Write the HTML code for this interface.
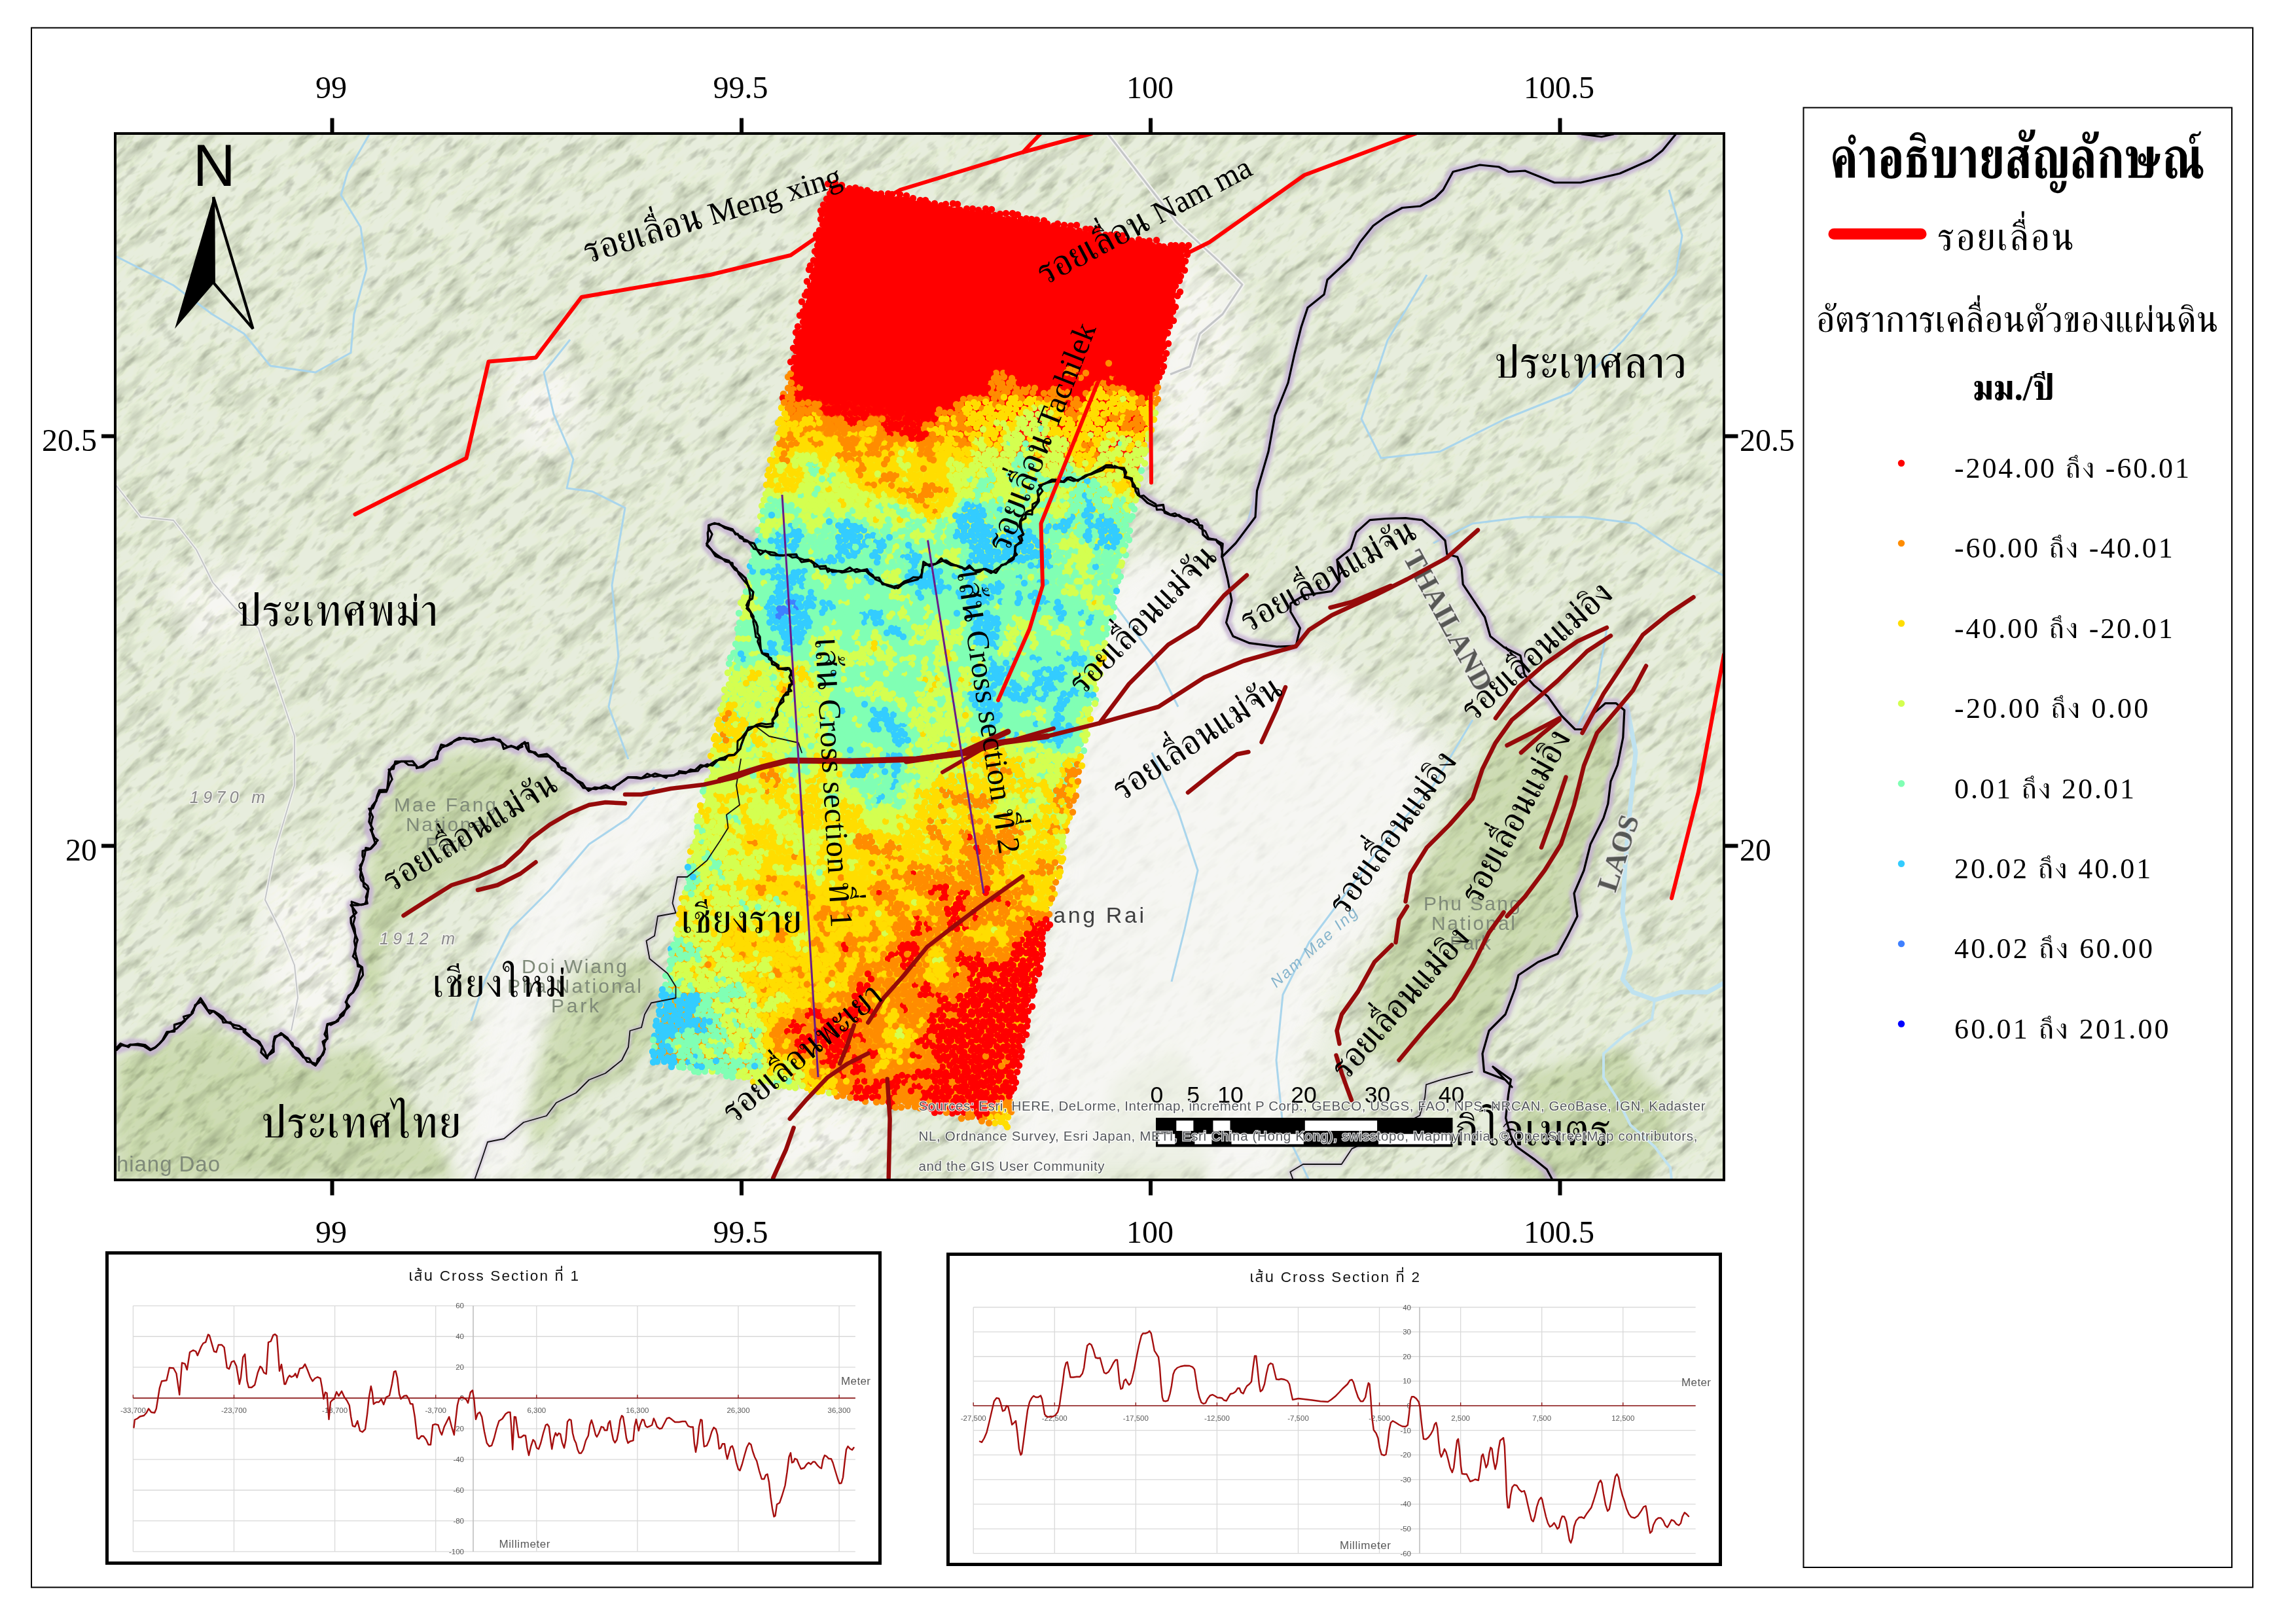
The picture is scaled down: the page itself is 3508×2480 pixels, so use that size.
<!DOCTYPE html>
<html><head><meta charset="utf-8"><title>map</title><style>html,body{margin:0;padding:0;background:#fff}svg{display:block}</style></head><body>
<svg width="3508" height="2480" viewBox="0 0 3508 2480" font-family="'Liberation Serif','FreeSerif','Noto Serif Thai','Loma',serif" fill="#000">
<defs>
<clipPath id="mc"><rect x="176" y="204" width="2458" height="1599"/></clipPath>
<linearGradient id="swg" gradientUnits="userSpaceOnUse" x1="1500" y1="300" x2="1260" y2="1700">
<stop offset="0" stop-color="#ff0000"/><stop offset=".24" stop-color="#ff0000"/><stop offset=".29" stop-color="#ffdd00"/><stop offset=".36" stop-color="#d4ff50"/><stop offset=".42" stop-color="#80ffb4"/><stop offset=".6" stop-color="#80ffb4"/><stop offset=".68" stop-color="#d4ff50"/><stop offset=".75" stop-color="#ffdd00"/><stop offset="1" stop-color="#ff8c00"/></linearGradient>
<filter id="hill" x="0" y="0" width="100%" height="100%" color-interpolation-filters="sRGB">
<feTurbulence type="fractalNoise" baseFrequency="0.014 0.05" numOctaves="4" seed="7" result="n"/>
<feColorMatrix type="matrix" values="0.46 0 0 0 0.775  0.46 0 0 0 0.785  0.46 0 0 0 0.755  0 0 0 0 1"/>
</filter>
<filter id="hill2" x="0" y="0" width="100%" height="100%" color-interpolation-filters="sRGB">
<feTurbulence type="fractalNoise" baseFrequency="0.035 0.09" numOctaves="3" seed="11"/>
<feColorMatrix type="matrix" values="0.55 0 0 0 0.745  0.55 0 0 0 0.75  0.55 0 0 0 0.735  0 0 0 0 1"/>
</filter>
<filter id="b30" x="-20%" y="-20%" width="140%" height="140%"><feGaussianBlur stdDeviation="22"/></filter>
<filter id="b12" x="-20%" y="-20%" width="140%" height="140%"><feGaussianBlur stdDeviation="10"/></filter>
<filter id="halo" x="-5%" y="-5%" width="110%" height="110%"><feGaussianBlur stdDeviation="2.2"/></filter>
</defs>
<rect width="3508" height="2480" fill="#fff"/>
<rect x="48" y="42.5" width="3394" height="2383" fill="none" stroke="#000" stroke-width="2"/>
<g clip-path="url(#mc)">
<rect x="176" y="204" width="2458" height="1599" fill="#e7eddd"/>
<g filter="url(#b30)" fill="#f6f6f2">
<polygon points="1640,930 1760,850 1860,880 1905,1000 2010,1010 2120,1090 2200,1150 2160,1290 2110,1400 2030,1500 1990,1640 1960,1803 1500,1803 1540,1722 1600,1430"/>
<polygon points="930,1215 1080,1195 1040,1290 930,1380 880,1470 830,1560 800,1700 790,1803 700,1803 720,1660 740,1540 770,1440 810,1350 860,1270"/>
<polygon points="770,560 860,540 900,620 860,700 790,690"/>
<polygon points="1740,380 1880,420 1900,560 1830,700 1780,760 1760,600"/>
<polygon points="1180,1640 1350,1700 1330,1803 1120,1803"/>
<polygon points="400,1330 545,1300 548,1480 530,1540 490,1600 440,1590 395,1500"/>
<polygon points="250,880 400,860 430,960 300,1000"/>
</g>
<g filter="url(#b12)" fill="#cddbb4">
<polygon points="600,1190 690,1150 790,1160 880,1210 840,1250 760,1310 660,1370 600,1420 570,1560 540,1480 570,1300"/>
<polygon points="2290,1100 2390,1110 2470,1090 2470,1200 2430,1330 2390,1450 2310,1510 2270,1620 2170,1640 2080,1600 2100,1480 2150,1380 2190,1290 2260,1180"/>
<polygon points="176,1620 300,1560 420,1620 560,1600 640,1700 700,1803 176,1803"/>
<polygon points="880,1480 1000,1460 1020,1560 960,1640 880,1680 820,1760 800,1700 830,1580"/>
<polygon points="1700,1650 1800,1600 1860,1700 1840,1803 1660,1803"/>
<polygon points="2330,1640 2480,1600 2560,1700 2520,1803 2300,1803"/>
</g>
<rect x="-60" y="-430" width="2930" height="2870" filter="url(#hill)" transform="rotate(-42 1405 1003)" style="mix-blend-mode:multiply"/>
<rect x="-60" y="-430" width="2930" height="2870" filter="url(#hill2)" transform="rotate(-40 1405 1003)" style="mix-blend-mode:multiply"/>
<g filter="url(#b30)" fill="#f7f7f4" opacity=".8">
<polygon points="1640,930 1760,850 1860,880 1905,1000 2010,1010 2120,1090 2200,1150 2160,1290 2110,1400 2030,1500 1990,1640 1960,1803 1500,1803 1540,1722 1600,1430"/>
<polygon points="930,1215 1080,1195 1040,1290 930,1380 880,1470 830,1560 800,1700 790,1803 700,1803 720,1660 740,1540 770,1440 810,1350 860,1270"/>
</g>
<g fill="none" stroke="#a9d5ec" stroke-width="3" stroke-linejoin="round">
<polyline points="565,204 531,263 521,298 551,347 560,411 541,480 536,539 482,569 413,559 373,510 324,480 265,436 176,391"/>
<polyline points="871,519 831,569 846,633 876,702 866,746 905,751 955,776 945,835 935,894 945,1004 930,1080 960,1160"/>
<polyline points="1000,1203 960,1250 900,1290 840,1360 780,1420 740,1500 720,1560"/>
<polyline points="1920,750 1900,820 1868,851"/>
<polyline points="2180,420 2120,520 2080,640 2110,700 2200,690 2300,640 2400,600 2480,520 2560,420 2570,360 2550,290"/>
<polyline points="2634,880 2560,840 2500,800 2420,790 2330,790 2250,800 2190,830"/>
<polyline points="2455,960 2440,1050 2410,1110"/>
<polyline points="2250,1100 2190,1200 2120,1280 2060,1360 2000,1440 1960,1520 1950,1620 1960,1720 2000,1803"/>
<polyline points="1760,1150 1800,1240 1830,1330 1810,1420 1790,1500"/>
<polyline points="1640,870 1700,920 1760,1000 1800,1080"/>
</g>
<g fill="none" stroke="#bfe2f0" stroke-width="7" stroke-linejoin="round">
<polyline points="2485,1075 2499,1150 2491,1231 2483,1321 2479,1394 2491,1455 2479,1496 2495,1516 2528,1528 2568,1516 2609,1516 2634,1502"/>
<polyline stroke-width="4" points="2528,1528 2524,1557 2483,1581 2450,1610 2450,1646 2471,1679 2491,1719 2528,1752 2552,1784 2554,1803"/>
</g>
<polyline points="1693,205 1728,250 1798,340 1863,400 1898,435 1868,480 1833,510 1818,560 1788,572" fill="none" stroke="#f4f4f2" stroke-width="7" stroke-linejoin="round"/>
<polyline points="1693,205 1728,250 1798,340 1863,400 1898,435 1868,480 1833,510 1818,560 1788,572" fill="none" stroke="#c4c6c8" stroke-width="3" stroke-linejoin="round"/>
<polyline points="176,740 215,790 265,795 300,840 325,890 360,930 395,960 425,1050 450,1125 450,1200 420,1300 405,1375 430,1425 450,1475 455,1525 445,1575" fill="none" stroke="#f4f4f2" stroke-width="5" stroke-linejoin="round" opacity=".8"/>
<polyline points="176,740 215,790 265,795 300,840 325,890 360,930 395,960 425,1050 450,1125 450,1200 420,1300 405,1375 430,1425 450,1475 455,1525 445,1575" fill="none" stroke="#c2c4c6" stroke-width="1.8" stroke-linejoin="round"/>
<polyline points="2560,205.5 2540,230 2522.5,244 2475,265 2415,279 2375,279 2330,261 2305,262.5 2290,255 2261,252 2220,262.5 2205,290 2192.5,302.5 2170,315 2142.5,317.5 2117.5,331 2098,345 2078,370 2063,395 2028,427.5 2023,450 1998,470 1988,500 1978,540 1968,585 1948,635 1938,690 1920.5,750 1918,790 1888,830 1867,851" fill="none" stroke="#b9dcee" stroke-width="7" stroke-linejoin="round" opacity=".8"/>
<g font-family="'Liberation Sans','Noto Sans Thai','Loma','FreeSans',sans-serif" fill="#7f8a79" font-size="30" letter-spacing="2">
<text x="290" y="1227" font-style="italic" font-size="25" fill="#8a8a8a" stroke="#f2f2ee" stroke-width="3" paint-order="stroke" textLength="117">1970 m</text>
<text x="580" y="1443" font-style="italic" font-size="25" fill="#8a8a8a" stroke="#f2f2ee" stroke-width="3" paint-order="stroke" textLength="117">1912 m</text>
<text x="602" y="1240" textLength="158">Mae Fang</text><text x="620" y="1270" textLength="130">National</text><text x="650" y="1300" textLength="65">Park</text>
<text x="797" y="1487" textLength="163">Doi Wiang</text><text x="775" y="1517" textLength="207">Pha National</text><text x="842" y="1547" textLength="75">Park</text>
<text x="2175" y="1391" textLength="150">Phu Sang</text><text x="2187" y="1421" textLength="130">National</text><text x="2215" y="1451" textLength="65">Park</text>
<text x="178" y="1790" font-size="33" textLength="160">hiang Dao</text>
<text x="1598" y="1410" font-size="34" fill="#3f3f3f" textLength="152" stroke="#f4f4f2" stroke-width="3" paint-order="stroke">iang Rai</text>
<text x="1950" y="1510" transform="rotate(-42 1950 1510)" font-style="italic" fill="#86b4cc" font-size="24" letter-spacing="2.5">Nam Mae Ing</text>
</g>
<g font-family="'Liberation Serif','FreeSerif','Noto Serif Thai','Loma',serif" fill="#3d3d3d" stroke="#e9e9e6" stroke-width="4" paint-order="stroke" font-weight="bold" opacity=".85">
<text x="2143" y="851" transform="rotate(61.4 2143 851)" font-size="44" textLength="238">THAILAND</text>
<text x="2468" y="1365" transform="rotate(-72 2468 1365)" font-size="44" textLength="120">LAOS</text>
</g>
<g filter="url(#halo)" opacity=".85">
<polyline points="177.5,1602.5 200,1595 220,1597.5 231,1605 250,1590 255,1577.5 272.5,1570 290,1550 297.5,1535 307.5,1529 320,1545 335,1550 350,1565 370,1572.5 385,1587.5 400,1597.5 405,1617.5 417.5,1605 420,1585 430,1580 445,1592.5 457.5,1610 470,1622.5 485,1627.5 492.5,1610 500,1565 515,1560 525,1550 531,1530 540,1515 547.5,1500 552.5,1480 542.5,1460 545,1430 539,1410 542.5,1395 537.5,1382.5 560,1380 562.5,1360 550,1330 557.5,1300 575,1290 565,1270 567.5,1240 580,1210 592.5,1207.5 595,1180 605,1167.5 625,1162.5 637.5,1172.5 650,1170 667.5,1160 670,1145 690,1135 710,1127.5 735,1135 755,1130 775,1137.5 790,1145 800,1135 810,1147.5 825,1155 837.5,1150 850,1165 865,1180 880,1192.5 900,1205 920,1205 945,1200 960,1190 980,1187.5 1000,1185 1025,1185 1047,1180.2 1078.4,1170.4 1105.8,1158.7 1129.4,1146.9 1133.3,1127.3 1152.9,1107.7 1180.3,1107.7 1188.2,1076.3 1203.8,1060.7 1211.7,1041 1207.8,1025.4 1188.2,1017.5 1164.6,997.9 1156.8,966.6 1143,927.4 1149,903.8 1137.2,884.2 1117.6,860.7 1094,849 1080.4,833.3 1082.3,801.9 1098,800 1121.5,813.7 1145,829.4 1156.8,841 1188.2,847 1213,850 1248,862.5 1273,875 1298,870 1323,870 1348,890 1363,898.5 1383,890 1408,880 1410.5,862.5 1438,857.5 1468,867.5 1498,872.5 1523,872.5 1548,850 1563,815 1558,795 1573,780 1588,760 1590.5,742.5 1608,735 1648,732.5 1668,725 1698,712.5 1713,715 1728,735 1740.5,755 1763,770 1788,785 1818,795 1838,805 1848,820 1868,832.5 1867,851" fill="none" stroke="#c6b3d3" stroke-width="17" stroke-linejoin="round" stroke-linecap="round" />
<polyline points="1867.2,851 1875.6,884.5 1881.9,917.9 1873.5,951.4 1884,972.3 1909.1,982.7 1950.9,988.2 1980.1,986.9 1986.4,959.8 1971.8,934.7 1971.8,922.1 1992.7,909.6 2034.5,903.3 2047,888.7 2042.9,855.2 2063.8,838.5 2072.1,813.4 2093,794.6 2118.1,792.5 2147.4,791.7 2172.5,794.6 2193.4,811.3 2208,826 2210.9,846.9 2226.8,851 2233.1,867.8 2235.2,892.9 2251.9,917.9 2268.6,943 2277,972.3 2297.9,989 2323,1001.6 2329.3,1030.8 2343.9,1047.6 2364.8,1064.3 2385.7,1093.5 2406.6,1114.5 2419.2,1114.5 2435.9,1089.4 2452.6,1074.7 2469.3,1074.7 2481.9,1085.2 2479.8,1127 2471.4,1168.8 2461,1193.9 2456.8,1228.2 2450,1250 2430,1290 2420,1330 2405,1365 2410,1400 2395,1430 2380,1457.5 2350,1470 2320,1490 2315,1510 2300,1550 2275,1575 2265,1610 2267.5,1637.5 2300,1650 2310,1661 2281,1630 2308.4,1649.6 2304.5,1673.1 2300.6,1708.4 2308.4,1735.8 2316.2,1751.5 2343.7,1771.1 2363.3,1786.8 2371.1,1801.3" fill="none" stroke="#c6b3d3" stroke-width="15" stroke-linejoin="round" stroke-linecap="round" />
<polyline points="2560,205.5 2540,230 2522.5,244 2475,265 2415,279 2375,279 2330,261 2305,262.5 2290,255 2261,252 2220,262.5 2205,290 2192.5,302.5 2170,315 2142.5,317.5 2117.5,331 2098,345 2078,370 2063,395 2028,427.5 2023,450 1998,470 1988,500 1978,540 1968,585 1948,635 1938,690 1920.5,750 1918,790 1888,830 1867,851" fill="none" stroke="#c6b3d3" stroke-width="15" stroke-linejoin="round" stroke-linecap="round" />
<polyline points="2417,205 2447,209 2465,205" fill="none" stroke="#c6b3d3" stroke-width="15" stroke-linejoin="round" stroke-linecap="round" />
<polyline points="1155,1110 1175,1125 1220,1135 1225,1150" fill="none" stroke="#cfc2d8" stroke-width="6" stroke-linejoin="round" stroke-linecap="round" />
<polyline points="1132,1160 1125,1200 1130,1230 1110,1245 1112.5,1265 1100,1285 1080,1315 1050,1340 1035,1340 1027.5,1380 1032.5,1395 1005,1400 1000,1430 987.5,1437.5 992.5,1465 1020,1487.5 1032.5,1507.5 1032.5,1525 995,1532.5 985,1550 980,1570 962.5,1575 960,1600 950,1620 925,1640 900,1650 880,1670 850,1685 835,1705 800,1715 770,1740 745,1745 735,1775 725,1803" fill="none" stroke="#cfc2d8" stroke-width="6" stroke-linejoin="round" stroke-linecap="round" />
<polyline points="2249.6,1637.8 2202.6,1649.6 2179,1657.4 2177.1,1677 2169.2,1704.5 2116.3,1731.9 2065.4,1755.4 2049.7,1779 1990.9,1779 1971.3,1790.7 1975.2,1801.3" fill="none" stroke="#cfc2d8" stroke-width="6" stroke-linejoin="round" stroke-linecap="round" />
</g>
<g fill="none" stroke-width="10.4" stroke-linecap="round"><polygon points="1269,283 1810,381 1534,1713 997,1618" fill="url(#swg)"/>
<path d="M1350 617h0M1324 585h0M1260 430h0M1216 586h0M1728 476h0M1297 601h0M1281 458h0M1468 1363h0M1736 482h0M1560 1519h0M1419 592h0M1318 329h0M1627 408h0M1413 381h0M1535 1482h0M1593 1458h0M1519 1480h0M1380 414h0M1603 553h0M1522 459h0M1426 452h0M1682 515h0M1267 310h0M1639 353h0M1392 1449h0M1541 412h0M1401 517h0M1613 462h0M1663 438h0M1706 548h0M1312 438h0M1436 468h0M1598 544h0M1478 338h0M1751 560h0M1339 544h0M1668 475h0M1584 570h0M1791 431h0M1389 569h0M1230 578h0M1336 391h0M1579 500h0M1257 454h0M1290 632h0M1400 360h0M1443 335h0M1500 563h0M1288 384h0M1359 367h0M1574 1452h0M1252 414h0M1304 623h0M1496 1551h0M1465 1577h0M1626 344h0M1526 453h0M1512 552h0M1362 522h0M1384 486h0M1314 1662h0M1478 445h0M1350 555h0M1483 1530h0M1342 492h0M1602 398h0M1568 1456h0M1613 522h0M1533 1600h0M1432 430h0M1432 321h0M1473 1466h0M1766 522h0M1420 1592h0M1632 368h0M1645 344h0M1445 1639h0M1358 578h0M1563 1482h0M1286 437h0M1269 322h0M1654 530h0M1398 1659h0M1519 1668h0M1455 326h0M1567 460h0M1560 1538h0M1600 373h0M1333 1677h0M1490 1636h0M1587 538h0M1329 1544h0M1338 624h0M1238 406h0M1496 1506h0M1428 483h0M1330 517h0M1767 584h0M1693 383h0M1511 1575h0M1288 478h0M1419 563h0M1704 523h0M1580 419h0M1588 576h0M1473 376h0M1328 313h0M1242 461h0M1377 631h0M1468 602h0M1632 521h0M1314 586h0M1410 313h0M1323 537h0M1258 485h0M1764 553h0M1548 1475h0M1435 435h0M1477 508h0M1498 1683h0M1634 577h0M1816 375h0M1385 299h0M1383 420h0M1375 359h0M1249 468h0M1377 444h0M1718 391h0M1257 548h0M1511 532h0M1342 306h0M1438 1558h0M1319 358h0M1252 352h0M1285 593h0M1751 500h0M1506 1489h0M1508 516h0M1283 1607h0M1527 1528h0M1288 522h0M1263 381h0M1605 414h0M1715 576h0M1418 548h0M1658 462h0M1616 342h0M1326 491h0M1296 585h0M1683 366h0M1660 468h0M1726 578h0M1440 1599h0M1384 546h0M1562 499h0M1338 359h0M1333 381h0M1450 585h0M1522 1551h0M1410 452h0M1536 469h0M1434 1643h0M1699 530h0M1514 446h0M1464 607h0M1719 509h0M1351 630h0M1760 517h0M1446 607h0M1665 491h0M1429 1652h0M1607 406h0M1479 1583h0M1638 554h0M1382 373h0M1729 521h0M1472 592h0M1512 1506h0M1720 493h0M1545 1544h0M1321 312h0M1414 1520h0M1359 491h0M1339 561h0M1338 342h0M1332 305h0M1384 641h0M1359 306h0M1758 412h0M1305 571h0M1360 616h0M1473 406h0M1748 523h0M1599 593h0M1469 1457h0M1759 530h0M1420 513h0M1605 584h0M1267 392h0M1724 374h0M1814 389h0M1721 368h0M1494 523h0M1565 392h0M1517 1654h0M1542 397h0M1423 540h0M1477 319h0M1481 500h0M1388 540h0M1620 429h0M1322 406h0M1629 414h0M1461 524h0M1365 498h0M1609 577h0M1213 1558h0M1578 1507h0M1638 398h0M1326 320h0M1463 390h0M1363 563h0M1544 423h0M1397 538h0M1286 360h0M1263 630h0M1487 1521h0M1562 531h0M1247 609h0M1467 1569h0M1431 1678h0M1343 428h0M1725 388h0M1504 1643h0M1317 381h0M1361 570h0M1470 428h0M1588 374h0M1433 476h0M1303 484h0M1400 1402h0M1465 360h0M1510 576h0M1710 429h0M1379 306h0M1620 415h0M1740 477h0M1519 454h0M1342 396h0M1449 602h0M1604 431h0M1380 431h0M1404 1458h0M1257 389h0M1695 431h0M1755 400h0M1482 422h0M1569 1568h0M1593 492h0M1301 531h0M1515 490h0M1508 405h0M1542 1662h0M1560 1553h0M1232 561h0M1416 1411h0M1533 1474h0M1506 350h0M1683 554h0M1482 547h0M1252 524h0M1302 298h0M1305 1613h0M1643 423h0M1763 577h0M1571 1545h0M1283 516h0M1552 389h0M1487 1394h0M1383 1451h0M1323 430h0M1459 1395h0M1501 500h0M1548 552h0M1440 431h0M1258 624h0M1510 1639h0M1760 544h0M1478 352h0M1610 391h0M1452 615h0M1512 524h0M1668 570h0M1493 529h0M1386 646h0M1393 451h0M1730 415h0M1468 1380h0M1233 430h0M1539 1473h0M1455 483h0M1575 1458h0M1410 670h0M1365 1686h0M1255 469h0M1224 523h0M1301 376h0M1606 531h0M1248 1574h0M1555 328h0M1431 1550h0M1569 382h0M1478 462h0M1498 513h0M1563 467h0M1347 329h0M1661 579h0M1249 375h0M1607 359h0M1356 516h0M1352 509h0M1780 498h0M1299 475h0M1668 505h0M1310 420h0M1706 484h0M1345 529h0M1748 492h0M1705 532h0M1675 474h0M1345 624h0M1566 443h0M1503 460h0M1600 500h0M1497 1707h0M1366 578h0M1740 600h0M1442 1538h0M1276 344h0M1452 334h0M1366 514h0M1569 524h0M1491 516h0M1604 444h0M1716 467h0M1333 523h0M1640 540h0M1231 468h0M1371 351h0M1782 414h0M1719 540h0M1472 500h0M1252 552h0M1571 437h0M1400 548h0M1804 422h0M1463 1465h0M1261 1582h0M1328 1667h0M1325 508h0M1665 537h0M1329 594h0M1495 1581h0M1568 1505h0M1751 469h0M1616 561h0M1495 429h0M1506 445h0M1434 521h0M1510 422h0M1589 498h0M1451 1410h0M1481 454h0M1568 1444h0M1775 506h0M1309 1652h0M1253 430h0M1490 467h0M1722 382h0M1713 477h0M1690 544h0M1537 453h0M1273 375h0M1342 415h0M1430 608h0M1493 1701h0M1785 525h0M1586 478h0M1383 516h0M1438 314h0M1543 1514h0M1440 616h0M1650 477h0M1335 414h0M1537 1576h0M1414 600h0M1466 451h0M1493 1464h0M1434 493h0M1693 368h0M1624 501h0M1528 1499h0M1505 414h0M1715 407h0M1349 405h0M1680 437h0M1495 321h0M1572 405h0M1367 1669h0M1442 522h0M1632 429h0M1446 454h0M1404 1426h0M1517 361h0M1522 1506h0M1337 1667h0M1787 422h0M1288 508h0M1706 419h0M1276 1622h0M1431 1662h0M1755 523h0M1476 1553h0M1225 603h0M1449 381h0M1406 306h0M1382 500h0M1560 1569h0M1511 501h0M1269 414h0M1303 591h0M1611 555h0M1418 1670h0M1426 561h0M1423 1694h0M1280 319h0M1364 654h0M1784 381h0M1371 397h0M1314 1520h0M1280 337h0M1378 475h0M1661 389h0M1464 373h0M1500 1590h0M1698 516h0M1300 1669h0M1639 429h0M1334 369h0M1287 491h0M1778 470h0M1673 454h0M1402 328h0M1355 423h0M1620 571h0M1438 390h0M1426 500h0M1482 563h0M1670 577h0M1544 438h0M1463 1558h0M1472 345h0M1701 413h0M1542 1519h0M1560 412h0M1709 514h0M1283 609h0M1401 640h0M1429 438h0M1425 398h0M1284 1637h0M1634 531h0M1482 1464h0M1564 373h0M1487 1581h0M1308 647h0M1527 1606h0M1543 1576h0M1295 529h0M1401 376h0M1734 501h0M1571 547h0M1356 344h0M1428 311h0M1428 343h0M1447 1667h0M1512 1661h0M1661 513h0M1477 1631h0M1622 553h0M1587 584h0M1689 405h0M1371 554h0M1446 422h0M1625 562h0M1702 447h0M1533 1503h0M1311 391h0M1472 1668h0M1449 365h0M1614 538h0M1547 1622h0M1250 439h0M1770 420h0M1393 610h0M1675 400h0M1584 524h0M1285 406h0M1499 531h0M1316 444h0M1364 610h0M1513 538h0M1640 383h0M1510 560h0M1590 344h0M1350 459h0M1715 499h0M1465 498h0M1424 368h0M1309 1544h0M1716 544h0M1500 454h0M1475 436h0M1552 1608h0M1742 437h0M1744 498h0M1680 577h0M1289 431h0M1641 523h0M1406 663h0M1587 599h0M1269 461h0M1475 560h0M1306 415h0" stroke="#ff0000"/>
<path d="M1445 1327h0M1268 1528h0M1234 1365h0M1539 1394h0M1338 1357h0M1539 1301h0M1496 1443h0M1686 585h0M1455 1496h0M1671 594h0M1279 1552h0M1452 1473h0M1504 1316h0M1220 640h0M1322 1280h0M1331 1558h0M1512 1302h0M1397 1678h0M1416 1333h0M1336 1433h0M1281 1442h0M1393 1543h0M1369 1413h0M1204 576h0M1305 693h0M1402 1575h0M1458 1443h0M1526 578h0M1622 600h0M1371 1488h0M1550 1425h0M1287 1536h0M1321 1436h0M1392 1606h0M1280 1659h0M1748 646h0M1537 1451h0M1536 1402h0M1105 1122h0M1299 1503h0M1619 1216h0M1544 1435h0M1259 1388h0M1305 1645h0M1700 576h0M1413 1566h0M1434 646h0M1195 672h0M1486 1382h0M1485 1285h0M1287 1460h0M1362 1364h0M1586 1396h0M1468 1223h0M1290 694h0M1452 1209h0M1454 1343h0M1260 1396h0M1429 1529h0M1153 1442h0M1494 1347h0M1549 1379h0M1358 1542h0M1346 1482h0M1459 1520h0M1393 747h0M1252 1567h0M1311 1608h0M1478 1394h0M1400 1483h0M1419 1387h0M1425 1348h0M1538 1683h0M1179 1177h0M1631 1176h0M1414 1457h0M1636 626h0M1194 1589h0M1418 1452h0M1328 1355h0M1242 1507h0M1388 757h0M1422 1614h0M1302 686h0M1280 664h0M1560 1365h0M1294 1668h0M1419 1622h0M1320 1621h0M1632 599h0M1266 657h0M1485 1318h0M1323 1630h0M1345 672h0M1290 1662h0M1418 1370h0M1354 1652h0M1409 1405h0M1224 633h0M1194 1606h0M1325 1476h0M1335 1506h0M1481 1358h0M1505 1271h0M1406 1535h0M1564 1418h0M1395 1567h0M1449 1504h0M1202 685h0M1363 1529h0M1295 1527h0M1323 1289h0M1412 1356h0M1197 602h0M1379 1661h0M1290 1628h0M1765 616h0M1640 1223h0M1400 765h0M1427 1421h0M1618 609h0M1438 1232h0M1452 1333h0M1543 1683h0M1532 1287h0M1502 1498h0M1487 1348h0M1515 1379h0M1433 1428h0M1648 1179h0M1319 656h0M1437 1405h0M1516 1467h0M1545 1699h0M1387 1613h0M1383 1636h0M1420 1684h0M1532 1318h0M1514 1224h0M1674 695h0M1344 1598h0M1593 1317h0M1289 1475h0M1346 1498h0M1450 1379h0M1323 1567h0M1441 1350h0M1245 1646h0M1543 591h0M1411 1624h0M1248 654h0M1407 758h0M1361 1598h0M1197 1566h0M1396 1319h0M1370 1396h0M1615 1265h0M1335 1647h0M1212 595h0M1396 1409h0M1372 671h0M1626 609h0M1366 1311h0M1325 646h0M1687 640h0M1382 1622h0M1449 1288h0M1560 1272h0M1242 1582h0M1235 1568h0M1459 1504h0M1359 1302h0M1440 1396h0M1634 563h0M1172 1191h0M1691 592h0M1334 694h0M1308 1504h0M1286 1449h0M1187 1435h0M1222 626h0M1472 1355h0M1491 1310h0M1576 1332h0M1331 640h0M1539 599h0M1511 1278h0M1563 1402h0M1367 1387h0M1313 1436h0M1441 1335h0M1445 1404h0M1375 749h0M1343 1380h0M1401 1464h0M1531 1460h0M1284 1468h0M1195 701h0M1407 1504h0M1500 624h0M1322 1683h0M1374 1296h0M1536 1278h0M1263 1628h0M1324 1536h0M1529 607h0M1343 1582h0" stroke="#ff8c00"/>
<path d="M1184 1559h0M1240 1620h0M1186 686h0M1170 1566h0M1554 1341h0M1379 1568h0M1219 1388h0M1449 742h0M1459 661h0M1209 1472h0M1459 1287h0M1268 1339h0M1587 1304h0M1194 1247h0M1543 1405h0M1373 1498h0M1247 1495h0M1384 1574h0M1711 618h0M1085 1371h0M1641 1161h0M1223 1233h0M1321 672h0M1522 1146h0M1760 623h0M1699 655h0M1613 663h0M1375 1357h0M1101 1239h0M1712 646h0M1196 1514h0M1201 1356h0M1328 1373h0M1215 1427h0M1400 1294h0M1518 1184h0M1199 1194h0M1164 1194h0M1253 1194h0M1381 688h0M1188 1224h0M1227 1457h0M1317 663h0M1486 1193h0M1656 646h0M1283 1512h0M1440 1458h0M1647 1161h0M1506 665h0M1495 1160h0M1590 1199h0M1175 1154h0M1344 743h0M1158 1278h0M1226 1022h0M1500 1263h0M1233 1443h0M1346 1403h0M1637 686h0M1132 1450h0M1222 1029h0M1374 1280h0M1671 625h0M1221 1265h0M1708 608h0M1250 1668h0M1517 641h0M1193 1620h0M1260 1193h0M1359 1565h0M1688 622h0M1305 1303h0M1634 1249h0M1086 1468h0M1508 1200h0M1186 1496h0M1213 1513h0M1500 1153h0M1148 1451h0M1447 1231h0M1433 1036h0M1200 1442h0M1270 1647h0M1239 1464h0M1716 735h0M1361 1552h0M1292 1496h0M1299 1333h0M1180 1457h0M1309 1308h0M1455 687h0M1568 1254h0M1173 1270h0M1535 1184h0M1504 1147h0M1401 1370h0M1108 1084h0M1486 646h0M1382 1308h0M1497 633h0M1348 1527h0M1370 1318h0M1534 1153h0M1212 1621h0M1266 1483h0M1551 1334h0M1099 1114h0M1247 1449h0M1735 609h0M1305 662h0M1303 1404h0M1531 1160h0M1494 1130h0M1179 1350h0M1266 673h0M1257 670h0M1503 1255h0M1270 1459h0M1720 743h0M1348 1343h0M1112 1436h0M1610 655h0M1677 646h0M1578 1255h0M1343 1457h0M1445 733h0M1419 1281h0M1219 1620h0M1497 1272h0M1500 1169h0M1220 734h0M1451 1272h0M1428 1217h0M1392 1405h0M1573 1310h0M1705 656h0M1150 1373h0M1457 1231h0M1389 679h0M1539 1211h0M1605 662h0M1414 1256h0M1280 1459h0M1603 648h0M1732 623h0M1254 1457h0M1245 1659h0M1249 1419h0M1184 1511h0M1190 1550h0M1302 1357h0M1610 1249h0M1682 607h0M1116 1133h0M1187 1404h0M1511 638h0M1351 1537h0M1612 647h0M1166 1450h0M1042 1405h0M1196 688h0M1302 1480h0M1488 678h0M1236 1409h0M1102 1109h0M1159 1373h0M1377 1270h0M1237 1389h0M1348 1294h0M1260 1378h0M1575 617h0M1333 1380h0M1458 1332h0M1156 1527h0M1186 719h0M1593 616h0M1346 719h0M1400 716h0M1418 1217h0M1239 1093h0M1495 664h0M1287 1332h0M1099 1222h0M1707 700h0M1352 1395h0M1197 648h0M1213 655h0M1327 766h0M1173 1224h0M1365 1558h0M1591 1308h0M1699 688h0M1413 1395h0M1280 1506h0M1346 701h0M1124 1435h0M1622 1177h0M1397 1271h0M1170 1178h0M1269 1381h0M1447 1280h0M1367 1355h0M1146 1036h0M1540 1163h0M1602 1209h0M1546 1343h0M1526 1356h0M1380 1285h0M1118 1413h0M1671 607h0M1513 1209h0M1292 1421h0M1521 1270h0M1230 1215h0M1259 1249h0M1422 709h0M1166 1277h0M1253 1208h0M1374 1248h0M1128 1444h0M1415 787h0M1268 1654h0M1225 1349h0M1368 695h0M1251 1378h0M1284 1309h0M1215 1020h0M1256 1357h0M1403 688h0M1536 1717h0M1193 1231h0M1434 1193h0M1398 773h0M1295 1466h0M1305 1379h0M1250 1202h0M1243 1615h0M1555 1247h0M1628 1234h0M1135 1441h0M1216 1504h0M1586 1366h0M1177 703h0M1463 1341h0M1448 1155h0M1611 1366h0M1419 797h0M1251 1164h0M1293 1483h0M1236 1038h0M1674 616h0M1609 624h0M1359 1613h0M1432 740h0M1607 1294h0M1235 1269h0M1585 1255h0M1532 1708h0M1539 1722h0M1442 1488h0M1212 1202h0M1431 1316h0M1437 1263h0M1433 1489h0M1243 1457h0M1562 1183h0M1170 1519h0M1266 1637h0M1418 1483h0M1479 1254h0M1303 1420h0M1170 1351h0M1150 1435h0M1196 1481h0M1324 1425h0M1229 1496h0M1466 1170h0M1135 1413h0M1341 1488h0M1661 655h0M1243 1254h0M1201 656h0M1202 1203h0M1507 1248h0M1575 1379h0M1200 1301h0M1157 1514h0M1307 1363h0M1216 1413h0M1575 1301h0M1169 1309h0M1171 1613h0M1437 1217h0M1181 1318h0M1498 1249h0M1603 616h0M1123 1418h0M1153 1363h0M1411 778h0M1432 678h0M1280 1300h0M1452 1224h0M1222 1495h0M1461 693h0M1441 1240h0M1182 727h0M1519 1324h0" stroke="#ffdd00"/>
<path d="M1119 1613h0M1440 786h0M1302 751h0M1428 952h0M1528 703h0M1617 716h0M1595 1145h0M1441 1006h0M1395 1209h0M1227 1068h0M1413 1300h0M1220 1435h0M1231 1451h0M1204 1527h0M1666 881h0M1032 1480h0M1461 1146h0M1219 1109h0M1197 1133h0M1557 665h0M1684 724h0M1602 771h0M1319 1062h0M1223 1402h0M1609 701h0M1135 1552h0M1377 1254h0M1409 1108h0M1278 1225h0M1666 665h0M1156 1607h0M1046 1490h0M1596 693h0M1070 1511h0M1228 794h0M1285 921h0M1503 727h0M1508 763h0M1279 989h0M1370 1272h0M1327 1264h0M1335 1334h0M1476 1177h0M1560 1224h0M1495 711h0M1325 912h0M1609 969h0M1541 958h0M1532 742h0M1234 1101h0M1071 1255h0M1043 1511h0M1254 788h0M1366 903h0M1163 1068h0M1664 1030h0M1176 1078h0M1140 1062h0M1522 1240h0M1449 1178h0M1186 735h0M1108 1160h0M1544 764h0M1204 1265h0M1192 1139h0M1616 1169h0M1252 741h0M1176 1123h0M1118 1037h0M1447 1169h0M1103 1310h0M1195 1077h0M1217 1038h0M1164 1491h0M1074 1428h0M1107 1067h0M1406 819h0M1167 764h0M1096 1152h0M1137 1038h0M1456 1170h0M1135 944h0M1479 1116h0M1438 857h0M1243 975h0M1066 1295h0M1445 983h0M1524 742h0M1175 1013h0M1299 881h0M1356 982h0M1585 758h0M1153 1241h0M1266 966h0M1417 1137h0M1195 1653h0M1560 1147h0M1587 1098h0M1133 1530h0M1149 934h0M1355 873h0M1203 1106h0M1137 1646h0M1515 1193h0M1612 711h0M1366 841h0M1211 1655h0M1239 701h0M1686 740h0M1424 1116h0M1582 1093h0M1248 732h0M1261 1055h0M1247 1340h0M1436 1091h0M1092 1536h0M1701 664h0M1430 1014h0M1658 1084h0M1091 1238h0M1123 1293h0M1206 1644h0M1590 1140h0M1415 1163h0M1605 725h0M1731 696h0M1091 1612h0M1437 1121h0M1327 1215h0M1242 741h0M1676 710h0M1107 1288h0M1510 1140h0M1157 1121h0M1393 1152h0M1154 1192h0M1269 1052h0M1107 1303h0M1130 1075h0M1366 873h0M1207 1035h0M1152 1381h0M1432 991h0M1132 1047h0M1420 1062h0M1536 969h0M1684 990h0M1534 1122h0M1244 696h0M1585 664h0M1429 1140h0M1429 1000h0M1462 1138h0M1141 1310h0M1203 1060h0M1554 640h0M1076 1419h0M1443 1053h0M1476 1099h0M1414 1147h0M1119 1207h0M1319 1231h0M1259 747h0M1211 1061h0M1593 757h0M1127 1082h0M1414 942h0M1703 693h0M1186 1542h0M1213 1280h0M1260 727h0M1497 725h0M1109 1253h0M1522 927h0M1254 1285h0M1215 771h0M1229 778h0M1644 718h0M1686 960h0M1437 1107h0M1419 1077h0M1353 771h0M1147 1386h0M1306 786h0M1387 770h0M1279 1163h0M1390 921h0M1212 1388h0M1104 1295h0M1459 1178h0M1076 1467h0M1293 781h0M1306 973h0M1623 1286h0M1395 1084h0M1574 794h0M1359 991h0M1129 1138h0M1095 1480h0M1411 1140h0M1424 1132h0M1118 1489h0M1520 1249h0M1110 1457h0M1414 1177h0M1412 1075h0M1081 1194h0M1440 960h0M1580 702h0M1157 999h0M1468 1053h0M1424 973h0M1350 1240h0M1135 1581h0M1155 1395h0M1376 937h0M1073 1316h0M1137 1506h0M1237 1278h0M1270 1098h0M1284 750h0M1180 1101h0M1090 1348h0M1281 973h0M1161 1039h0M1297 1210h0M1393 1200h0M1215 1287h0M1445 1013h0M1117 1348h0M1197 1397h0M1638 834h0M1554 655h0M1242 1115h0M1427 1185h0M1195 1168h0M1206 1661h0M1100 1380h0M1140 1358h0M1263 974h0M1682 686h0M1140 1512h0M1662 1046h0M1726 750h0M1176 1653h0M1625 780h0M1636 966h0M1470 1178h0M1144 1333h0M1298 771h0M1334 1068h0M1067 1433h0M1329 1140h0M1092 1303h0M1580 623h0M1560 1304h0M1312 1015h0M1392 1109h0M1309 749h0M1216 695h0M1560 958h0M1260 1145h0M1067 1310h0M1292 733h0M1256 1078h0M1428 1092h0M1106 1263h0M1088 1343h0M1144 1069h0M1153 1567h0M1131 1250h0M1094 1511h0M1266 999h0M1112 1061h0M1525 998h0M1607 732h0M1212 1436h0M1572 1137h0M1185 1043h0M1454 981h0M1128 1644h0M1267 1278h0M1419 966h0M1184 1013h0M1298 739h0M1437 1467h0M1608 716h0M1064 1442h0M1305 758h0M1193 1093h0M1113 1294h0M1669 1015h0M1100 1302h0M1260 1179h0M1220 1077h0M1222 1278h0M1126 1332h0M1553 951h0M1712 726h0M1175 1542h0M1674 1053h0M1318 1015h0M1526 1141h0M1217 1397h0M1027 1489h0M1643 857h0M1184 794h0M1118 1146h0M1341 992h0M1146 1099h0M1609 685h0M1429 1061h0M1449 788h0M1596 647h0M1654 1028h0M1699 701h0M1270 756h0M1455 734h0M1432 1116h0M1063 1475h0M1454 717h0M1248 1013h0M1071 1472h0M1125 1270h0M1620 1161h0M1067 1388h0M1197 1114h0M1367 810h0M1064 1303h0M1478 1083h0M1143 1396h0M1267 1233h0M1584 1163h0M1234 803h0M1206 1068h0M1083 1209h0M1041 1418h0M1226 1285h0M1171 1051h0M1340 1060h0M1162 1378h0M1269 1177h0M1474 733h0M1063 1286h0M1391 1139h0M1199 1160h0M1407 1163h0M1077 1232h0M1519 1137h0" stroke="#d4ff50"/>
<path d="M1699 889h0M1508 734h0M1634 1014h0M1594 897h0M1396 1132h0M1401 1046h0M1562 703h0M1263 836h0M1692 960h0M1636 780h0M1150 984h0M1231 890h0M1541 1007h0M1348 779h0M1647 912h0M1524 1053h0M1585 1132h0M1636 732h0M1689 781h0M1604 976h0M1454 1030h0M1153 1007h0M1203 1154h0M1280 928h0M1215 896h0M1540 724h0M1382 969h0M1401 1199h0M1348 859h0M1692 865h0M1373 828h0M1577 1070h0M1260 914h0M1301 966h0M1421 919h0M1386 820h0M1047 1459h0M1349 811h0M1589 794h0M1155 880h0M1686 834h0M1592 873h0M1359 1051h0M1593 973h0M1604 992h0M1477 990h0M1229 1154h0M1613 818h0M1338 1168h0M1308 899h0M1509 779h0M1631 1083h0M1265 1074h0M1398 926h0M1262 1099h0M1715 826h0M1591 968h0M1670 749h0M1678 843h0M1290 851h0M1094 1606h0M1611 897h0M1216 866h0M1629 914h0M1562 983h0M1401 841h0M1605 1117h0M1641 864h0M1654 780h0M1450 929h0M1298 961h0M1038 1630h0M1121 1559h0M1506 1038h0M1611 757h0M1383 874h0M1167 859h0M1695 944h0M1508 750h0M1620 821h0M1173 788h0M1521 1115h0M1391 812h0M1268 1217h0M1384 982h0M1147 952h0M1588 813h0M1367 1233h0M1486 976h0M1134 1630h0M1645 764h0M1624 1139h0M1227 1176h0M1601 1091h0M1139 1388h0M1017 1491h0M1607 840h0M1310 937h0M1187 891h0M1213 1000h0M1676 850h0M1362 1037h0M1458 1035h0M1303 1202h0M1351 946h0M1563 921h0M1274 1046h0M1054 1332h0M1294 1078h0M1608 1016h0M1301 1154h0M1272 787h0M1645 750h0M1669 825h0M1065 1550h0M1258 812h0M1101 1566h0M1332 1209h0M1172 975h0M1680 750h0M1170 943h0M1359 1223h0M1140 1620h0M1334 881h0M1426 922h0M1619 795h0M1254 851h0M1544 875h0M1239 1015h0M1327 1092h0M1285 796h0M1465 1030h0M1072 1285h0M1468 835h0M1289 961h0M1470 930h0M1584 1022h0M1306 911h0M1149 1592h0M1100 1612h0M1384 1140h0M1629 820h0M1315 960h0M1292 857h0M1328 1202h0M1260 942h0M1595 989h0M1339 1233h0M1157 967h0M1030 1604h0M1351 805h0M1465 997h0M1319 906h0M1383 780h0M1403 1075h0M1096 1637h0M1548 880h0M1689 951h0M1619 811h0M1613 849h0M1148 1140h0M1352 852h0M1590 655h0M1619 889h0M1229 1000h0M1283 1090h0M1521 774h0M1661 888h0M1632 945h0M1562 875h0M1348 890h0M1676 758h0M1550 741h0M1363 982h0M1177 888h0M1125 1567h0M1613 868h0M1673 903h0M1669 873h0M1638 801h0M1458 929h0M1292 1030h0M1040 1436h0M1681 981h0M1487 1024h0M1676 895h0M1590 983h0M1452 960h0M1321 874h0M1546 734h0M1503 991h0M1268 1028h0M1591 934h0M1230 1171h0M1679 765h0M1485 1082h0M1281 1099h0M1456 875h0M1576 789h0M1391 1076h0M1584 741h0M1054 1597h0M1024 1468h0M1536 1078h0M1328 1076h0M1568 898h0M1650 789h0M1267 780h0M1392 905h0M1543 1031h0M1641 881h0M1352 1195h0M1163 977h0M1342 911h0M1227 849h0M1293 1152h0M1316 1148h0M1339 1076h0M1326 1195h0M1717 779h0M1086 1310h0M1037 1519h0M1375 1015h0M1609 765h0M1338 812h0M1444 887h0M1377 835h0M1357 828h0M1231 1125h0M1654 813h0M1567 1083h0M1323 1023h0M1501 1107h0M1387 1068h0M1620 973h0M1441 1132h0M1560 1114h0M1344 1083h0M1562 718h0M1088 1356h0M1392 795h0M1279 1147h0M1285 872h0M1557 804h0M1154 1598h0M1109 1615h0M1308 930h0M1362 1082h0M1247 922h0M1061 1637h0M1324 1207h0M1156 937h0M1127 961h0M1420 984h0M1386 1114h0M1388 1051h0M1530 944h0M1713 678h0M1684 975h0M1177 906h0M1501 888h0M1482 1076h0M1625 843h0M1276 1124h0M1295 1108h0M1626 1045h0M1457 952h0M1320 1153h0M1111 1528h0M1640 1086h0M1120 1546h0M1484 967h0M1560 867h0M1149 1621h0M1057 1513h0M1435 795h0M1692 773h0M1533 913h0M1582 888h0M1359 1210h0M1140 999h0M1080 1304h0M1299 1068h0M1540 679h0M1623 867h0M1604 787h0M1721 787h0M1078 1622h0M1066 1264h0M1129 969h0M1187 1654h0M1214 794h0M1073 1522h0M1685 882h0M1045 1598h0M1705 858h0M1271 913h0M1118 1520h0M1199 773h0M1312 875h0M1501 1122h0M1707 794h0M1573 873h0M1339 1218h0M1154 1613h0M1572 859h0M1578 960h0M1713 771h0M1350 896h0M1514 725h0M1665 1067h0M1411 795h0M1203 856h0M1477 913h0M1494 928h0M1672 967h0M1386 989h0M1613 990h0M1342 1162h0M1279 1130h0M1644 843h0M1314 1083h0" stroke="#80ffb4"/>
<path d="M1245 913h0M1514 896h0M1343 1100h0M1034 1529h0M1189 897h0M1310 810h0M1614 1023h0M1589 890h0M1310 828h0M1411 888h0M1342 833h0M1392 857h0M1585 1038h0M1533 821h0M1462 813h0M1433 898h0M1483 891h0M1373 1107h0M1604 1130h0M1706 810h0M1323 942h0M1025 1450h0M1036 1566h0M1321 951h0M1670 1062h0M1011 1521h0M1636 1123h0M1431 881h0M1467 911h0M1590 919h0M1484 875h0M1602 850h0M1536 843h0M1023 1543h0M1022 1529h0M1208 817h0M1323 883h0M1013 1607h0M1211 840h0M1312 1184h0M1626 733h0M1207 899h0M1303 826h0M1428 904h0M1056 1522h0M1220 874h0M1258 857h0M1528 1030h0M1688 811h0M1198 881h0M1595 1036h0M1498 952h0M1226 896h0M1527 856h0M1227 883h0M1499 844h0M1195 950h0M1619 1122h0M1595 1023h0M1201 951h0M1494 1053h0M1274 1031h0M1235 958h0M1557 1051h0M1590 859h0M1566 833h0M1621 1083h0M1297 849h0M1242 926h0M1611 1055h0M1517 969h0M1304 1184h0M1065 1628h0M1514 1023h0M1540 1054h0M1184 983h0M1011 1598h0M1305 849h0M1596 1052h0M1512 817h0M1024 1622h0M1507 922h0M1198 973h0M1219 825h0M1016 1590h0M1172 927h0M1580 734h0M1501 857h0M1146 865h0M1206 928h0M1495 835h0M1581 920h0M1063 1614h0M1616 1074h0M1515 1007h0M1630 1006h0M1593 850h0M1478 819h0M1514 944h0M1514 913h0M1508 966h0M1503 1067h0M1076 1575h0M1604 865h0M1490 842h0M1519 1047h0M1508 856h0M1364 1107h0M1027 1521h0M1506 865h0M1481 829h0M1413 896h0M1062 1566h0M1339 1091h0M1392 872h0M998 1623h0" stroke="#33ccff"/>
<path d="M1217 928h0M1212 919h0" stroke="#3f80ff"/>
<path d="M1784 509h0M1469 336h0M1325 1506h0M1613 568h0M1381 1482h0M1736 390h0M1321 344h0M1251 368h0M1589 1479h0M1269 507h0M1266 453h0M1526 1651h0M1427 547h0M1235 586h0M1493 1606h0M1458 509h0M1506 383h0M1393 670h0M1240 576h0M1729 382h0M1768 546h0M1656 553h0M1728 587h0M1620 400h0M1292 577h0M1434 1583h0M1774 537h0M1520 405h0M1445 312h0M1627 484h0M1364 405h0M1463 470h0M1307 462h0M1477 366h0M1327 359h0M1549 1506h0M1623 523h0M1526 1623h0M1617 360h0M1395 459h0M1258 563h0M1388 384h0M1383 407h0M1626 452h0M1782 476h0M1721 444h0M1570 1496h0M1686 382h0M1237 1545h0M1431 1598h0M1401 467h0M1416 367h0M1411 1670h0M1551 382h0M1237 454h0M1495 601h0M1528 1667h0M1212 532h0M1577 1443h0M1380 1475h0M1528 1637h0M1281 490h0M1368 524h0M1570 529h0M1433 381h0M1700 467h0M1229 485h0M1465 1545h0M1792 476h0M1650 382h0M1303 314h0M1252 446h0M1431 461h0M1381 1465h0M1315 397h0M1777 420h0M1548 1551h0M1426 1560h0M1342 554h0M1496 1473h0M1247 359h0M1788 436h0M1632 509h0M1722 475h0M1694 521h0M1395 303h0M1274 420h0M1299 352h0M1605 491h0M1576 1427h0M1269 337h0M1512 1615h0M1493 391h0M1515 1490h0M1335 321h0M1244 490h0M1738 571h0M1484 1623h0M1537 1527h0M1362 554h0M1378 1643h0M1570 1528h0M1632 459h0M1459 1644h0M1418 389h0M1477 1569h0M1351 369h0M1212 577h0M1432 615h0M1473 529h0M1260 583h0M1493 1545h0M1525 391h0M1582 545h0M1504 1630h0M1530 490h0M1295 360h0M1463 1638h0M1747 381h0M1663 498h0M1446 391h0M1305 599h0M1411 374h0M1425 601h0M1616 547h0M1357 406h0M1410 501h0M1391 391h0M1427 357h0M1597 483h0M1760 500h0M1455 622h0M1501 326h0M1300 408h0M1592 1451h0M1534 532h0M1275 1604h0M1317 303h0M1743 406h0M1512 368h0M1553 576h0M1257 1622h0M1423 383h0M1756 602h0M1234 539h0M1499 373h0M1521 382h0M1738 462h0M1316 569h0M1440 1630h0M1521 1537h0M1473 1700h0M1365 329h0M1581 468h0M1568 334h0M1796 437h0M1405 413h0M1355 373h0M1501 1514h0M1485 1503h0M1517 421h0M1323 335h0M1684 568h0M1492 330h0M1514 477h0M1321 1652h0M1468 492h0M1244 585h0M1572 579h0M1338 406h0M1402 454h0M1410 514h0M1503 1476h0M1423 1675h0M1407 1643h0M1660 593h0M1379 1444h0M1568 569h0M1583 516h0M1281 368h0M1652 545h0M1351 649h0M1747 601h0M1549 1663h0M1400 343h0M1700 436h0M1251 506h0M1513 351h0M1571 345h0M1439 1372h0M1598 406h0M1594 367h0M1487 1473h0M1343 587h0M1266 377h0M1633 451h0M1477 427h0M1653 501h0M1241 499h0M1449 1615h0M1733 592h0M1502 1561h0M1631 586h0M1515 381h0M1322 500h0M1697 562h0M1437 452h0M1490 438h0M1796 407h0M1461 350h0M1635 546h0M1266 484h0M1281 399h0M1320 638h0M1650 459h0M1555 438h0M1354 451h0M1581 530h0M1495 1301h0M1562 345h0M1290 335h0M1687 374h0M1616 577h0M1576 382h0M1499 468h0M1669 482h0M1482 360h0M1431 599h0M1577 477h0M1741 578h0M1494 477h0M1469 1410h0M1357 1465h0M1226 1597h0M1572 390h0M1374 391h0M1266 1621h0M1441 462h0M1528 1512h0M1378 320h0M1606 454h0M1680 453h0M1397 430h0M1616 373h0M1744 469h0M1493 1499h0M1464 1526h0M1488 475h0M1333 492h0M1563 358h0M1274 314h0M1806 405h0M1449 1396h0M1445 435h0M1550 571h0M1456 358h0M1310 641h0M1728 462h0M1396 661h0M1569 397h0M1620 369h0M1555 469h0M1353 571h0M1451 1644h0M1494 414h0M1438 484h0M1476 552h0M1447 1561h0M1296 508h0M1298 288h0M1487 1692h0M1261 614h0M1454 560h0M1369 335h0M1288 1644h0M1471 1574h0M1473 1653h0M1302 454h0M1257 1559h0M1558 539h0M1308 337h0M1580 360h0M1379 662h0M1314 493h0M1377 522h0M1350 601h0M1361 631h0M1319 563h0M1319 532h0M1536 1497h0M1549 430h0M1225 461h0M1716 438h0M1757 427h0M1319 421h0M1703 459h0M1545 499h0M1649 584h0M1310 1637h0M1768 562h0M1509 451h0M1447 376h0M1540 444h0M1765 399h0M1298 430h0M1548 397h0M1584 1472h0M1346 343h0M1428 391h0M1370 320h0M1352 336h0M1555 1528h0M1659 537h0M1557 460h0M1266 625h0M1520 344h0M1484 1546h0M1577 554h0M1625 470h0M1293 514h0M1522 1663h0M1224 508h0M1319 467h0M1530 554h0M1458 539h0M1685 444h0M1380 508h0M1470 1629h0M1519 468h0M1492 1589h0M1599 436h0M1291 1546h0M1728 540h0M1299 381h0M1470 507h0M1364 359h0M1593 1425h0M1576 540h0M1306 586h0M1530 1552h0M1497 1568h0M1471 577h0M1427 329h0M1600 1418h0M1519 517h0M1658 491h0M1498 1637h0M1407 428h0M1338 297h0M1406 506h0M1518 376h0M1312 296h0M1310 561h0M1629 540h0M1575 1413h0M1526 423h0M1260 350h0M1528 327h0M1496 571h0M1344 476h0M1353 429h0M1742 548h0M1431 506h0M1378 571h0M1563 561h0M1338 313h0M1472 1388h0M1317 600h0M1220 560h0M1392 344h0M1414 571h0M1568 1476h0M1271 632h0M1373 516h0M1221 1608h0M1738 554h0M1441 493h0M1466 1403h0M1292 563h0M1579 485h0M1556 1591h0M1659 508h0M1555 1573h0M1751 577h0M1436 578h0M1765 539h0M1325 477h0M1229 546h0M1346 375h0M1331 500h0M1770 390h0M1500 1620h0M1638 493h0M1464 577h0M1515 320h0M1349 484h0M1388 523h0M1449 1659h0M1309 470h0M1442 599h0M1490 1527h0M1453 1590h0M1255 577h0M1522 537h0M1449 476h0M1564 408h0M1469 521h0M1417 607h0M1392 375h0M1509 376h0M1533 1520h0M1294 468h0M1510 1561h0M1276 576h0M1248 484h0M1274 592h0M1274 609h0M1706 435h0M1539 1381h0M1720 525h0M1243 398h0M1290 460h0M1395 1335h0M1236 412h0M1299 398h0M1500 1468h0M1369 602h0M1392 499h0M1480 327h0M1746 444h0M1605 522h0M1424 338h0M1535 546h0M1500 1544h0M1308 427h0M1592 437h0M1411 626h0M1769 436h0M1293 641h0M1698 453h0M1258 313h0M1357 357h0M1752 484h0M1688 389h0M1712 383h0M1609 374h0M1665 366h0M1416 587h0M1343 1365h0M1327 420h0M1709 563h0M1419 576h0M1261 553h0M1669 357h0M1710 399h0M1260 445h0M1483 593h0M1496 584h0M1450 460h0M1791 445h0M1209 1566h0M1516 1608h0M1752 607h0M1575 522h0M1613 352h0M1313 516h0M1792 398h0M1465 1621h0M1463 327h0M1517 1623h0M1775 524h0M1292 436h0M1497 366h0M1757 383h0M1353 399h0M1280 476h0M1272 384h0M1744 485h0M1547 1497h0M1669 391h0M1410 592h0M1523 1644h0M1430 1670h0M1481 345h0M1261 490h0M1339 375h0M1589 423h0M1405 633h0M1787 389h0M1529 483h0M1446 623h0M1524 1522h0M1478 1521h0M1740 366h0M1418 436h0M1587 507h0M1386 458h0M1230 1607h0M1325 617h0M1537 1654h0M1652 608h0M1532 1536h0M1357 608h0M1368 506h0M1297 413h0M1484 1683h0M1572 483h0M1584 383h0M1487 522h0M1291 609h0M1649 540h0M1372 561h0M1397 1472h0M1548 492h0M1269 369h0M1258 408h0M1407 319h0M1348 391h0M1220 515h0M1248 576h0M1515 1677h0M1374 406h0M1584 413h0M1528 561h0" stroke="#ff0000"/>
<path d="M1446 1452h0M1746 615h0M1483 1421h0M1629 1269h0M1383 1358h0M1466 1326h0M1401 1622h0M1315 1614h0M1457 1216h0M1397 1536h0M1361 1443h0M1364 1372h0M1542 1441h0M1514 1443h0M1387 1427h0M1251 1644h0M1356 1325h0M1442 1381h0M1217 1614h0M1218 618h0M1186 1483h0M1398 1395h0M1545 1280h0M1416 1366h0M1195 1420h0M1370 1428h0M1766 600h0M1618 594h0M1478 1349h0M1335 1490h0M1404 1474h0M1659 601h0M1342 1615h0M1516 1279h0M1434 1351h0M1527 1452h0M1531 1381h0M1200 1585h0M1460 1475h0M1260 647h0M1314 647h0M1291 1389h0M1515 1366h0M1508 1342h0M1492 1418h0M1285 1653h0M1384 1339h0M1468 1334h0M1510 1263h0M1506 1706h0M1326 1519h0M1350 1678h0M1314 726h0M1739 615h0M1341 649h0M1384 1435h0M1411 1498h0M1253 678h0M1508 1234h0M1508 1309h0M1248 1606h0M1460 1457h0M1362 1287h0M1292 1403h0M1524 602h0M1309 673h0M1440 647h0M1339 1589h0M1328 1294h0M1383 1405h0M1515 600h0M1370 1363h0M1242 1535h0M1188 1581h0M1476 1286h0M1406 1582h0M1311 1498h0M1343 1567h0M1450 648h0M1447 1465h0M1469 1316h0M1605 1272h0M1524 584h0M1373 1436h0M1631 1191h0M1613 1223h0M1499 1343h0M1503 1302h0M1355 732h0M1353 1473h0M1231 656h0M1542 1272h0M1730 648h0M1360 1475h0M1425 1506h0M1437 1433h0M1380 1507h0M1428 782h0M1468 646h0M1189 1489h0M1527 1278h0M1306 677h0M1461 1428h0M1507 1498h0M1376 1559h0M1667 678h0M1263 662h0M1318 1498h0M1348 1683h0M1635 1184h0M1323 1552h0M1341 1302h0M1500 1327h0M1328 1483h0M1291 1637h0M1131 1419h0M1542 1426h0M1217 677h0M1301 1652h0M1312 719h0M1204 593h0M1555 1356h0M1303 1530h0M1398 1349h0M1279 1519h0M1312 1483h0M1429 1591h0M1392 1639h0M1330 685h0M1376 1405h0M1522 570h0M1558 1411h0M1341 1505h0M1332 1286h0M1418 1341h0M1355 1483h0M1260 1614h0M1343 1474h0M1646 622h0M1625 1203h0M1298 1458h0M1281 1629h0M1454 1654h0M1422 1411h0M1231 1545h0M1635 1200h0M1402 1653h0M1424 1394h0M1465 1218h0M1364 732h0M1487 1412h0M1299 1535h0M1422 1271h0M1347 1574h0M1257 1420h0M1347 1560h0M1480 1702h0M1374 1483h0M1384 1668h0M1357 1499h0M1354 1638h0M1481 1233h0M1634 609h0M1214 1483h0M1387 1521h0M1280 1644h0M1645 671h0M1515 1395h0M1512 1272h0M1536 1358h0M1190 1428h0M1306 1565h0M1561 1343h0M1338 641h0M1364 1420h0M1415 1537h0M1257 1545h0M1419 1404h0M1482 1403h0M1339 1623h0M1555 1370h0M1351 1550h0M1369 726h0M1171 1209h0M1651 577h0M1426 1389h0M1213 639h0M1186 1605h0M1496 1334h0M1622 1239h0M1518 1311h0M1209 585h0M1565 594h0M1404 1600h0M1329 1436h0M1319 1481h0M1348 1356h0M1634 1231h0M1429 1436h0M1400 1324h0M1570 592h0M1319 1296h0M1352 1567h0M1442 1412h0M1350 1520h0M1486 1444h0" stroke="#ff8c00"/>
<path d="M1407 773h0M1179 1568h0M1118 1100h0M1624 1183h0M1286 1293h0M1565 1169h0M1535 638h0M1553 1234h0M1478 661h0M1450 1193h0M1221 1358h0M1248 1184h0M1361 1317h0M1137 1254h0M1070 1231h0M1208 1441h0M1481 1183h0M1513 1429h0M1310 1262h0M1550 1303h0M1177 1607h0M1216 1488h0M1665 710h0M1311 1467h0M1600 1278h0M1582 1386h0M1404 1273h0M1731 740h0M1500 640h0M1288 1366h0M1628 1168h0M1102 1232h0M1421 717h0M1392 1621h0M1181 1504h0M1108 1146h0M1559 1195h0M1528 1218h0M1448 688h0M1168 1370h0M1556 1294h0M1294 1249h0M1196 1405h0M1152 1207h0M1157 1467h0M1264 1155h0M1267 1465h0M1338 1636h0M1430 1483h0M1362 1351h0M1231 1530h0M1193 1358h0M1197 1224h0M1432 661h0M1040 1388h0M1252 1491h0M1252 1241h0M1573 1293h0M1364 685h0M1526 654h0M1640 663h0M1302 1294h0M1336 655h0M1276 1370h0M1520 1342h0M1271 1536h0M1372 685h0M1085 1419h0M1211 1546h0M1392 703h0M1433 757h0M1055 1301h0M1306 1334h0M1325 1460h0M1719 724h0M1697 717h0M1509 1215h0M1623 1272h0M1630 1240h0M1546 655h0M1242 1192h0M1227 1395h0M1311 1343h0M1319 1309h0M1353 1441h0M1408 1373h0M1664 702h0M1242 1394h0M1543 1184h0M1472 1310h0M1720 601h0M1085 1481h0M1242 1224h0M1684 618h0M1190 1413h0M1267 1436h0M1644 1200h0M1202 1465h0M1724 623h0M1514 630h0M1259 1156h0M1128 1210h0M1328 1449h0M1430 1451h0M1581 1279h0M1511 1419h0M1667 633h0M1273 1498h0M1333 1444h0M1200 739h0M1314 1380h0M1309 1246h0M1357 1589h0M1344 1285h0M1573 610h0M1170 1410h0M1245 631h0M1411 733h0M1298 664h0M1684 601h0M1729 680h0M1516 623h0M1247 685h0M1278 1348h0M1348 1326h0M1365 1325h0M1478 709h0M1310 735h0M1516 657h0M1339 750h0M1277 1355h0M1209 1425h0M1450 1441h0M1491 1200h0M1154 1132h0M1735 671h0M1157 1294h0M1571 1340h0M1340 1390h0M1382 1589h0M1204 1311h0M1494 1242h0M1363 716h0M1567 1191h0M1756 633h0M1203 734h0M1645 701h0M1260 694h0M1427 762h0M1188 1366h0M1546 1170h0M1581 1356h0M1243 1365h0M1209 1365h0M1526 685h0M1564 1371h0M1119 1113h0M1466 1186h0M1258 1465h0M1396 710h0M1256 1277h0M1586 693h0M1197 1177h0M1116 1083h0M1254 693h0M1193 656h0M1220 1247h0M1423 724h0M1331 1388h0M1355 1403h0M1437 701h0M1235 1223h0M1729 662h0M1132 1233h0M1411 1389h0M1630 1256h0M1567 1319h0M1283 685h0M1432 709h0M1361 1427h0M1301 718h0M1454 765h0M1227 1537h0M1244 1474h0M1358 717h0M1146 1507h0M1341 1319h0M1302 734h0M1487 663h0M1288 1411h0M1144 1210h0M1119 1270h0M1217 1457h0M1425 773h0M1194 623h0M1182 1550h0M1441 662h0M1326 1410h0M1434 1301h0M1680 1014h0M1689 717h0M1606 1215h0M1427 1498h0M1368 1614h0M1324 1381h0M1289 1491h0M1346 749h0M1275 1652h0M1680 594h0M1387 1318h0M1223 1467h0M1442 772h0M1469 1039h0M1162 1178h0M1225 1038h0M1130 1123h0M1295 1311h0M1290 1223h0M1127 1302h0M1425 1240h0M1094 1139h0M1297 1256h0M1364 1403h0M1252 1304h0M1404 1209h0M1183 1449h0M1618 1311h0M1202 748h0M1170 1505h0M1418 733h0M1519 1262h0M1548 1238h0M1411 1293h0M1562 1201h0M1259 1265h0M1488 1363h0M1369 756h0M1181 1413h0M1217 1319h0M1194 1499h0M1105 1436h0M1126 1348h0M1442 708h0M1238 1263h0M1274 1265h0M1285 1421h0M1089 1474h0M1202 1046h0M1398 1364h0M1589 1340h0M1272 1429h0M1179 1333h0M1431 1210h0M1591 1355h0M1494 617h0M1433 1503h0M1176 1573h0M1104 1140h0M1112 1419h0M1355 1343h0M1191 1631h0M1227 1475h0M1748 680h0M1262 1473h0M1271 1255h0M1503 1238h0M1442 694h0M1351 1488h0M1258 1513h0M1524 1162h0M1519 1217h0M1272 1473h0M1462 1246h0M1420 1248h0M1414 1269h0M1148 1357h0M1184 1358h0M1102 1218h0M1714 747h0M1469 1255h0M1673 672h0M1230 1308h0M1338 735h0M1458 1194h0M1192 1202h0M1159 1184h0M1250 1359h0M1645 685h0M1485 1207h0M1446 640h0M1423 1288h0M1196 750h0M1704 632h0M1478 1209h0M1590 1262h0M1416 727h0M1316 1256h0M1361 708h0M1586 1347h0M1222 1515h0M1172 1162h0M1256 700h0M1202 638h0M1544 1247h0M1505 630h0M1439 732h0M1269 1413h0M1505 647h0M1391 1591h0M1189 1475h0M1174 1169h0M1335 1272h0M1529 1714h0M1121 1092h0M1248 1482h0M1523 1349h0M1224 1316h0M1759 657h0M1429 718h0M1702 599h0M1098 1130h0M1668 602h0M1365 1575h0M1720 661h0M1582 610h0M1395 1303h0M1175 1449h0M1623 646h0M1170 1364h0M1242 1628h0M1409 1233h0M1348 1311h0M1548 634h0M1114 1138h0M1464 1203h0M1536 1170h0M1170 1255h0M1235 1319h0M1292 1231h0M1632 1161h0M1438 686h0M1463 701h0M1195 1467h0M1568 614h0M1197 726h0M1313 1371h0M1654 654h0M1368 709h0M1422 1053h0M1099 1145h0M1254 1178h0M1429 656h0M1549 1161h0M1439 765h0" stroke="#ffdd00"/>
<path d="M1168 1062h0M1052 1418h0M1136 1085h0M1115 1277h0M1635 859h0M1241 1031h0M1167 1542h0M1209 1116h0M1280 726h0M1113 1405h0M1243 1067h0M1743 703h0M1279 1194h0M1116 1536h0M1083 1272h0M1530 1240h0M1218 757h0M1164 1475h0M1369 1256h0M1126 1552h0M1422 1192h0M1097 1264h0M1282 1153h0M1657 898h0M1139 1170h0M1466 1156h0M1173 850h0M1220 1092h0M1129 1590h0M1378 711h0M1156 1216h0M1080 1288h0M1293 763h0M1414 818h0M1367 778h0M1663 905h0M1407 788h0M1133 1169h0M1127 1053h0M1623 709h0M1221 1639h0M1585 680h0M1166 1075h0M1222 1202h0M1215 1192h0M1432 852h0M1052 1402h0M1417 1155h0M1113 1233h0M1325 1036h0M1136 976h0M1389 1225h0M1551 1226h0M1123 1168h0M1098 1286h0M1625 827h0M1469 710h0M1564 1138h0M1033 1497h0M1406 959h0M1589 765h0M1197 1255h0M1377 1583h0M1599 1170h0M1465 842h0M1181 802h0M1569 661h0M1202 1217h0M1378 803h0M1108 1537h0M1377 773h0M1536 1139h0M1149 1092h0M1121 1480h0M1230 1434h0M1277 747h0M1202 797h0M1219 1449h0M1668 992h0M1236 1086h0M1139 1326h0M1590 782h0M1482 750h0M1113 1185h0M1343 1051h0M1121 1372h0M1157 1059h0M1636 1153h0M1519 687h0M1359 1271h0M1095 1187h0M1504 883h0M1560 759h0M1234 789h0M1489 673h0M1593 711h0M1550 663h0M1705 669h0M1316 1051h0M1449 1068h0M1118 1335h0M1171 1068h0M1680 734h0M1130 1217h0M1303 998h0M1147 1153h0M1121 1310h0M1557 677h0M1131 1184h0M1386 912h0M1083 1456h0M1568 1161h0M1627 875h0M1140 1185h0M1567 1286h0M1199 1005h0M1507 1122h0M1739 694h0M1467 975h0M1265 1185h0M1233 1287h0M1290 1023h0M1429 1108h0M1174 1044h0M1689 685h0M1251 1147h0M1517 717h0M1434 1146h0M1126 1379h0M1670 999h0M1623 835h0M1312 998h0M1362 1021h0M1166 1045h0M1333 805h0M1123 1138h0M1626 1156h0M1079 1263h0M1258 1231h0M1464 984h0M1490 1122h0M1468 726h0M1548 1131h0M1384 732h0M1713 864h0M1439 953h0M1249 1108h0M1237 1153h0M1553 685h0M1092 1459h0M1134 1472h0M1324 788h0M1182 694h0M1615 670h0M1244 1316h0M1379 929h0M1744 687h0M1329 984h0M1077 1499h0M1119 1240h0M1534 763h0M1194 1529h0M1269 1287h0M1421 1046h0M1253 882h0M1677 989h0M1439 1169h0M1145 1412h0M1217 1053h0M1054 1316h0M1167 1248h0M1095 1294h0M1643 1154h0M1501 685h0M1273 1152h0M1658 1114h0M1242 1099h0M1565 686h0M1134 1070h0M1153 1146h0M1440 820h0M1347 796h0M1659 835h0M1668 850h0M1461 866h0M1084 1390h0M1300 889h0M1106 1483h0M1077 1483h0M1215 1129h0M1253 711h0M1716 610h0M1199 1333h0M1188 1241h0M1599 703h0M1096 1230h0M1548 678h0M1244 1286h0M1168 1123h0M1131 1309h0M1494 679h0M1528 718h0M1161 1054h0M1179 1068h0M1151 1530h0M1148 922h0M1381 1029h0M1413 1194h0M1103 1249h0M1175 1028h0M1281 1288h0M1655 906h0M1159 1014h0M1395 1161h0M1348 982h0M1117 1457h0M1432 974h0M1202 1169h0M1464 1121h0M1677 914h0M1077 1512h0M1160 1043h0M1145 1521h0M1235 1132h0M1533 1114h0M1575 1241h0M1150 1046h0M1104 1325h0M1402 981h0M1361 1254h0M1413 1130h0M1354 766h0M1737 758h0M1234 1332h0M1577 724h0M1201 1140h0M1384 719h0M1220 1172h0M1441 1082h0M1140 1215h0M1577 772h0M1215 1099h0M1229 749h0M1282 1016h0M1162 789h0M1235 1054h0M1058 1402h0M1604 756h0M1490 703h0M1595 1086h0M1547 967h0M1680 891h0M1298 756h0M1371 1069h0M1136 1163h0M1125 1319h0M1351 1067h0M1712 759h0M1231 1075h0M1617 702h0M1481 1170h0M1350 1271h0M1531 757h0M1461 770h0M1663 922h0M1074 1444h0M1543 983h0M1606 1171h0M1568 959h0M1580 1186h0M1641 851h0M1137 927h0M1368 804h0M1650 850h0M1684 928h0M1543 748h0M1618 766h0M1572 1279h0M1056 1396h0M1158 1589h0M1625 1294h0M1421 1124h0M1249 1327h0M1317 755h0M1306 1318h0M1068 1373h0M1199 1083h0M1501 764h0M1191 1116h0M1107 1272h0M1448 778h0M1177 1091h0M1735 764h0M1135 1021h0M1065 1272h0M1114 1558h0M1587 1146h0M1261 757h0M1695 726h0M1471 1106h0M1597 687h0M1330 1249h0M1268 1203h0M1497 883h0M1386 1177h0M1417 1169h0M1185 1233h0M1423 819h0M1357 1263h0M1127 1194h0M1409 842h0M1161 1115h0M1246 766h0M1186 1031h0M1113 1202h0M1404 1225h0M1133 1559h0M1338 1246h0M1603 959h0M1273 950h0M1658 1101h0M1396 1179h0M1362 786h0M1253 1083h0M1143 976h0M1391 780h0M1096 1418h0M1199 1521h0M1276 763h0M1095 1388h0M1611 694h0M1155 1303h0M1451 1239h0M1163 1222h0M1589 1171h0M1580 1169h0M1498 1014h0M1577 758h0M1479 1131h0M1695 742h0M1681 701h0M1089 1489h0M1149 1217h0M1214 763h0M1154 1553h0M1234 741h0M1166 1013h0" stroke="#d4ff50"/>
<path d="M1530 772h0M1450 836h0M1392 828h0M1114 1589h0M1325 1099h0M1309 1140h0M1361 772h0M1291 872h0M1500 735h0M1447 827h0M1388 787h0M1301 1122h0M1404 990h0M1350 1130h0M1228 811h0M1166 795h0M1276 1092h0M1034 1434h0M1357 1215h0M1454 904h0M1371 1102h0M1700 903h0M1159 1623h0M1306 880h0M1319 888h0M1280 1020h0M1409 937h0M1637 936h0M1150 966h0M1572 906h0M1345 1139h0M1507 998h0M1605 818h0M1509 1090h0M1352 928h0M1098 1551h0M1351 989h0M1409 809h0M1594 883h0M1080 1629h0M1710 849h0M1469 770h0M1350 1021h0M1290 1115h0M1585 991h0M1594 1007h0M1402 797h0M1283 1106h0M1149 888h0M1000 1600h0M1316 1161h0M1257 843h0M1717 763h0M1733 778h0M1379 895h0M1041 1498h0M1208 1101h0M1209 772h0M1017 1505h0M1473 843h0M1238 889h0M1215 786h0M1087 1326h0M1514 743h0M1471 1077h0M1580 997h0M1090 1318h0M1621 1053h0M1359 802h0M1470 865h0M1303 780h0M1298 928h0M1575 1148h0M1095 1576h0M1046 1442h0M1185 782h0M1519 888h0M1212 1184h0M1580 953h0M1388 1083h0M1649 757h0M1606 1124h0M1532 805h0M1496 1005h0M1313 1124h0M1410 904h0M1403 1015h0M1585 880h0M1565 903h0M1421 1012h0M1613 836h0M1649 960h0M1058 1575h0M1444 920h0M1154 944h0M1637 1046h0M1546 922h0M1450 882h0M1245 708h0M1730 789h0M1269 1086h0M1074 1551h0M1335 927h0M1059 1356h0M1558 1022h0M1337 1202h0M1246 843h0M1638 928h0M1383 1186h0M1524 836h0M1319 984h0M1458 897h0M1599 1013h0M1352 975h0M1614 944h0M1274 795h0M1529 968h0M1169 951h0M1111 1620h0M1518 934h0M1575 1022h0M1089 1568h0M1283 888h0M1542 1070h0M1224 758h0M1593 771h0M1569 1007h0M1651 750h0M1052 1342h0M1288 943h0M1548 786h0M1252 945h0M1659 930h0M1683 946h0M1186 1374h0M1641 913h0M1192 857h0M1361 1178h0M1555 734h0M1369 866h0M1123 1250h0M1641 727h0M1637 1094h0M1526 795h0M1393 953h0M1478 850h0M1704 852h0M1419 907h0M1519 997h0M1622 1146h0M1599 1140h0M1337 890h0M1220 779h0M1607 921h0M1172 958h0M1551 1101h0M1571 1046h0M1646 938h0M1562 750h0M1440 1070h0M1462 827h0M1173 866h0M1650 883h0M1478 1005h0M1651 1137h0M1570 981h0M1601 968h0M1654 795h0M1616 981h0M1257 904h0M1125 1628h0M1233 895h0M1265 841h0M1501 1045h0M1618 874h0M1442 882h0M1671 952h0M1378 960h0M1514 772h0M1649 976h0M1427 937h0M1305 1161h0M1602 1099h0M1663 1075h0M1632 1132h0M1113 1511h0M1371 1037h0M1650 1053h0M1391 998h0M1136 1568h0M1572 688h0M1293 904h0M1282 1031h0M1360 896h0M1519 780h0M1545 936h0M1312 1090h0M1461 961h0M1269 866h0M1591 1078h0M1585 818h0M1310 919h0M1634 1031h0M1680 872h0M1310 904h0M1712 881h0M1237 966h0M1614 1005h0M1573 1125h0M1099 1333h0M1369 774h0M1537 875h0M1559 1100h0M1152 833h0M1359 1129h0M1400 1154h0M1656 1147h0M1539 882h0M1343 881h0M1226 865h0M1105 1636h0M1512 992h0M1340 1139h0M1674 788h0M1039 1452h0M1306 1068h0M1181 975h0M1386 959h0M1609 750h0M1573 1075h0M1067 1638h0M1388 1162h0M1389 975h0M1222 996h0M1163 1631h0M1236 711h0M1530 1068h0M1251 930h0M1100 1520h0M1569 882h0M1612 975h0M1688 858h0M1632 1055h0M1472 890h0M1492 874h0M1344 1020h0M1315 913h0M1220 1155h0M1446 1030h0M1380 883h0M1364 1140h0M1398 1116h0M1028 1597h0M1323 896h0M1344 898h0M1127 1257h0M1260 818h0M1516 766h0M1294 1123h0M1538 1093h0M1663 873h0M1239 828h0M1290 1051h0M1306 959h0M1117 1598h0M1402 998h0M1528 1013h0M1401 950h0M1121 1621h0M1304 1106h0M1243 820h0M1537 1108h0M1262 852h0M1203 874h0M1433 835h0M1629 882h0M1176 843h0M1427 1027h0M1331 809h0M1498 1030h0M1170 990h0M1549 1036h0M1373 1028h0M1644 795h0M1571 920h0M1490 1106h0M1660 996h0M1038 1613h0M1244 896h0" stroke="#80ffb4"/>
<path d="M1373 1168h0M1497 945h0M1625 1076h0M1341 1223h0M1186 937h0M1620 1067h0M1536 1059h0M1546 1043h0M1494 959h0M1599 811h0M1281 849h0M1197 957h0M1620 1132h0M1598 859h0M1405 851h0M1310 842h0M1465 797h0M1175 874h0M1195 966h0M1348 826h0M1600 922h0M1234 930h0M1180 882h0M1237 950h0M1000 1583h0M1025 1561h0M1496 1085h0M1477 804h0M1632 1115h0M1560 852h0M1626 810h0M1052 1623h0M1045 1522h0M1256 936h0M1158 827h0M1551 818h0M1214 828h0M1609 1047h0M1029 1615h0M1665 818h0M1663 825h0M1188 866h0M1026 1568h0M1367 1184h0M1368 1113h0M1040 1529h0M1521 821h0M1077 1559h0M1198 911h0M1506 958h0M1029 1553h0M1329 873h0M1380 852h0M1365 965h0M1419 875h0M1213 813h0M1329 1171h0M1189 836h0M1298 834h0M1208 835h0M1045 1567h0M1506 1052h0M1517 858h0M1192 905h0M1224 976h0M1532 1038h0M1544 858h0M1544 827h0M1217 973h0M1198 833h0M1030 1623h0M1040 1543h0M1314 805h0M1534 826h0M1337 937h0M1350 834h0M1007 1608h0M1643 1000h0M1508 1029h0M1063 1537h0M1617 1030h0M1218 836h0M1523 1037h0M1582 906h0M1476 881h0M1508 951h0M1552 1123h0M1530 1022h0M1659 819h0M1519 843h0M1186 903h0M1578 820h0M1315 835h0M1487 896h0M1304 841h0M1523 1022h0M1613 1129h0M1397 864h0M1042 1575h0M1055 1535h0M1549 1067h0M1469 819h0M1066 1574h0M1286 856h0M1557 882h0M1503 819h0M1208 804h0M1589 1043h0M1683 819h0M1510 842h0M1495 974h0M1616 1139h0M1512 1069h0M1287 1086h0M1668 943h0M1239 922h0M1518 1092h0M1523 1083h0" stroke="#33ccff"/>
<path d="M1541 1629h0M1642 548h0M1244 1551h0M1669 422h0M1470 1536h0M1304 469h0M1448 1542h0M1249 595h0M1415 336h0M1420 359h0M1405 647h0M1251 602h0M1593 413h0M1782 399h0M1553 514h0M1535 343h0M1266 421h0M1303 343h0M1347 515h0M1344 336h0M1528 439h0M1659 400h0M1553 1622h0M1306 1522h0M1470 554h0M1683 523h0M1636 439h0M1311 626h0M1579 390h0M1676 492h0M1561 1606h0M1793 413h0M1406 1520h0M1236 1584h0M1217 570h0M1362 508h0M1499 1576h0M1409 421h0M1616 529h0M1739 400h0M1397 493h0M1680 562h0M1523 353h0M1387 603h0M1491 452h0M1274 390h0M1287 1552h0M1337 1608h0M1593 538h0M1234 1552h0M1587 1488h0M1414 508h0M1254 460h0M1263 569h0M1314 430h0M1560 335h0M1452 1582h0M1276 1576h0M1726 482h0M1771 499h0M1397 583h0M1536 1636h0M1432 350h0M1496 492h0M1521 1613h0M1283 529h0M1370 444h0M1379 538h0M1457 469h0M1449 539h0M1664 563h0M1488 337h0M1216 508h0M1355 640h0M1476 1597h0M1228 595h0M1489 1574h0M1547 391h0M1567 1535h0M1533 1582h0M1307 507h0M1416 1503h0M1468 1661h0M1789 406h0M1461 1662h0M1566 477h0M1656 383h0M1500 437h0M1638 461h0M1196 608h0M1652 391h0M1442 1614h0M1546 513h0M1726 561h0M1422 1662h0M1697 501h0M1440 537h0M1566 1553h0M1554 546h0M1398 1505h0M1537 1558h0M1680 466h0M1524 399h0M1479 1646h0M1229 499h0M1504 1506h0M1598 422h0M1492 376h0M1670 545h0M1265 437h0M1445 1604h0M1766 571h0M1754 390h0M1793 490h0M1688 466h0M1549 1521h0M1773 478h0M1691 562h0M1492 1295h0M1667 583h0M1554 1483h0M1391 516h0M1317 353h0M1275 1590h0M1564 1545h0M1399 563h0M1578 430h0M1545 563h0M1227 552h0M1222 482h0M1446 1620h0M1459 1600h0M1418 1511h0M1268 468h0M1731 398h0M1297 524h0M1563 485h0M1407 585h0M1528 361h0M1346 438h0M1347 453h0M1359 600h0M1481 438h0M1387 1646h0M1271 553h0M1335 539h0M1485 1550h0M1731 508h0M1233 553h0M1283 311h0M1307 398h0M1377 335h0M1679 375h0M1440 1676h0M1315 414h0M1517 1638h0M1673 498h0M1586 555h0M1510 327h0M1247 1592h0M1460 459h0M1387 633h0M1360 320h0M1803 412h0M1708 405h0M1382 563h0M1404 1412h0M1542 1537h0M1402 592h0M1510 389h0M1369 415h0M1555 373h0M1385 655h0M1259 501h0M1471 546h0M1576 569h0M1404 1613h0M1271 305h0M1616 420h0M1626 392h0M1659 416h0M1508 1652h0M1778 560h0M1387 368h0M1362 476h0M1676 445h0M1310 329h0M1233 522h0M1704 381h0M1511 360h0M1644 594h0M1477 587h0M1566 1488h0M1449 523h0M1752 405h0M1495 351h0M1409 546h0M1686 540h0M1561 1452h0M1444 560h0M1447 547h0M1490 547h0M1504 508h0M1432 444h0M1610 345h0M1266 344h0M1410 345h0M1505 398h0M1434 1520h0M1560 366h0M1556 359h0M1604 350h0M1425 431h0M1332 397h0M1693 414h0M1471 482h0M1377 491h0M1675 554h0M1405 521h0M1461 322h0M1694 399h0M1217 1568h0M1591 591h0M1457 1623h0M1637 373h0M1314 1535h0M1598 530h0M1508 342h0M1778 530h0M1425 1645h0M1274 547h0M1316 461h0M1237 516h0M1477 397h0M1266 1560h0M1742 513h0M1485 428h0M1484 1514h0M1454 593h0M1227 476h0M1687 532h0M1569 494h0M1517 437h0M1473 1530h0M1590 1421h0M1425 1551h0M1508 1623h0M1264 407h0M1242 600h0M1280 306h0M1425 1598h0M1506 1584h0M1484 1654h0M1314 477h0M1237 1589h0M1544 374h0M1299 1598h0M1686 399h0M1598 514h0M1356 328h0M1437 1653h0M1263 338h0M1557 1599h0M1643 373h0M1253 474h0M1595 583h0M1243 509h0M1265 1575h0M1574 376h0M1673 560h0M1533 399h0M1454 548h0M1411 531h0M1460 366h0M1227 492h0M1294 297h0M1384 360h0M1491 1403h0M1569 369h0M1371 570h0M1782 431h0M1302 499h0M1535 406h0M1677 383h0M1776 399h0M1308 1677h0M1747 369h0M1249 1544h0M1404 475h0M1457 1389h0M1366 420h0M1362 583h0M1640 415h0M1688 576h0M1686 492h0M1547 345h0M1724 545h0M1414 630h0M1402 579h0M1400 389h0M1581 451h0M1456 344h0M1761 560h0M1382 1654h0M1652 592h0M1267 576h0M1522 507h0M1411 1639h0M1338 578h0M1203 1576h0M1396 554h0M1507 546h0M1461 570h0M1333 506h0M1442 1662h0M1571 360h0M1445 1652h0M1589 531h0M1463 312h0M1569 414h0M1625 376h0M1695 476h0M1776 430h0M1337 452h0M1537 1589h0M1464 546h0M1518 1529h0M1405 381h0M1546 1652h0M1490 358h0M1470 1474h0M1347 546h0M1488 1676h0M1448 501h0M1281 428h0M1717 452h0M1625 547h0M1802 381h0M1408 1590h0M1252 570h0M1492 1669h0M1647 366h0M1655 563h0M1485 538h0M1392 422h0M1268 513h0M1434 537h0M1643 578h0M1589 482h0M1398 446h0M1753 438h0M1344 446h0M1719 412h0M1580 404h0M1373 623h0M1367 374h0M1386 446h0M1453 454h0M1215 602h0M1398 334h0M1600 391h0M1241 593h0M1659 350h0M1371 381h0M1423 1520h0M1307 287h0M1307 446h0M1466 1667h0M1518 1374h0M1271 614h0M1778 391h0M1475 1372h0M1315 367h0M1671 437h0M1341 521h0M1409 327h0M1438 501h0M1549 459h0M1282 390h0M1507 1670h0M1756 587h0M1318 546h0M1272 493h0M1405 1660h0M1586 446h0M1577 399h0M1458 430h0M1788 484h0M1444 406h0M1469 462h0M1498 593h0M1359 460h0M1276 454h0M1413 459h0M1530 462h0M1567 350h0M1225 570h0M1649 555h0M1595 430h0M1330 545h0M1440 400h0M1465 515h0M1653 451h0M1799 452h0M1259 437h0M1683 412h0M1307 540h0M1414 1598h0M1632 616h0M1395 1612h0M1391 640h0M1487 445h0M1549 412h0M1378 586h0M1274 436h0M1472 1544h0M1392 360h0M1599 359h0M1541 508h0M1512 1597h0M1487 1600h0M1304 1638h0M1640 447h0M1701 366h0M1589 560h0M1243 571h0M1717 517h0M1515 1566h0M1702 552h0M1392 657h0M1760 375h0M1530 1614h0M1734 563h0M1725 454h0M1313 577h0M1542 523h0M1697 359h0M1362 397h0M1699 392h0M1594 444h0M1564 546h0M1416 446h0M1775 568h0M1263 1568h0M1536 361h0M1547 1528h0M1566 586h0M1557 1628h0M1776 445h0M1625 591h0M1647 523h0M1516 1546h0M1584 1427h0M1805 392h0M1290 368h0M1788 469h0M1778 548h0M1388 663h0M1377 384h0M1415 414h0M1726 438h0M1616 484h0M1480 1637h0M1722 555h0M1553 1465h0M1522 475h0M1571 423h0M1259 1573h0M1262 413h0M1372 1652h0M1271 599h0M1425 459h0M1434 1693h0M1346 296h0M1422 506h0M1260 1599h0M1554 1557h0M1509 484h0M1464 560h0M1454 516h0M1469 415h0M1308 1583h0M1358 1684h0M1527 467h0M1568 428h0M1553 1497h0" stroke="#ff0000"/>
<path d="M1524 1302h0M1248 1560h0M1610 594h0M1566 1363h0M1348 1637h0M1319 1560h0M1326 694h0M1407 679h0M1301 1592h0M1699 638h0M1222 592h0M1366 1340h0M1533 602h0M1383 1606h0M1513 1177h0M1254 1615h0M1305 1599h0M1518 1404h0M1479 1707h0M1495 1223h0M1469 1505h0M1336 1451h0M1503 1285h0M1288 1674h0M1221 1481h0M1646 1168h0M1517 1436h0M1191 678h0M1499 1231h0M1427 1620h0M1434 1441h0M1253 1444h0M1477 1334h0M1316 1459h0M1455 1327h0M1491 1230h0M1386 1674h0M1533 570h0M1534 576h0M1456 1436h0M1393 1483h0M1243 1567h0M1508 1153h0M1355 1356h0M1254 1413h0M1291 1558h0M1529 1388h0M1550 1288h0M1550 584h0M1211 1589h0M1497 1255h0M1409 1608h0M1185 1185h0M1470 633h0M1472 610h0M1373 1418h0M1373 1388h0M1430 1339h0M1261 1160h0M1393 1498h0M1642 639h0M1286 1667h0M1310 654h0M1443 631h0M1395 1489h0M1524 1365h0M1422 1254h0M1474 1215h0M1486 1303h0M1546 578h0M1378 1550h0M1483 1450h0M1374 1340h0M1352 1366h0M1511 1388h0M1226 616h0M1225 1553h0M1269 649h0M1146 1285h0M1228 1356h0M1405 1442h0M1434 1332h0M1397 1522h0M1301 703h0M1218 634h0M1556 1403h0M1357 1669h0M1713 634h0M1472 673h0M1515 1316h0M1361 1395h0M1551 601h0M1293 702h0M1452 1458h0M1326 1597h0M1511 1402h0M1360 725h0M1527 1699h0M1500 1713h0M1269 662h0M1334 1474h0M1542 585h0M1382 1418h0M1413 677h0M1547 1389h0M1329 1278h0M1380 1397h0M1519 609h0M1459 1351h0M1524 1458h0M1414 1428h0M1412 655h0M1694 555h0M1382 1496h0M1522 1488h0M1432 1395h0M1627 1215h0M1159 1356h0M1479 680h0M1387 1506h0M1433 632h0M1377 1382h0M1461 1552h0M1418 672h0M1184 1199h0M1380 1487h0M1188 1597h0M1302 1561h0M1469 1301h0M1453 654h0M1469 1709h0M1473 1295h0M1479 1320h0M1505 1335h0M1315 1286h0M1435 1387h0M1414 1628h0M1589 1402h0M1392 1436h0M1392 1651h0M1485 1706h0M1369 665h0M1345 1467h0M1404 1394h0M1527 593h0M1478 1303h0M1234 1380h0M1234 630h0M1209 600h0M1441 1286h0M1615 1233h0M1649 633h0M1461 618h0M1211 609h0M1587 1316h0M1357 1311h0M1198 615h0M1371 1631h0M1301 1388h0M1433 1536h0M1442 1522h0M1588 610h0M1329 1576h0M1512 1456h0M1203 1608h0M1411 750h0M1406 1335h0M1736 641h0M1370 1537h0M1378 1630h0M1388 1659h0M1716 593h0M1541 1348h0M1322 1606h0M1348 1670h0M1574 1357h0M1391 1684h0M1542 1179h0M1332 647h0M1444 1309h0M1289 1394h0M1450 1488h0M1423 1631h0M1424 692h0M1566 1397h0M1330 1526h0M1411 1655h0M1340 1482h0M1380 1612h0M1407 1490h0M1384 749h0M1314 1487h0M1467 1427h0M1434 1272h0M1371 1521h0M1524 1319h0M1446 1342h0M1721 630h0M1536 1264h0M1204 607h0M1335 680h0M1298 679h0M1659 570h0M1310 1450h0M1246 1623h0" stroke="#ff8c00"/>
<path d="M1670 704h0M1127 1427h0M1269 1366h0M1595 1303h0M1213 1418h0M1518 1233h0M1464 1279h0M1261 1520h0M1125 1100h0M1375 1591h0M1261 1460h0M1044 1398h0M1276 1340h0M1163 1163h0M1267 685h0M1132 1604h0M1396 694h0M1114 1217h0M1119 1301h0M1495 647h0M1429 686h0M1240 1434h0M1335 991h0M1204 718h0M1397 726h0M1140 1249h0M1420 1496h0M1314 1444h0M1730 616h0M1528 639h0M1151 1125h0M1384 703h0M1410 1308h0M1180 1428h0M1453 671h0M1465 1308h0M1424 1302h0M1639 693h0M1280 1534h0M1436 1295h0M1227 1380h0M1235 1491h0M1490 1154h0M1250 1247h0M1284 702h0M1513 648h0M1179 1519h0M1420 780h0M1595 1195h0M1284 1325h0M1501 1434h0M1552 1264h0M1586 1288h0M1274 1328h0M1559 1316h0M1653 625h0M1202 1480h0M1665 647h0M1403 1246h0M1445 1497h0M1262 1288h0M1583 1248h0M1600 1294h0M1081 1254h0M1537 1436h0M1195 1044h0M1305 1269h0M1229 1513h0M1240 1499h0M1431 1287h0M1263 1412h0M1415 1491h0M1600 1356h0M1421 655h0M1282 1358h0M1172 1582h0M1263 677h0M1307 1429h0M1676 679h0M1702 648h0M1265 1327h0M1159 1107h0M1171 1459h0M1394 1371h0M1488 1130h0M1377 1363h0M1490 685h0M1121 1467h0M1515 1163h0M1457 1137h0M1603 1239h0M1134 1210h0M1369 1598h0M1659 631h0M1442 1429h0M1307 1472h0M1523 1193h0M1326 771h0M1729 757h0M1153 1036h0M1281 1489h0M1235 678h0M1424 1224h0M1250 638h0M1743 671h0M1218 724h0M1223 1340h0M1423 1160h0M1285 1280h0M1159 1138h0M1465 1482h0M1527 1168h0M1182 1616h0M1515 618h0M1431 1459h0M1621 633h0M1351 1332h0M1720 618h0M1445 703h0M1410 1121h0M1187 749h0M1639 1208h0M1445 1481h0M1451 1254h0M1448 1434h0M1415 1210h0M1182 1084h0M1373 735h0M1569 1304h0M1598 1202h0M1582 1341h0M1649 678h0M1545 609h0M1267 1293h0M1167 1263h0M1142 1434h0M1313 686h0M1537 1417h0M1283 1496h0M1110 1223h0M1285 716h0M1258 1308h0M1675 631h0M1188 724h0M1351 1285h0M1326 1332h0M1159 1419h0M1387 1272h0M1155 1347h0M1452 1006h0M1534 1340h0M1257 1498h0M1177 1199h0M1162 1098h0M1456 1309h0M1333 1459h0M1441 1302h0M1433 788h0M1198 1209h0M1739 665h0M1480 1043h0M1176 1293h0M1423 1491h0M1411 1215h0M1293 1512h0M1387 1288h0M1598 622h0M1393 1264h0M1221 716h0M1353 1255h0M1248 1527h0M1260 1647h0M1140 1044h0M1269 1443h0M1184 1420h0M1165 1433h0M1203 1421h0M1523 1256h0M1405 1287h0M1536 1325h0M1253 1429h0M1301 1342h0M1558 1332h0M1439 640h0M1238 1341h0M1407 708h0M1143 1443h0M1260 1239h0M1560 631h0M1573 1372h0M1651 1156h0M1263 1505h0M1167 1168h0M1469 694h0M1170 1488h0M1343 757h0M1130 1435h0M1152 1427h0M1090 1395h0M1483 1154h0M1247 1371h0M1414 711h0M1331 1340h0M1399 1386h0M1534 607h0M1459 1318h0M1558 1178h0M1380 1319h0M1211 686h0M1360 1332h0M1208 1553h0M1369 1348h0M1602 1350h0M1145 1426h0M1320 1372h0M1491 1247h0M1726 731h0M1410 703h0M1159 1449h0M1217 743h0M1037 1412h0M1423 1457h0M1193 1215h0M1292 1372h0M1385 1280h0M1216 1380h0M1437 1199h0M1492 1434h0M1226 1412h0M1634 1216h0M1188 1070h0M1140 1450h0M1214 1405h0M1652 704h0M1151 1653h0M1475 1154h0M1227 1504h0M1249 1231h0M1329 733h0M1499 1202h0M1481 624h0M1566 1223h0M1552 608h0M1581 1200h0M1660 625h0M1139 1232h0M1374 1326h0M1506 1177h0M1441 724h0M1206 1379h0M1666 1099h0M1523 1394h0M1243 1488h0M1209 693h0M1413 1241h0M1371 1285h0M1405 1566h0M1397 1255h0M1285 1246h0M1398 742h0M1428 1324h0M1573 626h0M1391 718h0M1179 1364h0M1313 1357h0M1093 1125h0M1552 625h0M1488 1270h0M1433 726h0M1383 1324h0M1218 1536h0M1173 1335h0M1279 1334h0M1197 1460h0M1634 1170h0M1380 757h0M1474 686h0M1575 1192h0M1336 1326h0M1319 1262h0M1200 1350h0M1598 1343h0M1468 1288h0M1294 1358h0M1463 1233h0M1620 662h0M1391 1310h0M1309 1324h0M1137 1240h0M1437 779h0M1208 1319h0M1301 1246h0M1384 1247h0M1531 1207h0M1155 1412h0M1558 1351h0M1135 1100h0M1127 1460h0M1226 1256h0M1712 711h0M1249 1125h0M1265 1404h0M1081 1379h0M1121 1405h0M1255 1374h0M1439 1496h0M1321 734h0M1118 1162h0M1477 632h0M1178 1264h0M1469 1241h0M1396 1285h0M1154 1507h0M1225 1224h0M1111 1356h0" stroke="#ffdd00"/>
<path d="M1166 1030h0M1283 732h0M1290 725h0M1595 726h0M1249 1140h0M1174 1139h0M1086 1230h0M1402 1106h0M1611 772h0M1209 1254h0M1579 969h0M1207 759h0M1279 787h0M1087 1497h0M1631 973h0M1615 780h0M1152 1472h0M1335 1239h0M1457 841h0M1110 1552h0M1714 860h0M1236 1145h0M1366 1013h0M1225 742h0M1563 997h0M1352 1005h0M1275 1233h0M1397 958h0M1055 1489h0M1362 911h0M1242 1131h0M1312 1215h0M1038 1490h0M1451 989h0M1357 857h0M1157 1638h0M1301 1014h0M1126 1037h0M1369 787h0M1192 1638h0M1218 1070h0M1084 1215h0M1536 1231h0M1137 1319h0M1454 1090h0M1090 1223h0M1078 1405h0M1537 717h0M1649 726h0M1483 719h0M1170 1145h0M1439 1139h0M1153 1177h0M1129 1326h0M1387 711h0M1294 1200h0M1301 1326h0M1092 1270h0M1281 1241h0M1141 1482h0M1382 1232h0M1174 797h0M1658 850h0M1116 1566h0M1118 1551h0M1169 1402h0M1203 1074h0M1438 997h0M1119 1224h0M1560 1240h0M1160 1480h0M1107 1396h0M1155 1457h0M1143 1566h0M1602 1161h0M1643 906h0M1584 1177h0M1470 1100h0M1591 1156h0M1140 1560h0M1439 1015h0M1298 1286h0M1116 1395h0M1133 1544h0M1295 887h0M1306 1004h0M1187 1265h0M1638 711h0M1464 1093h0M1568 1130h0M1539 992h0M1188 758h0M1113 1312h0M1146 1192h0M1045 1503h0M1478 1053h0M1240 811h0M1270 742h0M1344 803h0M1547 1233h0M1470 961h0M1134 1303h0M1254 1052h0M1119 1069h0M1278 1208h0M1149 1249h0M1240 982h0M1226 1101h0M1561 1248h0M1209 1334h0M1181 1396h0M1263 990h0M1521 693h0M1164 1145h0M1374 1575h0M1103 1185h0M1701 677h0M1389 1207h0M1737 724h0M1285 1203h0M1272 1208h0M1546 703h0M1173 1644h0M1126 1614h0M1086 1280h0M1451 1114h0M1608 1186h0M1124 1029h0M1206 1148h0M1231 1296h0M1286 1265h0M1095 1404h0M1542 973h0M1325 1256h0M1241 779h0M1397 1379h0M1716 719h0M1320 778h0M1656 991h0M1725 763h0M1096 1544h0M1117 1051h0M1418 1109h0M1431 1052h0M1605 1194h0M1348 1265h0M1073 1334h0M1414 1007h0M1059 1294h0M1179 1647h0M1596 662h0M1142 919h0M1416 1099h0M1402 1169h0M1548 1320h0M1073 1600h0M1411 1090h0M1683 710h0M1311 967h0M1047 1364h0M1719 678h0M1122 1281h0M1310 984h0M1146 1381h0M1494 694h0M1421 936h0M1078 1433h0M1701 758h0M1594 1286h0M1205 1091h0M1227 1191h0M1391 688h0M1194 1326h0M1476 739h0M1708 733h0M1415 1069h0M1224 695h0M1602 695h0M1431 1129h0M1635 906h0M1672 718h0M1316 772h0M1356 889h0M1681 1030h0M1160 1561h0M1123 1341h0M1358 1013h0M1258 1139h0M1378 817h0M1398 975h0M1097 1529h0M1285 1169h0M1090 1379h0M1605 679h0M1272 1240h0M1086 1514h0M1144 1614h0M1274 778h0M1455 1107h0M1112 1390h0M1635 747h0M1150 1168h0M1568 1269h0M1154 1067h0M1370 913h0M1557 943h0M1708 686h0M1671 1045h0M1390 1233h0M1381 935h0M1434 1083h0M1691 937h0M1241 1309h0M1420 813h0M1148 1310h0M1520 750h0M1626 1248h0M1170 1115h0M1465 1046h0M1253 725h0M1604 942h0M1120 1016h0M1378 1070h0M1209 1129h0M1720 774h0M1104 1420h0M1442 1147h0M1088 1637h0M1358 996h0M1114 1467h0M1562 1121h0M1246 1278h0M1283 782h0M1587 1239h0M1620 677h0M1402 966h0M1204 1123h0M1134 1536h0M1164 1319h0M1366 998h0M1190 1273h0M1052 1497h0M1533 694h0M1148 1482h0M1686 913h0M1548 694h0M1230 703h0M1149 998h0M1395 1224h0M1121 1357h0M1132 921h0M1267 889h0M1134 1224h0M1367 797h0M1593 678h0M1260 1271h0M1131 1639h0M1540 741h0M1207 1176h0M1550 724h0M1270 1145h0M1081 1347h0M1188 1082h0M1106 1281h0M1553 672h0M1212 1293h0M1388 1148h0M1675 1020h0M1694 694h0M1159 1093h0M1175 1402h0M1346 1234h0M1359 1004h0M1431 1023h0M1111 1373h0M1036 1428h0M1225 790h0M1370 1583h0M1176 1466h0M1305 1098h0M1413 957h0M1167 1573h0M1153 1021h0M1299 1005h0M1555 765h0M1748 693h0M1174 810h0M1241 797h0M1587 1083h0M1719 708h0M1167 1651h0M1231 732h0M1108 1347h0M1722 696h0M1549 990h0M1105 1168h0M1385 796h0M1202 1249h0M1161 1597h0M1132 1155h0M1733 719h0M1564 968h0M1090 1504h0M1138 1340h0M1222 766h0M1188 1133h0M1554 748h0M1225 1053h0M1721 755h0M1139 1153h0M1316 992h0M1332 786h0M1498 1185h0M1326 1055h0M1665 1084h0M1436 1155h0M1182 1023h0M1106 1450h0M1253 1130h0M1572 638h0M1194 1122h0M1300 766h0M1614 1177h0M1623 771h0M1618 686h0M1392 1247h0M1191 1333h0M1395 1195h0M1594 1223h0M1723 778h0M1677 1004h0M1274 1183h0M1450 1162h0M1086 1246h0M1754 670h0M1395 788h0M1428 967h0M1143 1130h0M1107 1503h0M1206 1397h0M1294 920h0M1105 1389h0M1175 1108h0M1463 733h0M1500 701h0M1150 1418h0M1651 1092h0M1114 1046h0M1128 976h0M1195 1389h0M1151 1107h0M1434 1098h0M1161 1583h0M1185 1390h0M1561 1231h0M1439 983h0M1254 1117h0M1082 1426h0M1198 1659h0M1374 703h0M1200 1039h0M1073 1395h0M1533 677h0M1360 1069h0M1150 1199h0M1506 757h0M1562 1154h0M1261 1082h0M1658 1131h0M1198 1646h0M1074 1350h0M1254 1273h0M1544 1153h0M1582 983h0M1593 1177h0M1512 1132h0M1080 1398h0M1432 1163h0M1426 794h0M1554 1154h0M1554 1201h0M1273 1199h0M1133 1371h0M1124 1262h0M1378 943h0M1624 1279h0M1191 1146h0M1145 897h0" stroke="#d4ff50"/>
<path d="M1112 1545h0M1054 1614h0M1289 898h0M1451 805h0M1587 960h0M1083 1566h0M1163 882h0M1282 903h0M1610 998h0M1720 803h0M1545 779h0M1497 1115h0M1083 1553h0M1032 1451h0M1199 804h0M1317 1208h0M1693 913h0M1570 716h0M1472 1140h0M1431 1070h0M1581 795h0M1257 1044h0M1377 1052h0M1407 1020h0M1458 803h0M1374 782h0M1427 810h0M1277 1107h0M1058 1592h0M1611 880h0M1639 739h0M1071 1614h0M1064 1347h0M1504 771h0M1092 1553h0M1655 922h0M1103 1342h0M1637 984h0M1649 896h0M1474 1000h0M1186 844h0M1653 763h0M1268 938h0M1634 951h0M1608 858h0M1161 834h0M1173 911h0M1285 1045h0M1611 1070h0M1161 848h0M1353 819h0M1636 812h0M1313 1028h0M1438 935h0M1552 1091h0M1647 1038h0M1382 811h0M1325 1069h0M1494 757h0M1356 1138h0M1428 982h0M1107 1582h0M1557 927h0M1635 717h0M1160 857h0M1270 1005h0M1639 1070h0M1215 990h0M1117 1505h0M1453 920h0M1548 1114h0M1317 865h0M1330 966h0M1624 764h0M1425 1101h0M1225 989h0M1670 934h0M1055 1631h0M1313 1153h0M1297 1098h0M1701 865h0M1365 951h0M1654 1043h0M1388 802h0M1708 888h0M1333 1163h0M1345 1186h0M1156 844h0M1356 950h0M1650 805h0M1521 1004h0M1369 1023h0M1159 983h0M1212 907h0M1673 842h0M1555 1107h0M1701 943h0M1074 1535h0M1373 982h0M1635 765h0M1578 943h0M1180 834h0M1319 1199h0M1664 1013h0M1068 1542h0M1414 867h0M1630 1023h0M1056 1458h0M1586 725h0M1475 983h0M1258 875h0M1584 973h0M1716 810h0M1042 1624h0M1601 998h0M1098 1629h0M1275 889h0M1278 897h0M1628 952h0M1414 833h0M1026 1503h0M1609 796h0M1375 996h0M1397 1023h0M1678 969h0M1512 1098h0M1545 1122h0M1386 926h0M1639 1023h0M1648 1113h0M1256 732h0M1544 1012h0M1517 922h0M1684 868h0M1527 1060h0M1338 875h0M1070 1343h0M1061 1605h0M1200 866h0M1577 1225h0M1282 1061h0M1602 881h0M1185 810h0M1584 789h0M1366 1215h0M1405 1005h0M1646 952h0M1269 1023h0M1092 1597h0M1429 857h0M1268 734h0M1113 1638h0M1146 880h0M1659 1023h0M1284 1075h0M1639 959h0M1616 904h0M1702 928h0M1295 1059h0M1077 1637h0M1236 849h0M1077 1311h0M1384 856h0M1207 1160h0M1608 812h0M1469 991h0M1298 1177h0M1288 991h0M1377 1146h0M1180 898h0M1096 1496h0M1073 1270h0M1585 803h0M1321 1217h0M1339 1014h0M1243 724h0M1147 1574h0M1526 1121h0M1154 897h0M1346 920h0M1208 864h0M1084 1530h0M1487 1008h0M1291 950h0M1121 998h0M1244 848h0M1487 1115h0M1367 1030h0M1360 834h0M1535 860h0M1524 913h0M1658 772h0M1569 913h0M1603 740h0M1065 1333h0M1556 781h0M1674 1070h0M1668 740h0M1312 1199h0M1651 1077h0M1707 841h0M1623 740h0M1560 1006h0M1348 969h0M1035 1442h0M1326 927h0M1276 922h0M1222 841h0M1615 1060h0M1578 1131h0M1270 819h0M1642 780h0M1281 1116h0M1509 1107h0M1539 944h0M1720 848h0M1178 965h0M1547 1109h0M1312 797h0M1450 864h0M1465 891h0M1262 1006h0M1272 961h0M1132 1012h0M1202 998h0M1594 958h0M1553 1013h0M1646 1077h0M1148 1016h0M1248 997h0M1676 944h0M1601 875h0M1278 912h0M1102 1604h0M1288 976h0M1083 1598h0M1562 1076h0M1104 1513h0M1371 1209h0M1646 1092h0M1495 1038h0M1557 740h0M1274 1140h0M1145 958h0M1108 1597h0M1031 1466h0M1426 842h0M1601 765h0M1108 1630h0M1616 825h0M1542 927h0M1351 959h0M1139 967h0M1608 888h0M1619 951h0M1211 781h0M1211 1153h0M1245 755h0M1546 1091h0M1506 1022h0M1286 983h0M1491 1044h0M1335 961h0M1274 1016h0M1561 1105h0M1021 1592h0M1320 1044h0M1626 888h0M1068 1452h0M1251 865h0M1243 867h0M1673 795h0M1066 1590h0M1307 1114h0M1532 1099h0M1272 726h0M1554 874h0M1384 1091h0M1321 795h0M1674 818h0M1689 905h0M1657 804h0M1184 766h0M1082 1521h0M1644 1122h0M1704 897h0M1568 771h0M1675 974h0M1419 997h0M1602 1006h0M1491 889h0M1694 755h0M1352 1223h0" stroke="#80ffb4"/>
<path d="M1322 828h0M1497 849h0M1505 851h0M1380 973h0M1524 851h0M1491 982h0M1532 1129h0M1485 772h0M1177 920h0M1177 997h0M1007 1545h0M1465 905h0M1179 990h0M1550 1052h0M1587 1008h0M1553 1043h0M1199 944h0M1486 927h0M1368 1195h0M1209 882h0M1060 1528h0M1323 1177h0M1523 988h0M1684 788h0M1185 997h0M1484 794h0M1528 779h0M1335 1114h0M1504 975h0M1508 812h0M1352 1099h0M1704 818h0M1701 836h0M1661 1062h0M1616 1107h0M1625 1060h0M1593 914h0M1494 914h0M1347 1169h0M1638 1114h0M1323 833h0M1377 1117h0M1652 1015h0M1593 1068h0M1472 905h0M1441 898h0M1224 958h0M1215 850h0M1626 1031h0M1292 825h0M1552 812h0M1504 835h0M1407 896h0M1212 890h0M1614 1116h0M1018 1582h0M1513 1051h0M1694 821h0M1216 881h0M1182 960h0M1555 921h0M1502 811h0M1554 842h0M1539 851h0M1485 836h0M1493 810h0M1582 1046h0M1635 1061h0M1513 850h0M1347 1217h0M1525 891h0M1031 1575h0M1542 1022h0M1013 1575h0M1491 782h0M1084 1561h0M1005 1589h0M1631 803h0M1490 937h0M1293 813h0M1525 844h0M1213 875h0M1028 1582h0M1306 804h0M1608 1030h0M1197 896h0M1553 825h0M1334 818h0M1522 973h0M1224 927h0M1400 875h0M1290 835h0M1593 865h0M1492 795h0M1371 960h0M1613 1035h0M1638 790h0M1675 836h0M1345 936h0M1529 919h0M1053 1552h0M1640 1006h0M1435 903h0M1570 1060h0M1495 818h0M1585 849h0M1355 1155h0M1180 914h0M1365 1092h0M1517 1077h0M1578 1005h0M1228 967h0M1710 820h0M1301 812h0M1538 809h0M1212 934h0M1667 803h0M1620 927h0M1337 844h0M1387 851h0M1495 773h0M1483 782h0M1486 818h0M1573 842h0M1599 1061h0M1577 1053h0M1477 789h0M1373 1137h0M1395 881h0M1658 757h0M1308 1176h0M1513 803h0M1562 809h0M1583 1106h0M1584 864h0M1191 959h0M1136 1007h0M1211 981h0M1022 1577h0M1229 952h0M1491 856h0M1501 780h0M1339 828h0M1487 790h0M1047 1552h0M1661 735h0M1320 810h0M997 1607h0M1363 1202h0" stroke="#33ccff"/>
<path d="M1189 942h0M1203 934h0" stroke="#3f80ff"/>
<path d="M1242 414h0M1482 1561h0M1468 397h0M1548 353h0M1407 397h0M1729 368h0M1486 490h0M1513 414h0M1418 469h0M1279 616h0M1421 1559h0M1640 599h0M1355 529h0M1298 491h0M1544 454h0M1736 375h0M1757 477h0M1700 404h0M1350 523h0M1318 1637h0M1451 429h0M1280 630h0M1746 397h0M1323 383h0M1541 492h0M1524 445h0M1326 1488h0M1577 1521h0M1370 1646h0M1458 381h0M1419 376h0M1324 413h0M1318 374h0M1387 431h0M1486 584h0M1460 554h0M1233 475h0M1540 1505h0M1248 404h0M1446 345h0M1304 328h0M1316 615h0M1605 475h0M1406 492h0M1399 608h0M1293 454h0M1330 295h0M1710 492h0M1613 412h0M1314 1505h0M1492 404h0M1368 475h0M1365 638h0M1527 499h0M1355 595h0M1365 529h0M1416 492h0M1411 579h0M1287 289h0M1471 1591h0M1570 1481h0M1513 571h0M1307 321h0M1513 334h0M1563 1575h0M1256 515h0M1373 576h0M1647 443h0M1398 352h0M1479 413h0M1543 404h0M1551 538h0M1668 555h0M1672 529h0M1733 407h0M1362 1678h0M1383 470h0M1428 577h0M1618 406h0M1522 554h0M1461 398h0M1461 412h0M1298 1581h0M1457 1683h0M1603 366h0M1491 576h0M1492 1621h0M1687 437h0M1274 624h0M1748 461h0M1559 556h0M1761 390h0M1319 576h0M1754 545h0M1528 1589h0M1323 444h0M1216 536h0M1499 1528h0M1455 375h0M1363 297h0M1443 1363h0M1373 545h0M1380 1536h0M1317 523h0M1680 529h0M1392 595h0M1333 1613h0M1254 397h0M1297 461h0M1461 1382h0M1377 554h0M1752 594h0M1315 538h0M1501 1607h0M1757 446h0M1782 540h0M1555 452h0M1304 516h0M1527 547h0M1311 358h0M1219 499h0M1357 561h0M1789 375h0M1503 430h0M1264 1607h0M1318 1590h0M1381 311h0M1499 1669h0M1648 600h0M1464 485h0M1341 570h0M1561 1436h0M1510 1513h0M1214 547h0M1695 461h0M1265 281h0M1506 319h0M1605 571h0M1351 586h0M1395 506h0M1411 390h0M1297 1551h0M1369 648h0M1381 328h0M1370 632h0M1382 1543h0M1594 509h0M1650 413h0M1350 492h0M1600 562h0M1521 1676h0M1532 444h0M1739 415h0M1451 397h0M1549 1569h0M1492 485h0M1778 436h0M1606 514h0M1377 615h0M1397 1457h0M1436 1620h0M1292 1450h0M1261 460h0M1423 446h0M1573 515h0M1263 523h0M1731 431h0M1549 335h0M1346 468h0M1756 368h0M1674 540h0M1558 1457h0M1319 1542h0M1332 444h0M1440 1691h0M1434 568h0M1325 353h0M1538 1542h0M1341 351h0M1436 517h0M1548 1599h0M1409 1682h0M1255 593h0M1767 367h0M1453 1668h0M1397 1646h0M1451 443h0M1329 454h0M1486 571h0M1520 329h0M1373 326h0M1474 1623h0M1691 514h0M1607 439h0M1662 373h0M1269 538h0M1285 375h0M1258 1592h0M1437 610h0M1319 591h0M1297 444h0M1290 400h0M1446 1371h0M1604 1413h0M1426 530h0M1393 468h0M1248 453h0M1783 460h0M1554 1638h0M1743 452h0M1232 608h0M1420 1575h0M1391 564h0M1277 407h0M1242 537h0M1609 546h0M1214 1576h0M1713 462h0M1668 398h0M1363 546h0M1316 1678h0M1395 633h0M1479 494h0M1614 428h0M1477 1473h0M1483 485h0M1622 492h0M1270 585h0M1519 1496h0M1791 461h0M1409 609h0M1504 1693h0M1294 1606h0M1811 399h0M1531 338h0M1457 498h0M1419 345h0M1270 428h0M1320 516h0M1590 391h0M1472 1683h0M1760 483h0M1665 461h0M1556 1544h0M1629 446h0M1506 1551h0M1677 412h0M1428 420h0M1623 507h0M1689 483h0M1560 1475h0M1422 553h0M1544 1482h0M1776 491h0M1382 593h0M1249 421h0M1572 501h0M1371 615h0M1328 405h0M1523 1599h0M1611 397h0M1437 359h0M1451 413h0M1402 422h0M1289 538h0M1433 1569h0M1384 390h0M1299 539h0M1283 420h0M1451 1628h0M1415 1584h0M1559 1489h0M1397 384h0M1402 482h0M1378 1457h0M1490 1481h0M1397 399h0M1692 444h0M1337 327h0M1416 615h0M1684 475h0M1283 624h0M1455 1701h0M1512 461h0M1661 422h0M1443 352h0M1314 555h0M1424 523h0M1532 1490h0M1450 1566h0M1380 398h0M1423 617h0M1429 515h0M1547 1590h0M1716 484h0M1252 538h0M1440 506h0M1560 1615h0M1459 491h0M1466 342h0M1688 421h0M1506 1537h0M1702 537h0M1343 1659h0M1274 468h0M1311 375h0M1581 343h0M1234 506h0M1279 383h0M1515 1521h0M1472 451h0M1326 367h0M1273 560h0M1422 492h0M1276 280h0M1526 529h0M1491 1511h0M1537 1667h0M1257 361h0M1328 390h0M1310 485h0M1679 407h0M1671 468h0M1506 522h0M1223 575h0M1311 1530h0M1542 1581h0M1484 390h0M1208 553h0M1500 361h0M1302 391h0M1335 1662h0M1734 579h0M1497 1520h0M1474 1638h0M1470 1645h0M1597 452h0M1515 1475h0M1676 428h0M1306 368h0M1537 1605h0M1595 399h0M1335 630h0M1581 560h0M1429 467h0M1396 1443h0M1418 485h0M1419 1420h0M1275 329h0M1644 484h0M1289 616h0M1535 483h0M1609 563h0M1568 1581h0M1733 437h0M1697 420h0M1716 421h0M1764 492h0M1526 1480h0M1307 382h0M1675 571h0M1580 1419h0M1789 453h0M1645 513h0M1452 507h0M1473 422h0M1446 360h0M1407 462h0M1334 616h0M1731 443h0M1389 555h0M1524 1582h0M1749 538h0M1603 382h0M1283 546h0M1544 1467h0M1488 462h0M1297 318h0M1377 648h0M1473 469h0M1509 1682h0M1539 554h0M1414 1691h0M1349 314h0M1264 562h0M1283 344h0M1757 493h0M1647 399h0M1738 428h0M1415 351h0M1586 1411h0M1384 623h0M1444 1526h0M1726 595h0M1341 320h0M1219 529h0M1291 375h0M1558 398h0M1457 1404h0M1488 1536h0M1318 1512h0M1240 531h0M1582 1464h0M1446 532h0M1486 1566h0M1541 335h0M1480 1576h0M1673 376h0M1386 412h0M1470 351h0M1396 614h0M1607 501h0M1290 1444h0M1391 529h0M1531 1567h0M1636 345h0M1681 500h0M1523 415h0M1486 398h0M1272 1583h0M1392 1667h0M1441 1552h0M1351 352h0M1524 334h0M1598 576h0M1324 398h0M1585 398h0M1478 601h0M1542 350h0M1563 1468h0M1439 1576h0M1290 1616h0M1286 283h0M1323 525h0M1328 345h0M1310 312h0M1315 321h0M1292 624h0M1295 344h0M1497 1615h0M1637 592h0M1302 641h0M1311 499h0M1364 1653h0M1368 1456h0M1411 639h0M1311 1667h0M1384 609h0M1554 1451h0M1269 522h0M1413 398h0M1237 561h0M1558 1583h0M1445 484h0M1617 436h0M1498 547h0M1360 664h0M1387 586h0M1796 469h0M1645 468h0M1341 1676h0M1502 576h0M1420 530h0M1428 640h0M1342 537h0M1476 538h0M1236 462h0M1456 405h0M1614 506h0M1464 1590h0M1278 1615h0M1526 1542h0M1233 492h0M1676 350h0M1317 336h0M1611 475h0M1530 1678h0M1539 1598h0M1308 1630h0M1497 1490h0M1429 624h0M1572 468h0M1467 571h0M1325 291h0M1739 538h0M1279 556h0M1636 517h0M1271 478h0M1461 1490h0M1529 1573h0M1580 1514h0M1489 592h0M1715 360h0M1567 554h0M1314 1582h0M1396 369h0M1449 1535h0M1494 1458h0M1306 523h0M1329 561h0M1405 568h0M1487 508h0M1268 547h0" stroke="#ff0000"/>
<path d="M1530 616h0M1368 1474h0M1290 662h0M1413 1443h0M1333 1301h0M1380 1519h0M1568 1349h0M1348 640h0M1517 1451h0M1538 1621h0M1531 1303h0M1422 1382h0M1512 1286h0M1398 1691h0M1418 1325h0M1514 586h0M1296 1630h0M1321 1390h0M1550 1363h0M1463 1358h0M1519 1387h0M1274 655h0M1265 1498h0M1561 1389h0M1378 1412h0M1389 1535h0M1356 1293h0M1321 1577h0M1468 1270h0M1434 1382h0M1251 1599h0M1402 1606h0M1257 1606h0M1361 1629h0M1528 1467h0M1229 1560h0M1513 1350h0M1302 1512h0M1209 679h0M1366 1513h0M1435 626h0M1284 1543h0M1279 1675h0M1510 1324h0M1487 1256h0M1289 1380h0M1298 1429h0M1251 1537h0M1640 617h0M1452 1363h0M1469 1351h0M1351 1643h0M1356 1372h0M1316 711h0M1504 1443h0M1529 1324h0M1605 600h0M1258 1402h0M1422 649h0M1644 1216h0M1440 1316h0M1153 1288h0M1251 618h0M1376 1545h0M1440 1506h0M1415 756h0M1420 1527h0M1290 1567h0M1297 1441h0M1462 1512h0M1184 1591h0M1299 1646h0M1239 671h0M1540 1364h0M1508 1468h0M1547 1262h0M1193 1575h0M1248 1402h0M1368 1568h0M1565 1355h0M1325 1643h0M1285 1621h0M1445 1215h0M1567 599h0M1285 1481h0M1183 1343h0M1506 1614h0M1291 1620h0M1366 1480h0M1549 1413h0M1134 1459h0M1406 694h0M1433 1366h0M1436 1342h0M1453 1373h0M1358 1511h0M1526 1403h0M1592 1325h0M1343 1552h0M1246 625h0M1362 1536h0M1418 748h0M1312 703h0M1578 1395h0M1513 1690h0M1508 1373h0M1266 641h0M1420 1435h0M1350 664h0M1720 648h0M1560 1381h0M1214 1309h0M1401 1560h0M1457 1482h0M1402 1435h0M1177 1183h0M1533 1177h0M1310 1589h0M1167 1512h0M1717 654h0M1403 1499h0M1483 1436h0M1400 1545h0M1676 587h0M1199 1366h0M1261 1552h0M1619 1327h0M1365 1451h0M1543 1371h0M1506 1351h0M1372 1512h0M1199 1429h0M1429 748h0M1460 633h0M1488 1223h0M1420 1608h0M1608 1358h0M1554 1436h0M1342 1644h0M1297 1613h0M1355 1387h0M1632 631h0M1405 1552h0M1207 630h0M1535 1247h0M1236 1600h0M1392 1515h0M1496 1364h0M1631 1222h0M1606 1262h0M1613 1348h0M1575 1363h0M1422 756h0M1339 1684h0M1425 664h0M1542 1692h0M1351 709h0M1401 1341h0M1347 735h0M1340 1511h0M1390 1420h0M1332 1536h0M1455 1512h0M1301 1451h0M1539 1460h0M1326 741h0M1308 1490h0M1275 641h0M1531 586h0M1253 1396h0M1578 600h0M1370 1442h0M1391 1326h0M1725 654h0M1352 1600h0M1421 701h0M1387 1629h0M1546 1450h0M1297 1398h0M1464 1434h0M1639 571h0M1245 679h0M1366 1605h0M1527 1686h0M1408 686h0M1441 1254h0M1284 1561h0M1522 1380h0M1479 1272h0M1540 1287h0M1705 640h0M1323 1582h0M1424 1536h0M1334 1411h0M1207 664h0M1467 1441h0M1639 1241h0M1427 1371h0M1450 1316h0M1582 1405h0M1595 1396h0M1409 1419h0M1493 1449h0M1447 750h0M1278 1396h0M1373 1467h0" stroke="#ff8c00"/>
<path d="M1241 1480h0M1328 1402h0M1209 724h0M1492 1140h0M1213 1216h0M1591 1280h0M1485 1426h0M1726 608h0M1470 1192h0M1575 1286h0M1266 700h0M1650 648h0M1130 1278h0M1288 1319h0M1351 741h0M1306 727h0M1476 1194h0M1152 1487h0M1338 1342h0M1357 1277h0M1356 1558h0M1271 1318h0M1312 1405h0M1347 1387h0M1276 670h0M1537 1215h0M1387 1396h0M1263 1365h0M1209 1507h0M1751 625h0M1487 1240h0M1605 1317h0M1341 710h0M1608 1311h0M1042 1373h0M1400 1262h0M1638 1193h0M1242 649h0M1230 1481h0M1203 1434h0M1704 741h0M1208 712h0M1262 1302h0M1478 648h0M1148 1280h0M1194 1293h0M1216 1629h0M1653 1170h0M1181 1130h0M1624 1312h0M1560 1396h0M1413 1226h0M1193 1060h0M1340 1465h0M1290 1253h0M1331 702h0M1399 1216h0M1329 718h0M1338 794h0M1191 1536h0M1317 1271h0M1209 1456h0M1168 1137h0M1434 772h0M1252 1662h0M1215 647h0M1627 1261h0M1096 1449h0M1098 1443h0M1277 1466h0M1638 648h0M1153 1115h0M1230 641h0M1410 1262h0M1166 1498h0M1439 654h0M1540 1707h0M1520 1716h0M1273 1418h0M1534 624h0M1268 1450h0M1298 1475h0M1406 1319h0M1308 710h0M1190 1442h0M1476 1239h0M1473 1232h0M1377 740h0M1599 1214h0M1208 740h0M1680 672h0M1205 1496h0M1184 1278h0M1193 1449h0M1354 1623h0M1551 647h0M1679 641h0M1130 1202h0M1181 711h0M1161 1551h0M1531 1350h0M1545 1355h0M1404 1257h0M1381 766h0M1190 1348h0M1528 1202h0M1301 1370h0M1223 671h0M1240 1452h0M1427 1247h0M1168 1529h0M1519 669h0M1265 1169h0M1233 1662h0M1506 1208h0M1197 1020h0M1316 1425h0M1355 1575h0M1686 633h0M1243 1412h0M1686 664h0M1142 1280h0M1162 1537h0M1238 1234h0M1217 1255h0M1596 1254h0M1598 673h0M1206 1490h0M1337 1527h0M1332 726h0M1235 1193h0M1298 724h0M1184 1310h0M1339 1402h0M1343 1441h0M1218 1239h0M1604 1380h0M1287 709h0M1542 1316h0M1223 1529h0M1338 701h0M1144 1348h0M1095 1214h0M1257 1654h0M1435 718h0M1349 1545h0M1529 1420h0M1743 625h0M1590 1371h0M1379 1303h0M1316 1365h0M1461 1241h0M1161 1129h0M1256 1527h0M1460 677h0M1600 1310h0M1554 1171h0M1487 632h0M1542 648h0M1380 724h0M1234 1521h0M1211 718h0M1179 741h0M1212 1530h0M1328 1467h0M1178 1326h0M1177 1218h0M1622 1225h0M1474 1187h0M1073 1364h0M1232 1639h0M1188 693h0M1179 1473h0M1267 1248h0M1444 1246h0M1557 1285h0M1564 1308h0M1352 678h0M1202 1637h0M1699 625h0M1211 1043h0M1409 1559h0M1233 1349h0M1211 1449h0M1244 1239h0M1145 1457h0M1200 1491h0M1513 1146h0M1317 1317h0M1525 1155h0M1206 648h0M1339 1278h0M1280 1381h0M1732 747h0M1159 1435h0M1266 747h0M1130 1464h0M1141 1497h0M1479 617h0M1294 717h0M1134 1113h0M1296 1301h0M1600 1262h0M1079 1374h0M1755 646h0M1648 664h0M1438 1448h0M1170 1287h0M1460 1257h0M1226 681h0M1230 1031h0M1600 1234h0M1245 1521h0M1451 1301h0M1560 1255h0M1167 1152h0M1463 688h0M1662 641h0M1242 1351h0M1501 1139h0M1392 1387h0M1437 1482h0M1238 1421h0M1114 1155h0M1548 1255h0M1189 646h0M1662 716h0M1178 1559h0M1149 1262h0M1175 718h0M1219 1218h0M1582 1262h0M1621 1300h0M1389 1255h0M1614 1335h0M1425 1474h0M1401 735h0M1386 741h0M1548 1194h0M1114 1121h0M1231 1388h0M1191 1316h0M1323 1443h0M1285 764h0M1543 624h0M1257 686h0M1596 1350h0M1270 677h0M1177 1639h0M1362 1581h0M1690 655h0M1139 1203h0M1566 1381h0M1680 622h0M1297 1269h0M1320 1357h0M1515 1413h0M1226 726h0M1546 638h0M1571 1200h0M1198 1537h0M1403 749h0M1318 1405h0M1332 1347h0M1180 1208h0M1420 1234h0M1592 1233h0M1545 1203h0M1584 1380h0M1446 718h0M1284 1372h0M1189 742h0M1431 1224h0M1131 1343h0M1496 1148h0M1164 1506h0M1299 1491h0M1200 1472h0M1591 1294h0M1403 780h0M1492 653h0M1568 1335h0M1327 1311h0M1226 1363h0M1706 626h0M1104 1091h0M1422 1316h0M1064 1491h0M1465 1293h0M1716 638h0M1200 1285h0M1272 1659h0M1473 1199h0M1614 1256h0M1712 663h0M1547 1325h0M1198 1242h0M1521 1210h0M1290 1504h0M1618 1200h0M1173 726h0M1211 734h0M1164 1273h0M1429 1046h0M1494 1194h0M1307 1459h0M1276 1435h0M1248 1654h0M1324 1318h0M1308 1412h0M1457 639h0M1533 1254h0M1407 1239h0M1336 983h0M1286 1231h0M1229 1340h0M1122 1215h0M1415 1378h0M1149 1465h0M1259 1435h0M1392 732h0M1278 680h0M1578 1211h0M1247 1217h0M1234 1240h0M1190 1209h0M1586 617h0M1467 665h0M1404 1300h0M1521 1333h0M1248 1467h0M1670 687h0M1413 1039h0M1198 1553h0M1344 1272h0M1274 1513h0M1388 1302h0M1167 1560h0M1316 1333h0M1196 1185h0M1196 1031h0M1622 1316h0M1098 1100h0M1434 695h0" stroke="#ffdd00"/>
<path d="M1120 1573h0M1087 1404h0M1664 841h0M1123 1184h0M1369 835h0M1488 1179h0M1241 1077h0M1118 1585h0M1222 704h0M1651 888h0M1424 960h0M1170 755h0M1528 733h0M1167 1636h0M1352 1426h0M1431 1005h0M1236 772h0M1730 709h0M1540 662h0M1154 1256h0M1548 1146h0M1342 1257h0M1239 732h0M1379 1083h0M1242 1052h0M1566 646h0M1334 1255h0M1118 1475h0M1107 1366h0M1188 1161h0M1616 1296h0M1275 1279h0M1146 1021h0M1220 1653h0M1172 1304h0M1685 696h0M1412 1012h0M1625 749h0M1620 696h0M1697 935h0M1590 688h0M1629 961h0M1186 1060h0M1566 1241h0M1571 1170h0M1519 1421h0M1562 640h0M1569 1177h0M1351 880h0M1457 1246h0M1262 740h0M1608 672h0M1342 1396h0M1144 1537h0M1280 1007h0M1541 694h0M1215 1084h0M1243 1162h0M1095 1280h0M1725 703h0M1344 1006h0M1155 1053h0M1260 1209h0M1152 1335h0M1452 975h0M1144 942h0M1253 1098h0M1170 1083h0M1488 990h0M1256 1342h0M1217 1301h0M1420 1184h0M1255 1091h0M1501 873h0M1195 1109h0M1110 1335h0M1191 1005h0M1046 1426h0M1185 1139h0M1279 758h0M1287 1179h0M1461 1086h0M1139 1529h0M1600 1154h0M1558 647h0M1704 710h0M1225 1130h0M1192 1280h0M1715 670h0M1571 780h0M1395 818h0M1519 703h0M1447 1060h0M1116 1254h0M1113 1482h0M1735 688h0M1173 1398h0M1058 1373h0M1189 711h0M1512 695h0M1635 827h0M1503 680h0M1460 975h0M1244 772h0M1230 1062h0M1469 1068h0M1158 1543h0M1147 1339h0M1260 1133h0M1388 1005h0M1593 1101h0M1206 1224h0M1193 797h0M1246 1078h0M1640 817h0M1324 991h0M1152 1318h0M1486 725h0M1592 671h0M1581 1137h0M1482 1092h0M1281 1176h0M1650 834h0M1308 773h0M1124 1107h0M1654 982h0M1162 1021h0M1078 1606h0M1290 1195h0M1483 1139h0M1105 1558h0M1423 1037h0M1190 1520h0M1441 1101h0M1213 704h0M1290 1207h0M1178 1527h0M1148 1402h0M1335 973h0M1725 672h0M1213 1635h0M1460 849h0M1393 1015h0M1586 633h0M1062 1378h0M1086 1606h0M1145 1241h0M1213 1090h0M1125 1067h0M1058 1436h0M1441 1038h0M1070 1358h0M1073 1303h0M1151 1077h0M1150 1638h0M1363 766h0M1086 1262h0M1148 1062h0M1197 1382h0M1253 802h0M1406 1114h0M1544 671h0M1067 1280h0M1688 983h0M1608 781h0M1076 1389h0M1223 1124h0M1455 857h0M1522 755h0M1395 1240h0M1612 724h0M1078 1215h0M1173 1098h0M1180 757h0M1475 719h0M1539 711h0M1582 1215h0M1620 757h0M1099 1475h0M1143 1645h0M1658 708h0M1551 944h0M1137 1195h0M1157 1169h0M1577 677h0M1532 725h0M1567 973h0M1109 1475h0M1237 749h0M1467 740h0M1749 708h0M1256 999h0M1532 709h0M1124 1496h0M1181 1239h0M1415 1051h0M1703 727h0M1101 1491h0M1130 1497h0M1247 1062h0M1185 1125h0M1317 1223h0M1540 1131h0M1114 1576h0M1075 1341h0M1443 1161h0M1231 1044h0M1401 1060h0M1598 952h0M1461 741h0M1095 1591h0M1352 1054h0M1414 1085h0M1254 771h0M1175 1480h0M1549 959h0M1686 678h0M1139 1123h0M1488 1052h0M1238 842h0M1188 805h0M1582 716h0M1537 655h0M1429 1468h0M1419 1200h0M1444 1139h0M1271 711h0M1260 771h0M1565 797h0M1164 773h0M1179 1226h0M1503 1131h0M1410 1028h0M1406 1070h0M1319 1000h0M1202 763h0M1305 743h0M1164 804h0M1245 1179h0M1141 1590h0M1136 1363h0M1132 1030h0M1340 782h0M1275 733h0M1160 1311h0M1112 1028h0M1605 711h0M1220 1327h0M1124 1390h0M1407 1099h0M1126 1162h0M1658 880h0M1357 1062h0M1200 1270h0M1742 731h0M1357 1233h0M1580 642h0M1288 1270h0M1385 1263h0M1324 1007h0M1409 1060h0M1176 1246h0M1616 1153h0M1196 1015h0M1138 1091h0M1448 1121h0M1094 1341h0M1676 724h0M1076 1278h0M1689 998h0M1679 1000h0M1139 1576h0M1243 805h0M1632 989h0M1703 880h0M1661 1108h0M1500 672h0M1312 780h0M1194 1155h0M1126 1225h0M1278 712h0M1173 1535h0M1037 1474h0M1073 1457h0M1058 1467h0M1093 1358h0M1231 1107h0M1162 1427h0M1087 1433h0M1187 1529h0M1153 1100h0M1159 1202h0M1248 1312h0M1333 1051h0M1204 1293h0M1203 1389h0M1142 891h0M1586 709h0M1233 756h0M1119 1364h0M1166 1605h0M1062 1397h0M1473 1122h0M1189 1037h0M1247 874h0M1373 888h0M1100 1192h0M1117 1192h0M1119 1021h0M1231 717h0M1246 704h0M1688 734h0M1625 672h0M1185 1077h0M1437 1059h0M1049 1437h0M1440 974h0M1574 1233h0M1274 967h0M1580 1374h0M1626 687h0M1105 1374h0M1689 703h0M1126 1597h0M1592 704h0M1416 1116h0M1299 1317h0M1075 1355h0M1070 1404h0M1545 1137h0M1041 1481h0M1470 1162h0M1186 1639h0M1117 1178h0M1416 974h0M1112 1325h0M1304 1218h0M1137 913h0" stroke="#d4ff50"/>
<path d="M1523 864h0M1351 1146h0M1536 936h0M1499 998h0M1347 1075h0M1022 1514h0M1310 858h0M1657 1070h0M1152 990h0M1375 1186h0M1392 935h0M1671 735h0M1641 942h0M1567 678h0M1600 734h0M1569 1148h0M1266 872h0M1630 711h0M1347 1031h0M1613 958h0M1539 802h0M1143 1178h0M1306 1037h0M1116 1005h0M1113 1248h0M1586 1054h0M1615 1044h0M1408 872h0M1225 1147h0M1269 1037h0M1296 1024h0M1343 1210h0M1590 1106h0M1054 1444h0M1489 1014h0M1274 811h0M1482 844h0M1468 898h0M1230 983h0M1040 1465h0M1149 858h0M1640 975h0M1333 1131h0M1344 1132h0M1577 803h0M1398 1146h0M1481 766h0M1360 974h0M1597 825h0M1353 1039h0M1397 1052h0M1566 992h0M1452 914h0M1367 1047h0M1511 1014h0M1382 1171h0M1485 1038h0M1398 989h0M1595 787h0M1632 1101h0M1442 942h0M1193 766h0M1627 1016h0M1526 809h0M1377 992h0M1384 888h0M1317 1069h0M1423 927h0M1666 1051h0M1302 936h0M1244 788h0M1591 732h0M1646 984h0M1599 1122h0M1464 1013h0M1493 1030h0M1621 882h0M1422 912h0M1560 708h0M1699 782h0M1516 797h0M1465 953h0M1343 865h0M1656 1051h0M1677 773h0M1405 1147h0M1557 789h0M1486 867h0M1600 1109h0M1151 841h0M1316 1036h0M1280 959h0M1620 852h0M1697 844h0M1384 919h0M1440 836h0M1188 1378h0M1140 904h0M1347 1015h0M1456 1014h0M1478 945h0M1597 1078h0M1281 864h0M1131 1511h0M1369 976h0M1299 1132h0M1354 1186h0M1360 867h0M1087 1573h0M1157 919h0M1492 766h0M1124 984h0M1616 856h0M1620 1006h0M1161 1004h0M1627 1106h0M1621 898h0M1253 914h0M1631 787h0M1447 1046h0M1380 1023h0M1119 1646h0M1440 803h0M1259 982h0M1513 1115h0M1448 813h0M1342 928h0M1104 1527h0M1494 992h0M1190 773h0M1180 866h0M1533 1004h0M1241 872h0M1744 719h0M1135 992h0M1182 1035h0M1697 872h0M1233 836h0M1510 795h0M1328 842h0M1656 743h0M1374 953h0M1474 1061h0M1424 1004h0M1588 1122h0M1275 1077h0M1158 810h0M1513 929h0M1726 811h0M1044 1614h0M1603 1086h0M1316 852h0M1550 1084h0M1308 1020h0M1643 875h0M1447 873h0M1590 998h0M1573 1028h0M1536 780h0M1182 1007h0M1650 742h0M1137 961h0M1272 1224h0M1405 944h0M1666 960h0M1401 936h0M1161 865h0M1094 1560h0M1659 960h0M1184 1109h0M1029 1444h0M1077 1590h0M1393 1063h0M1640 773h0M1050 1591h0M1299 1115h0M1571 1013h0M1458 913h0M1482 732h0M1377 865h0M1603 926h0M1323 1116h0M1235 866h0M1258 1108h0M1647 1069h0M1677 882h0M1324 1084h0M1262 786h0M1319 1109h0M1643 1138h0M1325 1161h0M1249 718h0M1167 966h0M1369 1053h0M1553 1029h0M1673 764h0M1706 779h0M1234 973h0M1710 833h0M1371 929h0M1169 982h0M1249 747h0M1393 967h0M1134 1379h0M1395 1037h0M1690 969h0M1314 1114h0M1578 1098h0M1467 1004h0M1153 976h0M1435 829h0M1684 897h0M1157 872h0M1370 1084h0M1314 899h0M1334 912h0M1718 796h0M1373 1201h0M1578 710h0M1475 968h0M1599 747h0M1670 982h0M1087 1623h0M1545 796h0M1410 1046h0M1658 973h0M1204 844h0M1560 727h0M1272 881h0M1392 1186h0M1645 920h0M1609 1140h0M1424 990h0M1722 819h0M1639 1039h0M1302 1076h0M1164 958h0M1692 899h0M1649 817h0M1318 967h0M1145 1630h0M1649 943h0M1596 742h0M1638 755h0M1354 919h0M1424 942h0M1578 741h0M1436 813h0M1024 1495h0M1190 990h0M1342 772h0M1533 929h0M1337 1124h0M1624 720h0M1179 849h0M1476 958h0M1286 1122h0M1322 842h0M1132 985h0M1325 974h0M1341 1038h0M1585 772h0M1571 1109h0M1254 836h0M1334 1006h0M1581 750h0M1452 1039h0M1634 1139h0M1354 935h0M1260 1036h0M1580 937h0M1635 841h0M1052 1449h0M1419 950h0M1567 866h0M1360 929h0M1368 849h0M1284 937h0M1135 1519h0M1491 999h0M1532 974h0M1477 928h0M1341 959h0M1081 1582h0M1422 1084h0M1023 1481h0M1247 938h0M1548 805h0M1405 974h0M1645 1107h0M1704 772h0M1335 1223h0M1244 944h0M1595 1114h0M1259 1012h0M1305 1145h0M1388 1036h0M1375 857h0M1384 998h0M1630 741h0M1424 836h0M1309 1077h0M1472 920h0M1697 857h0M1289 867h0M1680 858h0M1636 919h0M1238 935h0M1484 1107h0M1110 1644h0M1335 864h0M1189 977h0M1130 952h0M1329 950h0M1109 1519h0M1326 1226h0M1334 897h0M1383 829h0M1549 912h0M1565 732h0M1240 718h0M1114 1014h0" stroke="#80ffb4"/>
<path d="M1378 1132h0M1490 1077h0M1516 983h0M1260 930h0M1314 820h0M1053 1567h0M1208 912h0M1525 953h0M1527 1043h0M1365 1122h0M1502 1076h0M1523 1101h0M1500 966h0M1503 787h0M1274 875h0M1634 796h0M1177 983h0M1621 945h0M1189 817h0M1284 842h0M1292 843h0M1485 849h0M1581 1059h0M1047 1534h0M1272 928h0M1691 796h0M1400 857h0M1020 1599h0M1551 1006h0M1588 1028h0M1249 859h0M1150 873h0M1010 1584h0M1533 833h0M1594 1131h0M1586 1068h0M1586 930h0M1340 859h0M1186 950h0M1642 1014h0M1030 1544h0M1176 951h0M1524 898h0M1266 858h0M1299 802h0M1566 1070h0M1700 826h0M1503 897h0M1189 882h0M1392 841h0M1676 804h0M1619 997h0M1652 936h0M1499 982h0M1318 1184h0M1569 852h0M1430 873h0M1015 1527h0M1662 797h0M1066 1528h0M1180 943h0M1318 938h0M1485 883h0M1518 903h0M1423 895h0M1354 1093h0M1350 1163h0M1571 825h0M1326 820h0M1541 836h0M1060 1560h0M1491 919h0M1679 796h0M1494 1068h0M1511 1075h0M1341 852h0M1620 804h0M1166 874h0M1074 1566h0M1281 803h0M1019 1536h0M1422 883h0M1193 843h0M1373 1123h0M1537 1031h0M1220 968h0M1310 1170h0M1199 820h0M1663 764h0M1038 1550h0M1526 826h0M1697 796h0M1426 888h0M1422 865h0M1449 898h0M1512 836h0M1692 836h0M1239 905h0M1224 942h0M1381 1106h0M1314 1176h0M1468 788h0M1598 890h0M1524 961h0M1646 1059h0M1460 819h0M1217 819h0M1575 835h0M1331 889h0M1589 829h0M1682 812h0M1038 1537h0M1008 1535h0M1483 1061h0M1183 872h0M1492 903h0M1587 912h0M1334 1085h0M1514 1036h0M1187 920h0M1257 921h0M1003 1560h0M1542 817h0" stroke="#33ccff"/>
<path d="M1197 930h0M1205 920h0" stroke="#3f80ff"/>
<path d="M1470 1583h0M1312 1560h0M1621 587h0M1647 492h0M1558 382h0M1363 591h0M1338 500h0M1593 554h0M1320 610h0M1386 616h0M1390 625h0M1332 583h0M1300 1576h0M1753 514h0M1324 571h0M1288 571h0M1238 437h0M1566 508h0M1593 1412h0M1282 1576h0M1456 1636h0M1583 579h0M1374 452h0M1448 576h0M1742 594h0M1332 428h0M1566 539h0M1567 1521h0M1456 1560h0M1395 569h0M1283 330h0M1641 474h0M1462 1419h0M1335 477h0M1497 1692h0M1436 373h0M1293 391h0M1445 594h0M1605 460h0M1564 1529h0M1474 514h0M1600 470h0M1705 498h0M1361 1660h0M1418 1637h0M1726 501h0M1492 422h0M1486 350h0M1792 383h0M1447 1389h0M1452 352h0M1445 1683h0M1595 337h0M1306 1551h0M1721 460h0M1527 376h0M1278 537h0M1392 545h0M1519 484h0M1270 351h0M1737 446h0M1482 377h0M1630 491h0M1713 523h0M1762 406h0M1560 477h0M1701 506h0M1216 1600h0M1431 413h0M1487 554h0M1699 546h0M1307 1535h0M1425 1569h0M1654 470h0M1645 439h0M1387 319h0M1431 367h0M1688 454h0M1649 353h0M1627 514h0M1627 577h0M1423 1363h0M1671 513h0M1389 1474h0M1370 1661h0M1353 382h0M1391 312h0M1542 1644h0M1584 353h0M1519 1513h0M1563 1558h0M1733 516h0M1477 1536h0M1523 494h0M1492 1686h0M1542 427h0M1748 414h0M1396 1426h0M1695 493h0M1373 436h0M1544 530h0M1621 478h0M1401 529h0M1713 583h0M1565 1513h0M1432 1614h0M1436 1698h0M1251 1552h0M1536 423h0M1461 1631h0M1614 381h0M1452 493h0M1473 360h0M1449 1675h0M1381 452h0M1227 540h0M1346 561h0M1683 461h0M1594 521h0M1415 556h0M1294 421h0M1361 1690h0M1617 451h0M1584 336h0M1264 360h0M1517 545h0M1262 540h0M1739 584h0M1307 351h0M1698 484h0M1288 585h0M1289 353h0M1326 304h0M1476 382h0M1281 444h0M1533 1660h0M1269 445h0M1249 563h0M1418 626h0M1522 524h0M1426 373h0M1565 577h0M1580 374h0M1496 553h0M1394 579h0M1732 468h0M1369 431h0M1430 591h0M1283 296h0M1313 1512h0M1457 1542h0M1573 1467h0M1338 513h0M1411 484h0M1587 368h0M1232 1591h0M1275 1558h0M1532 524h0M1576 352h0M1253 490h0M1504 1568h0M1411 407h0M1630 383h0M1304 1622h0M1664 359h0M1760 454h0M1402 1592h0M1564 451h0M1300 562h0M1436 1638h0M1632 399h0M1240 546h0M1701 570h0M1485 1488h0M1406 553h0M1576 367h0M1553 529h0M1260 602h0M1311 591h0M1639 365h0M1338 1653h0M1637 421h0M1338 466h0M1539 1550h0M1722 400h0M1347 360h0M1550 366h0M1453 392h0M1510 1590h0M1406 447h0M1326 1663h0M1528 407h0M1798 389h0M1442 382h0M1591 466h0M1289 556h0M1494 1645h0M1593 478h0M1723 423h0M1560 1504h0M1707 391h0M1285 470h0M1387 1443h0M1429 1682h0M1551 475h0M1249 545h0M1559 569h0M1220 548h0M1494 1660h0M1327 529h0M1315 631h0M1287 444h0M1419 406h0M1635 486h0M1644 406h0M1470 444h0M1485 416h0M1739 492h0M1550 1583h0M1278 351h0M1416 1645h0M1371 539h0M1339 423h0M1349 1653h0M1536 560h0M1483 577h0M1689 359h0M1535 388h0M1245 429h0M1649 568h0M1345 608h0M1563 1496h0M1239 483h0M1479 1675h0M1533 350h0M1642 498h0M1339 438h0M1312 547h0M1577 1489h0M1362 1459h0M1581 1498h0M1562 1589h0M1477 570h0M1636 468h0M1505 584h0M1415 524h0M1297 367h0M1491 498h0M1351 304h0M1375 591h0M1419 329h0M1505 538h0M1322 1668h0M1584 491h0M1440 1569h0M1463 1683h0M1576 506h0M1503 571h0M1461 1677h0M1640 583h0M1671 406h0M1550 1491h0M1357 544h0M1290 319h0M1616 513h0M1752 531h0M1305 305h0M1355 500h0M1496 539h0M1230 451h0M1310 343h0M1519 500h0M1734 547h0M1257 373h0M1502 1482h0M1455 1608h0M1425 587h0M1444 469h0M1600 342h0M1695 569h0M1359 538h0M1755 460h0M1524 430h0M1339 483h0M1387 400h0M1245 444h0M1663 483h0M1438 405h0M1330 1607h0M1233 446h0M1584 1458h0M1757 507h0M1747 552h0M1428 404h0M1227 1569h0M1557 1444h0M1285 579h0M1406 367h0M1437 1686h0M1416 539h0M1755 554h0M1425 476h0M1241 423h0M1519 1574h0M1478 477h0M1469 1599h0M1463 420h0M1406 338h0M1373 638h0M1785 493h0M1332 599h0M1666 350h0M1450 1599h0M1475 329h0M1715 563h0M1460 1583h0M1575 1475h0M1592 1433h0M1800 398h0M1321 483h0M1571 453h0M1546 358h0M1402 656h0M1484 1605h0M1383 342h0M1469 382h0M1421 419h0M1502 423h0M1527 1559h0M1486 1662h0M1418 311h0M1662 451h0M1438 1669h0M1675 461h0M1289 600h0M1467 585h0M1615 499h0M1652 358h0M1741 375h0M1459 1536h0M1391 484h0M1436 1605h0M1298 304h0M1532 383h0M1391 1464h0M1541 461h0M1618 467h0M1278 414h0M1453 437h0M1394 327h0M1370 305h0M1518 1591h0M1417 640h0M1323 1675h0M1386 493h0M1711 367h0M1312 407h0M1456 1575h0M1265 532h0M1746 475h0M1439 343h0M1802 429h0M1442 319h0M1483 407h0M1375 297h0M1362 430h0M1665 524h0M1422 633h0M1621 381h0M1258 420h0M1778 377h0M1570 1560h0M1494 505h0M1344 462h0M1579 1451h0M1324 556h0M1436 421h0M1403 670h0M1406 600h0M1706 467h0M1514 1535h0M1473 1558h0M1614 444h0M1351 475h0M1503 1659h0M1250 499h0M1726 532h0M1542 475h0M1249 530h0M1728 554h0M1234 600h0M1268 1590h0M1548 1628h0M1456 579h0M1298 553h0M1686 428h0M1779 406h0M1344 615h0M1348 423h0M1549 1457h0M1701 492h0M1443 584h0M1400 406h0M1240 610h0M1544 1639h0M1499 1698h0M1219 1575h0M1550 507h0M1539 368h0M1496 1629h0M1317 1630h0M1276 516h0M1279 522h0M1295 329h0M1464 529h0M1402 499h0M1236 571h0M1324 462h0M1351 540h0M1575 461h0M1335 461h0M1434 398h0M1507 468h0M1463 436h0M1525 345h0M1560 428h0M1374 310h0M1264 499h0M1357 389h0M1555 499h0M1645 452h0M1505 1597h0M1452 1694h0M1303 436h0M1470 1693h0M1483 467h0M1796 375h0M1283 1592h0M1512 1629h0M1622 538h0M1366 391h0M1260 509h0M1470 1615h0M1229 515h0M1658 431h0M1532 413h0M1456 607h0M1380 367h0M1365 484h0M1373 610h0M1452 569h0M1477 1365h0M1331 439h0M1508 439h0M1333 552h0M1418 499h0M1359 334h0M1609 485h0M1479 1615h0M1658 585h0M1460 1690h0M1344 369h0M1431 583h0M1757 570h0M1713 538h0M1513 509h0M1357 296h0M1342 630h0M1307 1662h0M1521 1474h0M1775 381h0M1280 1569h0M1270 1567h0M1560 491h0M1587 459h0M1398 521h0M1771 529h0M1287 412h0M1733 421h0M1668 381h0M1347 577h0M1764 476h0M1456 532h0M1380 461h0M1483 1480h0M1714 376h0M1375 529h0M1272 1628h0M1395 649h0M1262 320h0M1625 423h0M1294 405h0M1774 412h0M1284 563h0M1678 390h0M1439 560h0M1558 352h0M1469 475h0M1492 1560h0M1407 618h0M1391 437h0M1491 342h0M1729 491h0M1508 1530h0M1545 1607h0M1356 484h0M1679 359h0M1551 1614h0M1517 1686h0M1312 532h0M1515 427h0M1503 492h0M1738 509h0M1761 422h0" stroke="#ff0000"/>
<path d="M1521 1441h0M1555 1388h0M1463 654h0M1221 1558h0M1470 1398h0M1342 1351h0M1419 1542h0M1328 1638h0M1613 600h0M1457 1529h0M1409 1342h0M1408 1452h0M1393 1558h0M1546 1293h0M1458 1364h0M1534 593h0M1251 1630h0M1345 655h0M1241 1638h0M1483 1341h0M1626 622h0M1167 1357h0M1405 1693h0M1408 764h0M1197 1054h0M1312 1278h0M1571 1389h0M1436 1512h0M1408 1434h0M1204 1561h0M1235 1612h0M1759 607h0M1410 1545h0M1645 610h0M1660 686h0M1340 673h0M1266 1544h0M1082 1474h0M1730 601h0M1343 1538h0M1353 1504h0M1383 670h0M1241 1371h0M1198 680h0M1393 1341h0M1649 618h0M1295 672h0M1293 685h0M1314 693h0M1516 591h0M1415 1553h0M1493 1277h0M1330 1652h0M1318 1527h0M1428 671h0M1224 1490h0M1301 1495h0M1621 1210h0M1452 630h0M1415 1659h0M1303 1606h0M1383 1683h0M1402 1684h0M1359 1506h0M1368 1332h0M1412 1466h0M1304 656h0M1180 1581h0M1553 593h0M1426 703h0M1368 1692h0M1337 1296h0M1372 1635h0M1371 1381h0M1386 1347h0M1472 654h0M1347 1372h0M1527 1296h0M1456 1451h0M1202 704h0M1420 1265h0M1188 1192h0M1707 594h0M1269 1551h0M1483 1248h0M1352 1660h0M1477 1692h0M1362 694h0M1499 608h0M1507 1296h0M1595 601h0M1585 1332h0M1359 1488h0M1338 685h0M1304 1436h0M1163 1364h0M1432 1410h0M1305 1442h0M1400 1529h0M1422 1427h0M1328 1623h0M1205 669h0M1216 1553h0M1392 1356h0M1341 1426h0M1521 618h0M1559 600h0M1609 609h0M1415 1474h0M1265 1389h0M1337 1498h0M1397 1629h0M1337 1420h0M1379 1428h0M1294 1435h0M1465 640h0M1743 653h0M1387 1568h0M1224 1242h0M1296 1565h0M1355 685h0M1606 1326h0M1239 625h0M1358 670h0M1532 1270h0M1344 1333h0M1198 693h0M1388 1551h0M1424 742h0M1405 1349h0M1440 1207h0M1728 632h0M1444 1420h0M1333 1628h0M1457 1358h0M1396 758h0M1470 1490h0M1416 693h0M1489 1326h0M1224 663h0M1622 618h0M1285 671h0M1472 1511h0M1303 670h0M1208 571h0M1472 1480h0M1418 687h0M1572 1418h0M1215 1584h0M1343 663h0M1480 1388h0M1256 654h0M1471 1326h0M1464 625h0M1517 1169h0M1407 1631h0M1478 1487h0M1271 1396h0M1355 702h0M1235 615h0M1237 1573h0M1459 1226h0M1252 631h0M1736 657h0M1364 1294h0M1285 640h0M1296 1521h0M1271 1520h0M1314 1475h0M1506 1380h0M1319 716h0M1742 640h0M1521 1178h0M1174 1342h0M1388 1490h0M1280 1475h0M1373 1529h0M1478 1456h0M1505 1225h0M1463 671h0M1463 1449h0M1531 1334h0M1329 1514h0M1483 1309h0M1630 569h0M1464 1496h0M1428 1543h0M1314 1567h0M1482 1296h0M1423 1584h0M1603 1397h0M1408 1324h0M1500 1373h0M1318 1467h0M1360 1646h0M1189 1568h0M1390 1527h0M1494 1318h0" stroke="#ff8c00"/>
<path d="M1514 1238h0M1145 1271h0M1555 1184h0M1318 1419h0M1533 662h0M1122 1155h0M1299 708h0M1240 1046h0M1262 1332h0M1620 1332h0M1239 1248h0M1229 671h0M1183 1169h0M1598 1389h0M1112 1107h0M1387 1382h0M1157 1263h0M1658 696h0M1668 618h0M1194 1311h0M1283 1183h0M1210 1468h0M1251 1363h0M1284 1402h0M1551 616h0M1375 794h0M1284 1433h0M1240 685h0M1460 1271h0M1137 1350h0M1217 1224h0M1299 1380h0M1328 657h0M1179 1597h0M1550 1210h0M1298 1364h0M1358 1606h0M1348 1624h0M1130 1356h0M1481 687h0M1441 757h0M1305 1255h0M1548 1394h0M1536 1199h0M1128 1116h0M1288 1239h0M1474 1249h0M1529 672h0M1563 1281h0M1572 1326h0M1312 1234h0M1443 1225h0M1274 1309h0M1392 766h0M1518 1294h0M1751 639h0M1287 1347h0M1249 1511h0M1234 1647h0M1753 657h0M1263 1660h0M1257 1185h0M1461 1301h0M1226 648h0M1204 1342h0M1184 1294h0M1590 1387h0M1072 1240h0M1171 741h0M1350 1613h0M1238 640h0M1199 1317h0M1316 1302h0M1521 634h0M1251 1473h0M1494 1426h0M1618 625h0M1091 1129h0M1324 727h0M1064 1411h0M1231 1466h0M1177 1434h0M1446 671h0M1171 1598h0M1524 1223h0M1263 1443h0M1137 1426h0M1181 1288h0M1461 1210h0M1266 1514h0M1308 1239h0M1181 1272h0M1202 1544h0M1177 734h0M1600 1374h0M1351 1413h0M1376 765h0M1506 1426h0M1673 922h0M1667 693h0M1292 1296h0M1211 1343h0M1185 1466h0M1178 1622h0M1616 657h0M1263 1536h0M1279 1411h0M1197 1413h0M1529 1263h0M1645 656h0M1109 1238h0M1636 654h0M1702 615h0M1446 1265h0M1324 1270h0M1261 709h0M1188 1613h0M1116 1426h0M1454 749h0M1230 685h0M1625 639h0M1241 1203h0M1143 1303h0M1256 1637h0M1109 1427h0M1096 1107h0M1602 1363h0M1569 1210h0M1231 1403h0M1322 1327h0M1200 1506h0M1348 1418h0M1577 1319h0M1117 1441h0M1473 1263h0M1529 1435h0M1281 1426h0M1446 766h0M1425 1208h0M1302 1308h0M1508 624h0M1251 664h0M1167 1418h0M1474 625h0M1144 1489h0M1159 1029h0M1513 1707h0M1270 1303h0M1238 1218h0M1418 1466h0M1463 1265h0M1433 1257h0M1554 1309h0M1350 1629h0M1229 1654h0M1391 1293h0M1654 685h0M1182 1632h0M1537 1312h0M1231 1262h0M1382 1294h0M1435 1312h0M1531 1442h0M1176 1514h0M1458 647h0M1343 1411h0M1348 1278h0M1368 743h0M1262 1319h0M1458 755h0M1317 678h0M1149 1028h0M1443 681h0M1161 1520h0M1492 1215h0M1564 1294h0M1490 1170h0M1180 1162h0M1413 1317h0M1237 1356h0M1134 1286h0M1236 664h0M1163 1335h0M1391 1280h0M1630 664h0M1401 1233h0M1610 640h0M1562 1215h0M1166 1324h0M1482 703h0M1456 1293h0M1517 1203h0M1203 1591h0M1273 1481h0M1709 747h0M1424 789h0M1198 664h0M1269 693h0M1519 1355h0M1224 1519h0M1252 1521h0M1048 1373h0M1492 1264h0M1369 680h0M1275 687h0M1316 743h0M1253 1224h0M1235 647h0M1402 703h0M1450 770h0M1235 1257h0M1553 1326h0M1508 673h0M1164 1347h0M1439 1327h0M1699 672h0M1203 1451h0M1456 1155h0M1676 662h0M1585 1271h0M1613 1270h0M1603 1304h0M1145 1363h0M1110 1444h0M1325 662h0M1240 1652h0M1308 1348h0M1301 1232h0M1349 1450h0M1330 1324h0M1209 1239h0M1257 1295h0M1244 1210h0M1207 1350h0M1713 600h0M1695 617h0M1620 1194h0M1187 1216h0M1581 1325h0M1379 1351h0M1230 1232h0M1086 1155h0M1239 1511h0M1651 639h0M1200 1629h0M1594 1241h0M1190 1301h0M1457 1281h0M1293 1325h0M1763 641h0M1195 1372h0M1257 1169h0M1609 1231h0M1275 1530h0M1369 1552h0M1323 1397h0M1508 1435h0M1263 1257h0M1676 603h0M1202 1231h0M1594 1381h0M1438 1187h0M1260 1488h0M1103 1355h0M1332 1395h0M1628 657h0M1483 640h0M1132 1109h0M1363 749h0M1529 1186h0M1557 1160h0M1332 712h0M1190 1505h0M1315 1239h0M1375 1262h0M1170 1552h0M1508 1183h0M1526 1341h0M1188 1176h0M1692 631h0M1058 1480h0M1342 1629h0M1157 1498h0M1339 718h0M1664 608h0M1521 662h0M1499 1421h0M1517 1153h0M1432 1241h0M1186 704h0M1369 1503h0M1226 1441h0M1649 695h0M1428 1405h0M1325 1351h0M1163 1460h0M1220 1373h0M1377 1598h0M1443 1270h0M1180 1195h0M1346 1606h0M1334 662h0M1079 1247h0M1038 1397h0M1395 680h0M1248 1155h0M1192 1544h0M1539 1332h0" stroke="#ffdd00"/>
<path d="M1098 1457h0M1168 1467h0M1587 1225h0M1207 1021h0M1717 684h0M1339 766h0M1191 1286h0M1161 1085h0M1242 1304h0M1696 766h0M1059 1389h0M1165 1230h0M1484 1031h0M1206 1083h0M1594 631h0M1055 1381h0M1555 1138h0M1108 1410h0M1146 1115h0M1087 1294h0M1070 1417h0M1256 890h0M1218 1646h0M1381 1216h0M1445 1183h0M1539 758h0M1459 1163h0M1341 724h0M1391 1169h0M1751 688h0M1157 1234h0M1737 708h0M1251 1349h0M1164 1256h0M1232 1186h0M1243 1085h0M1050 1512h0M1662 1091h0M1537 750h0M1465 1108h0M1202 1031h0M1121 1059h0M1572 1216h0M1069 1327h0M1126 1536h0M1426 1170h0M1271 1350h0M1631 866h0M1136 1054h0M1575 692h0M1397 1101h0M1206 1628h0M1248 1090h0M1078 1450h0M1139 1608h0M1451 727h0M1279 739h0M1617 1184h0M1227 1209h0M1083 1319h0M1045 1379h0M1267 1670h0M1653 953h0M1426 826h0M1445 968h0M1450 709h0M1547 716h0M1416 1285h0M1107 1054h0M1248 1046h0M1590 1246h0M1222 1012h0M1092 1413h0M1578 989h0M1535 984h0M1171 1475h0M1379 1008h0M1381 1077h0M1485 692h0M1112 1452h0M1372 873h0M1226 709h0M1427 1122h0M1339 1045h0M1269 1192h0M1045 1475h0M1453 1078h0M1293 750h0M1108 1177h0M1558 1129h0M1103 1544h0M1203 1014h0M1592 950h0M1269 975h0M1690 765h0M1083 1613h0M1143 927h0M1512 710h0M1254 976h0M1221 1137h0M1282 967h0M1221 1293h0M1239 1172h0M1692 929h0M1373 903h0M1473 751h0M1437 1031h0M1478 1163h0M1314 789h0M1335 1147h0M1333 771h0M1571 1248h0M1331 779h0M1450 1083h0M1143 1083h0M1129 1403h0M1191 1101h0M1132 1481h0M1279 1318h0M1157 1340h0M1144 1475h0M1624 704h0M1061 1417h0M1395 1005h0M1181 1536h0M1129 1296h0M1569 1035h0M1528 1232h0M1543 1216h0M1215 711h0M1579 673h0M1105 1077h0M1139 936h0M1262 961h0M1619 1248h0M1333 759h0M1113 1342h0M1571 656h0M1138 1636h0M1220 1061h0M1225 1333h0M1416 928h0M1227 1086h0M1563 1091h0M1400 812h0M1553 967h0M1618 1279h0M1473 1031h0M1654 1107h0M1156 1248h0M1469 1146h0M1661 1122h0M1091 1441h0M1470 1131h0M1644 1028h0M1583 764h0M1133 1265h0M1483 1203h0M1566 740h0M1533 647h0M1311 887h0M1170 1020h0M1195 1265h0M1076 1295h0M1475 1045h0M1346 1247h0M1478 726h0M1416 803h0M1658 1038h0M1365 1264h0M1073 1505h0M1411 1155h0M1461 726h0M1458 1098h0M1446 844h0M1399 1091h0M1594 1163h0M1448 1077h0M1253 1005h0M1353 789h0M1616 750h0M1433 943h0M1180 1115h0M1652 719h0M1090 1195h0M1087 1590h0M1648 1101h0M1578 1178h0M1082 1505h0M1634 872h0M1135 1131h0M1141 1078h0M1123 1590h0M1524 725h0M1096 1373h0M1167 1092h0M1033 1420h0M1511 688h0M1738 742h0M1629 771h0M1146 1552h0M1121 1324h0M1363 938h0M1199 1145h0M1349 1060h0M1294 1279h0M1114 1168h0M1422 1176h0M1172 803h0M1240 856h0M1435 1046h0M1351 755h0M1272 773h0M1139 1372h0M1211 1249h0M1423 1147h0M1340 1155h0M1229 1280h0M1739 678h0M1410 981h0M1240 1122h0M1090 1147h0M1201 1621h0M1216 1334h0M1548 756h0M1254 758h0M1553 1215h0M1191 1257h0M1150 1559h0M1083 1488h0M1253 1068h0M1176 1060h0M1410 1202h0M1101 1348h0M1446 951h0M1089 1207h0M1501 719h0M1036 1599h0M1658 867h0M1235 1020h0M1096 1465h0M1711 694h0M1480 1122h0M1629 679h0M1174 750h0M1406 1192h0M1124 1605h0M1363 1247h0M1072 1411h0M1608 1156h0M1368 881h0M1276 998h0M1433 1178h0M1342 1239h0M1274 1169h0M1392 1092h0M1053 1474h0M1312 763h0M1226 1116h0M1665 912h0M1100 1409h0M1136 1614h0M1098 1429h0M1065 1254h0M1088 1187h0M1143 914h0M1058 1499h0M1248 796h0M1607 1201h0M1208 1271h0M1328 1152h0M1096 1248h0M1101 1163h0M1167 1620h0M1428 1075h0M1155 1163h0M1456 1125h0M1485 711h0M1214 1325h0M1267 763h0M1626 904h0M1672 1031h0M1294 1014h0M1320 1246h0M1648 866h0M1340 999h0M1255 764h0M1599 656h0M1061 1310h0M1135 1177h0M1315 1005h0M1699 749h0M1144 1600h0M1442 852h0M1213 1077h0M1512 758h0M1244 1037h0M1138 1543h0M1505 695h0M1211 1137h0M1071 1380h0M1564 1030h0M1528 750h0M1418 1093h0M1161 1241h0M1319 1030h0M1338 1185h0M1521 1131h0M1066 1247h0M1125 1474h0M1198 1070h0M1612 1161h0M1108 1380h0M1378 1242h0M1255 795h0M1225 772h0M1659 726h0M1120 1202h0M1646 888h0M1237 1059h0M1261 1069h0M1064 1364h0M1256 780h0M1505 709h0M1596 945h0M1342 974h0M1275 717h0M1354 1029h0M1266 984h0M1536 733h0M1523 646h0M1166 812h0M1478 1037h0M1224 1428h0M1289 1038h0M1200 1100h0M1130 1575h0M1072 1491h0M1144 1317h0M1117 1288h0M1235 1427h0M1418 842h0M1096 1434h0M1461 709h0M1285 997h0M1449 1101h0M1296 1053h0M1578 1272h0M1298 896h0M1541 1225h0M1257 1123h0M1530 1225h0M1272 992h0M1452 850h0M1408 967h0M1624 968h0M1320 1137h0M1161 1644h0M1244 1145h0M1230 764h0M1101 1256h0M1100 1271h0M1262 896h0" stroke="#d4ff50"/>
<path d="M1551 773h0M1467 851h0M1515 881h0M1434 865h0M1194 810h0M1639 988h0M1226 1161h0M998 1589h0M1261 1021h0M1367 921h0M1026 1473h0M1539 1038h0M1504 927h0M1601 906h0M1302 794h0M1458 1023h0M1533 1083h0M1242 1023h0M1105 1497h0M1252 1021h0M1408 950h0M1244 836h0M1301 905h0M1507 888h0M1315 1194h0M1603 1069h0M1393 1123h0M1541 771h0M1280 945h0M1689 873h0M1499 934h0M1626 857h0M1537 903h0M1347 1203h0M1211 1170h0M1632 849h0M1086 1545h0M1589 1186h0M1392 1030h0M1385 841h0M1575 1084h0M1555 702h0M1339 905h0M1161 943h0M1236 820h0M1309 950h0M1062 1585h0M1302 1061h0M1413 912h0M1538 891h0M1630 1036h0M1127 1005h0M1351 1114h0M1258 1030h0M1624 918h0M1652 1060h0M1076 1543h0M1666 975h0M1396 1068h0M1531 1052h0M1059 1621h0M1026 1457h0M1388 1021h0M1130 1621h0M1571 763h0M1372 844h0M1393 1044h0M1421 856h0M1163 991h0M1307 836h0M1175 781h0M1076 1202h0M1537 1043h0M1385 1061h0M1555 984h0M1618 1014h0M1128 989h0M1325 1146h0M1333 1038h0M1446 795h0M1679 952h0M1157 951h0M1159 887h0M1126 1020h0M1261 804h0M1294 1046h0M1252 957h0M1163 896h0M1379 1225h0M1376 812h0M1333 1023h0M1275 828h0M1611 912h0M1632 926h0M1701 787h0M1186 856h0M1685 755h0M1098 1319h0M1509 1045h0M1395 914h0M1306 1195h0M1221 796h0M1328 1044h0M1484 997h0M1433 914h0M1550 710h0M1441 930h0M1314 943h0M1442 911h0M1303 1029h0M1491 751h0M1604 913h0M1454 827h0M1601 935h0M1412 856h0M1442 868h0M1637 1076h0M1159 1575h0M1230 844h0M1622 914h0M1328 856h0M1139 1016h0M1144 992h0M1567 804h0M1379 1100h0M1532 865h0M1295 935h0M1395 896h0M1650 992h0M1642 966h0M1102 1623h0M1314 1131h0M1204 810h0M1090 1583h0M1451 820h0M1692 787h0M1236 1163h0M1653 998h0M1154 865h0M1444 857h0M1482 1012h0M1404 802h0M1301 1091h0M1249 953h0M1315 880h0M1604 834h0M1285 953h0M1559 695h0M1378 1037h0M1263 866h0M1173 881h0M1318 857h0M1719 834h0M1151 1185h0M1303 919h0M1221 904h0M1302 1139h0M1478 975h0M1689 844h0M1203 779h0M1571 733h0M1074 1209h0M1036 1503h0M1293 1137h0M1555 1078h0M1457 936h0M1665 758h0M1225 1005h0M1056 1366h0M1434 928h0M1281 1054h0M1337 922h0M1166 781h0M1369 1008h0M1351 867h0M1380 787h0M1317 1022h0M1377 1179h0M1401 1187h0M1548 930h0M1476 834h0M1303 1170h0M1118 1630h0M1414 849h0M1294 1093h0M1558 898h0M1474 765h0M1567 786h0M1269 1129h0M1050 1357h0M1474 1013h0M1382 905h0M1377 1207h0M1566 726h0M1494 740h0M1539 896h0M1310 1044h0M1290 1099h0M1583 1075h0M1579 1013h0M1256 950h0M1642 1045h0M1154 1581h0M1168 843h0M1434 805h0M1192 984h0M1678 935h0M1598 1029h0M1582 1122h0M1274 904h0M1461 989h0M1289 881h0M1370 1223h0M1437 1076h0M1281 1067h0M1357 1124h0M1212 856h0M1547 1000h0M1388 865h0M1234 1006h0M1556 937h0M1517 875h0M1359 1146h0M1370 991h0M1458 943h0M1580 872h0M1339 1027h0M1375 922h0M1305 1130h0M1218 1113h0M1650 1023h0M1539 788h0M1524 1069h0M1298 943h0M1648 773h0M1358 1170h0M1051 1575h0M1576 897h0M1287 1145h0M1663 750h0M1305 1084h0M1065 1460h0M1423 850h0M1268 1014h0M1694 852h0M1302 1046h0M1329 903h0M1591 1014h0M1229 905h0M1298 866h0M1330 1187h0M1342 1070h0M1450 942h0M1334 834h0M1357 1200h0M1557 1039h0M1166 904h0M1082 1536h0M1334 1177h0M1353 911h0M1622 724h0M1344 1179h0M1266 828h0M1195 780h0M1511 719h0M1581 812h0M1524 786h0M1328 1234h0M1406 868h0M1158 1077h0M1143 1144h0M1245 958h0M1287 1069h0M1587 1116h0M1634 997h0M1302 858h0M1364 827h0M1144 1008h0M1611 1146h0M1671 812h0M1047 1582h0M1567 943h0M1121 1637h0M1266 1107h0M1089 1631h0M1178 859h0M1638 1146h0M1308 990h0M1607 1061h0M1645 813h0M1407 836h0M1488 1100h0M1055 1506h0M1476 865h0M1592 903h0M1057 1452h0M1249 890h0M1562 1015h0M1275 842h0M1415 991h0M1271 897h0M1571 890h0M1666 864h0M1287 1130h0M1693 880h0M1544 905h0M1574 749h0M1063 1599h0M1226 835h0M1452 1022h0M1150 905h0M1472 937h0M1626 1000h0M1632 725h0M1606 1093h0M1323 849h0M1194 996h0M1038 1457h0M1163 820h0M1651 732h0M1558 991h0M1162 911h0M1531 882h0M1600 984h0M1508 874h0M1094 1171h0M1356 1077h0M1269 805h0" stroke="#80ffb4"/>
<path d="M1008 1550h0M1602 804h0M1499 827h0M1373 968h0M1338 952h0M1331 936h0M1459 880h0M1059 1340h0M1388 833h0M1564 825h0M1216 912h0M1202 982h0M1688 826h0M1604 1038h0M1505 942h0M1684 802h0M1527 1077h0M1520 1030h0M1593 836h0M1565 1062h0M1558 914h0M1481 859h0M1193 919h0M1298 1162h0M1558 835h0M1518 1015h0M1229 873h0M1513 958h0M1537 1013h0M1506 1115h0M1132 999h0M1473 795h0M1605 1052h0M1236 914h0M1565 842h0M1614 930h0M1290 817h0M1481 937h0M1026 1630h0M1617 935h0M1657 787h0M1504 912h0M1387 881h0M1207 992h0M1698 812h0M1331 1107h0M1026 1537h0M1015 1545h0M1437 889h0M1488 960h0M1436 873h0M1625 797h0M1190 911h0M1640 1055h0M1502 903h0M1018 1569h0M1518 952h0M1024 1605h0M1387 1131h0M1616 1093h0M1296 820h0M1630 1070h0M1352 1179h0M1335 1101h0M1622 1020h0M1193 891h0M1496 788h0M1305 819h0M1491 967h0M1494 1023h0M1489 826h0M1569 1052h0M1706 903h0M1366 1154h0M1229 938h0M1366 1171h0M1346 951h0M1665 772h0M1006 1575h0M1224 820h0M1333 849h0M1015 1622h0M1472 826h0M1509 1059h0M1361 1100h0M1663 812h0M1359 1114h0M1407 913h0M1473 811h0M1507 982h0M1215 945h0M1220 922h0M1674 866h0M1015 1558h0M1661 780h0M1406 882h0M1199 990h0M1507 906h0M1294 797h0M1468 804h0M1040 1560h0M1669 778h0M1523 945h0M1010 1567h0M1201 825h0M1203 968h0M1224 914h0M1600 1045h0M1483 903h0M1682 829h0M1517 1060h0M1203 890h0M1577 851h0M1012 1512h0M1622 1115h0M1627 1124h0M1403 906h0M1544 1062h0M1693 803h0M1289 804h0M1286 810h0M1558 1068h0M1175 937h0M1501 919h0M1554 858h0M1525 904h0M1321 1076h0" stroke="#33ccff"/>
<path d="M1796 422h0M1486 381h0M1467 321h0M1392 406h0M1768 405h0M1226 1585h0M1776 461h0M1577 1538h0M1384 532h0M1442 571h0M1575 412h0M1674 369h0M1328 578h0M1575 445h0M1432 555h0M1761 594h0M1696 373h0M1522 1569h0M1771 513h0M1706 579h0M1627 358h0M1590 547h0M1589 514h0M1497 1676h0M1326 599h0M1481 515h0M1358 314h0M1410 435h0M1511 1482h0M1513 1552h0M1618 391h0M1265 592h0M1386 352h0M1457 420h0M1468 367h0M1779 485h0M1466 1606h0M1533 539h0M1439 329h0M1631 555h0M1301 607h0M1439 593h0M1373 470h0M1380 599h0M1656 524h0M1461 601h0M1323 633h0M1495 461h0M1508 1542h0M1337 607h0M1589 359h0M1662 407h0M1740 521h0M1503 1520h0M1514 1647h0M1484 1592h0M1442 1583h0M1263 304h0M1459 1614h0M1351 414h0M1644 389h0M1481 1496h0M1424 322h0M1593 461h0M1645 529h0M1482 529h0M1806 375h0M1490 1653h0M1305 490h0M1344 601h0M1773 553h0M1500 407h0M1582 1436h0M1428 1608h0M1719 569h0M1226 585h0M1409 563h0M1443 1645h0M1584 429h0M1685 507h0M1307 615h0M1370 586h0M1750 455h0M1361 382h0M1675 507h0M1276 500h0M1354 439h0M1384 438h0M1231 532h0M1367 468h0M1499 344h0M1467 539h0M1678 483h0M1771 466h0M1331 327h0M1494 1535h0M1745 560h0M1463 1388h0M1726 404h0M1537 517h0M1677 522h0M1445 1355h0M1220 609h0M1551 1444h0M1252 584h0M1552 406h0M1519 530h0M1318 624h0M1284 452h0M1771 576h0M1803 446h0M1306 477h0M1678 421h0M1589 453h0M1653 514h0M1524 365h0M1307 631h0M1556 485h0M1614 365h0M1488 1631h0M1463 592h0M1423 412h0M1256 530h0M1723 516h0M1499 1654h0M1810 413h0M1475 1418h0M1766 383h0M1665 446h0M1689 500h0M1748 507h0M1750 423h0M1635 407h0M1561 515h0M1328 468h0M1550 1537h0M1395 601h0M1654 406h0M1332 337h0M1703 399h0M1448 1577h0M1555 564h0M1327 485h0M1509 593h0M1346 592h0M1412 470h0M1526 1373h0M1545 1668h0M1277 297h0M1505 334h0M1704 429h0M1331 1496h0M1458 477h0M1496 383h0M1292 1575h0M1428 1357h0M1424 571h0M1767 416h0M1246 516h0M1369 461h0M1654 422h0M1481 1279h0M1271 290h0M1741 532h0M1306 554h0M1587 1443h0M1249 389h0M1480 1669h0M1243 556h0M1559 446h0M1297 618h0M1400 1449h0M1321 452h0M1400 312h0M1333 569h0M1658 366h0M1299 569h0M1487 602h0M1437 1529h0M1537 326h0M1413 1677h0M1403 1638h0M1292 313h0M1328 626h0M1746 571h0M1252 382h0M1648 430h0M1447 514h0M1541 1615h0M1563 437h0M1469 1678h0M1663 532h0M1279 1584h0M1761 435h0M1414 306h0M1441 553h0M1356 468h0M1389 476h0M1376 483h0M1550 521h0M1706 358h0M1748 585h0M1496 1600h0M1765 462h0M1770 454h0M1535 373h0M1299 647h0M1607 470h0M1404 351h0M1473 1608h0M1707 454h0M1275 358h0M1303 547h0M1416 429h0M1695 585h0M1541 1488h0M1535 439h0M1315 509h0M1280 289h0M1576 335h0M1486 367h0M1443 415h0M1384 579h0M1270 400h0M1578 585h0M1593 1443h0M1782 445h0M1656 447h0M1647 509h0M1346 498h0M1767 444h0M1451 320h0M1592 408h0M1499 485h0M1315 290h0M1245 384h0M1287 1597h0M1459 586h0M1750 375h0M1309 451h0M1695 506h0M1467 1522h0M1435 530h0M1441 365h0M1636 360h0M1217 522h0M1710 507h0M1422 351h0M1760 469h0M1278 505h0M1569 1427h0M1269 1613h0M1304 575h0M1508 1605h0M1357 656h0M1668 429h0M1508 1358h0M1417 452h0M1281 570h0M1573 1405h0M1467 1550h0M1596 353h0M1778 514h0M1628 438h0M1572 1436h0M1749 429h0M1361 647h0M1787 498h0M1266 610h0M1499 390h0M1362 443h0M1321 389h0M1275 530h0M1413 319h0M1723 467h0M1376 1448h0M1370 368h0M1341 382h0M1268 296h0M1590 1466h0M1527 514h0M1254 335h0M1372 655h0M1395 413h0M1408 361h0M1505 1677h0M1262 476h0M1285 499h0M1279 586h0M1366 313h0M1583 1483h0M1285 484h0M1429 1637h0M1476 524h0M1625 531h0M1520 390h0M1514 1582h0M1300 1543h0M1294 1589h0M1219 1592h0M1560 506h0M1538 1514h0M1256 327h0M1302 422h0M1769 483h0M1254 322h0M1373 375h0M1557 585h0M1780 454h0M1453 1418h0M1365 624h0M1655 485h0M1486 1646h0M1294 500h0M1542 1675h0M1734 453h0M1442 444h0M1238 469h0M1447 1590h0M1398 477h0M1290 1584h0M1271 1600h0M1488 1614h0M1596 571h0M1695 539h0M1435 1590h0M1465 405h0M1546 468h0M1344 506h0M1610 420h0M1764 505h0M1257 607h0M1434 337h0M1766 429h0M1260 397h0M1554 343h0M1715 531h0M1379 352h0M1243 475h0M1213 563h0M1463 1699h0M1735 531h0M1530 1644h0M1710 445h0M1386 509h0M1279 1598h0M1443 476h0M1476 1660h0M1268 328h0M1642 359h0M1371 493h0M1555 423h0M1542 381h0M1374 423h0M1486 319h0M1388 334h0M1395 319h0M1403 623h0M1639 506h0M1387 306h0M1709 375h0M1263 367h0M1657 478h0M1560 521h0M1503 601h0M1593 381h0M1300 358h0M1572 1513h0M1612 491h0M1277 483h0M1631 476h0M1436 1356h0M1571 562h0M1739 383h0M1540 568h0M1812 382h0M1365 439h0M1653 437h0M1505 477h0M1428 1700h0M1552 1514h0M1376 498h0M1524 1629h0M1447 329h0M1360 414h0M1366 342h0M1503 552h0M1540 538h0M1564 420h0M1438 548h0M1244 524h0M1605 540h0M1415 476h0M1549 443h0M1295 546h0M1461 443h0M1710 414h0M1334 353h0M1450 553h0M1547 326h0M1634 389h0M1506 1364h0M1270 569h0M1532 431h0M1411 1511h0M1503 367h0M1661 547h0M1730 569h0M1252 1584h0M1621 351h0M1361 352h0M1288 303h0M1456 311h0M1414 663h0M1336 532h0M1515 400h0M1495 444h0M1534 500h0M1598 1405h0M1719 428h0M1407 537h0M1613 585h0M1533 367h0M1542 1566h0M1310 610h0M1461 1413h0M1713 555h0M1299 632h0M1507 1701h0M1665 416h0M1703 475h0M1549 1647h0M1402 1418h0M1575 490h0M1401 436h0M1428 1575h0M1330 609h0M1436 1544h0M1459 336h0M1495 336h0M1552 1654h0M1632 352h0M1491 562h0M1620 444h0M1742 421h0M1294 483h0M1374 344h0M1335 1550h0M1350 444h0M1320 297h0M1547 547h0M1755 537h0M1312 1620h0M1635 501h0M1358 625h0M1464 1651h0M1771 376h0M1216 554h0M1546 1558h0M1516 1561h0M1353 321h0M1318 436h0M1338 592h0M1582 435h0M1366 451h0M1703 585h0M1652 374h0M1744 388h0M1460 1565h0M1279 601h0M1328 376h0M1494 399h0M1533 474h0M1294 592h0M1532 506h0M1678 547h0M1543 483h0M1474 391h0M1602 508h0M1623 462h0M1465 1373h0M1712 571h0M1298 335h0M1517 560h0M1719 584h0M1257 343h0" stroke="#ff0000"/>
<path d="M1339 1372h0M1493 1357h0M1211 669h0M1334 1582h0M1317 1550h0M1593 1334h0M1474 1278h0M1647 1194h0M1409 1483h0M1263 1426h0M1507 610h0M1335 741h0M1483 1217h0M1349 686h0M1491 1374h0M1642 1183h0M1419 1654h0M1350 1349h0M1362 742h0M1289 677h0M1532 1364h0M1318 1450h0M1435 1419h0M1397 1554h0M1601 1324h0M1475 1435h0M1488 1333h0M1350 1458h0M1423 1332h0M1360 1380h0M1295 654h0M1511 1716h0M1436 748h0M1561 609h0M1195 1559h0M1298 1663h0M1238 655h0M1452 1550h0M1436 1279h0M1474 1340h0M1334 1566h0M1502 1280h0M1737 631h0M1468 618h0M1558 1427h0M1499 1311h0M1554 1418h0M1363 1498h0M1446 1700h0M1431 1630h0M1498 1405h0M1424 1441h0M1360 679h0M1414 1348h0M1506 1457h0M1612 617h0M1414 649h0M1309 1574h0M1316 1396h0M1184 1574h0M1334 1364h0M1494 1411h0M1258 640h0M1451 1426h0M1530 1629h0M1109 1131h0M1239 1529h0M1700 592h0M1531 1691h0M1534 1373h0M1487 1457h0M1227 1614h0M1271 1487h0M1504 1409h0M1386 1458h0M1503 1396h0M1377 1676h0M1218 1351h0M1351 727h0M1769 610h0M1535 1388h0M1317 1597h0M1406 1364h0M1335 1600h0M1411 1573h0M1542 1410h0M1297 696h0M1208 617h0M1420 1355h0M1347 1590h0M1490 610h0M1312 1388h0M1744 608h0M1283 1527h0M1339 1574h0M1422 680h0M1388 1411h0M1347 1514h0M1368 1678h0M1476 1379h0M1108 1098h0M1541 1256h0M1361 1521h0M1385 1387h0M1472 639h0M1502 1217h0M1476 1226h0M1341 678h0M1499 1356h0M1351 1301h0M1521 1410h0M1657 680h0M1475 1403h0M1769 592h0M1414 742h0M1607 1373h0M1241 1557h0M1245 617h0M1365 1468h0M1600 610h0M1499 1450h0M1299 1677h0M1245 1598h0M1404 1674h0M1448 654h0M1274 1403h0M1290 648h0M1451 1347h0M1501 1294h0M1695 601h0M1403 1358h0M1207 1583h0M1285 1341h0M1229 626h0M1402 1670h0M1482 608h0M1332 1319h0M1338 1561h0M1382 1514h0M1411 716h0M1219 1545h0M1326 679h0M1569 1411h0M1288 1519h0M1248 1636h0M1497 1394h0M1211 626h0M1492 1387h0M1325 1616h0M1514 1332h0M1427 1513h0M1639 632h0M1469 679h0M1233 1504h0M1445 1511h0M1273 1638h0M1335 1519h0M1317 1643h0M1445 1295h0M1581 593h0M1333 1429h0M1551 1270h0M1377 677h0M1481 656h0M1308 1286h0M1511 1452h0M1723 639h0M1494 1380h0M1364 1639h0M1474 1451h0M1452 1520h0M1520 1698h0M1113 1090h0M1612 1318h0M1427 1265h0M1441 1444h0M1483 1325h0M1366 1624h0M1615 639h0M1280 647h0M1477 1442h0M1387 1335h0M1285 655h0M1372 1683h0M1477 1504h0M1426 1279h0M1537 1464h0M1366 671h0M1276 1542h0M1230 1573h0M1376 1312h0M1530 1394h0M1490 1343h0M1312 1293h0M1455 1465h0M1481 1373h0M1495 1286h0M1614 1208h0M1521 1286h0M1204 623h0M1438 671h0M1545 1419h0M1476 1411h0M1519 578h0M1195 1436h0M1737 648h0M1604 1333h0M1416 1615h0M1375 1669h0M1340 1544h0M1237 1608h0M1243 1441h0M1328 1591h0M1408 1530h0M1473 1497h0M1209 1599h0M1166 1185h0M1395 1597h0M1644 564h0M1358 1449h0M1377 1692h0M1342 694h0M1255 1451h0M1399 1514h0M1527 1310h0M1499 1388h0M1383 1530h0M1531 1411h0M1281 696h0M1382 1560h0M1248 1436h0M1387 1690h0M1415 772h0M1214 1604h0M1640 1177h0" stroke="#ff8c00"/>
<path d="M1618 1339h0M1203 1515h0M1166 1342h0M1217 664h0M1230 1373h0M1387 1583h0M1194 733h0M1649 710h0M1581 1311h0M1605 1285h0M1388 694h0M1651 671h0M1352 1582h0M1353 1380h0M1353 1316h0M1114 1077h0M1360 755h0M1213 1373h0M1524 1706h0M1377 1332h0M1454 1185h0M1326 709h0M1449 694h0M1251 1257h0M1176 1590h0M1389 727h0M1524 1426h0M1365 701h0M1366 1545h0M1232 1623h0M1405 741h0M1217 1522h0M1679 657h0M1179 1304h0M1574 670h0M1670 654h0M1346 1434h0M1695 649h0M1385 1373h0M1512 678h0M1564 1265h0M1294 1340h0M1168 1589h0M1296 1242h0M1598 1249h0M1368 1304h0M1142 1265h0M1558 617h0M1366 1280h0M1287 1287h0M1513 663h0M1551 1351h0M1565 625h0M1398 1583h0M1243 662h0M1247 1264h0M1479 693h0M1125 1130h0M1356 749h0M1341 1519h0M1700 609h0M1577 1162h0M1166 1296h0M1136 1490h0M1296 1350h0M1147 1295h0M1193 641h0M1504 1193h0M1430 1296h0M1540 1193h0M1223 1421h0M1352 692h0M1138 1418h0M1640 679h0M1418 766h0M1112 1263h0M1544 1312h0M1684 646h0M1324 1366h0M1207 1300h0M1316 1413h0M1225 1303h0M1222 1312h0M1405 726h0M1426 731h0M1263 1351h0M1659 618h0M1672 639h0M1755 616h0M1614 1287h0M1661 671h0M1240 1667h0M1280 1365h0M1272 1334h0M1212 748h0M1748 663h0M1322 747h0M1390 1576h0M1293 1652h0M1540 631h0M1491 638h0M1302 1264h0M1451 757h0M1607 1341h0M1265 1419h0M1532 1147h0M1234 1535h0M1693 710h0M1427 1311h0M1452 662h0M1431 1475h0M1484 670h0M1524 1694h0M1564 1324h0M1307 1394h0M1473 1168h0M1438 1247h0M1200 1615h0M1483 1265h0M1319 1339h0M1747 631h0M1319 686h0M1252 646h0M1288 1426h0M1327 673h0M1632 1207h0M1494 1208h0M1725 686h0M1231 1418h0M1355 1528h0M1236 1474h0M1491 1186h0M1141 1294h0M1237 1402h0M1242 1428h0M1134 1597h0M1109 1116h0M1270 1161h0M1506 1163h0M1208 1536h0M1082 1238h0M1321 701h0M1455 1264h0M1191 1051h0M1253 1506h0M1418 1294h0M1231 1250h0M1178 1280h0M1375 1622h0M1151 1496h0M1128 1411h0M1233 1631h0M1161 1410h0M1366 1589h0M1169 1202h0M1175 1356h0M1358 1421h0M1632 694h0M1289 1304h0M1266 1374h0M1611 1302h0M1509 656h0M1171 1317h0M1300 1468h0M1177 1498h0M1447 997h0M1555 1281h0M1274 1296h0M1142 1468h0M1614 1238h0M1372 718h0M1176 1418h0M1527 1246h0M1454 1203h0M1514 1255h0M1336 1310h0M1365 1434h0M1222 656h0M1180 1443h0M1266 1355h0M1632 649h0M1211 1357h0M1409 1281h0M1324 1303h0M1123 1451h0M1191 1022h0M1139 1106h0M1681 717h0M1526 622h0M1161 1442h0M1202 1327h0M1691 670h0M1208 1192h0M1162 1286h0M1292 1263h0M1328 747h0M1417 1311h0M1208 1521h0M1479 1425h0M1226 1629h0M1485 1146h0M1122 1077h0M1235 1207h0M1452 1148h0M1715 626h0M1488 1160h0M1082 1410h0M1607 1281h0M1216 1472h0M1207 1288h0M1535 1698h0M1593 1363h0M1328 1418h0M1402 1278h0M1405 1379h0M1178 1311h0M1604 1222h0M1542 617h0M1265 1264h0M1236 1459h0M1276 1451h0M1445 1201h0M1245 1379h0M1275 1669h0M1536 1295h0M1386 1597h0M1508 1171h0M1557 1208h0M1603 1255h0M1218 1366h0M1204 1372h0M1575 1348h0M1506 614h0M1207 1410h0M1247 670h0M1212 1029h0M1256 720h0M1288 771h0M1637 671h0M1715 703h0M1531 1428h0M1614 633h0M1634 641h0M1297 1411h0M1399 1311h0M1571 1264h0M1206 1615h0M1144 1255h0M1256 1667h0M1581 1293h0M1357 1434h0M1170 1444h0M1253 1317h0M1249 1388h0M1192 1342h0M1594 1208h0M1285 1389h0M1214 1498h0M1146 1223h0M1388 1364h0M1550 1176h0M1046 1411h0M1523 680h0M1310 1418h0M1154 1271h0M1091 1427h0M1428 1199h0M1468 1208h0M1410 1248h0M1686 1006h0M1690 607h0M1374 1607h0M1440 1474h0M1360 1409h0M1657 664h0M1713 740h0M1475 1093h0M1595 1273h0M1190 663h0M1488 615h0M1280 1255h0M1257 1480h0M1473 703h0M1121 1121h0M1428 1233h0M1200 1598h0M1530 632h0M1491 622h0M1199 632h0M1316 1348h0M1274 1388h0M1531 1194h0M1441 740h0M1167 1217h0M1450 679h0M1223 687h0M1183 1622h0M1374 1371h0M1234 1398h0M1440 1194h0M1189 1459h0" stroke="#ffdd00"/>
<path d="M1617 966h0M1231 1138h0M1540 1144h0M1490 716h0M1265 1061h0M1178 1389h0M1502 656h0M1407 1131h0M1614 788h0M1359 942h0M1605 1177h0M1221 1047h0M1247 1172h0M1667 724h0M1229 1091h0M1141 1028h0M1591 623h0M1580 686h0M1086 1449h0M1179 1054h0M1614 1193h0M1589 1092h0M1205 1280h0M1131 1389h0M1243 1272h0M1591 716h0M1089 1257h0M1463 748h0M1422 1069h0M1152 1522h0M1201 1185h0M1411 1184h0M1114 1605h0M1603 1148h0M1086 1171h0M1582 657h0M1561 764h0M1149 1546h0M1092 1161h0M1239 1108h0M1289 786h0M1185 1155h0M1575 633h0M1755 663h0M1354 779h0M1098 1178h0M1164 1209h0M1323 1241h0M1126 1583h0M1177 1233h0M1248 1030h0M1152 1085h0M1356 1247h0M1183 1249h0M1311 1060h0M1280 772h0M1161 928h0M1612 679h0M1222 1186h0M1125 1489h0M1696 732h0M1260 883h0M1123 1045h0M1093 1308h0M1577 649h0M1362 1238h0M1118 1380h0M1255 1215h0M1224 1270h0M1467 757h0M1551 977h0M1537 999h0M1312 1107h0M1467 1086h0M1267 718h0M1271 1504h0M1625 983h0M1120 1232h0M1268 1137h0M1496 1177h0M1134 1395h0M1209 790h0M1578 975h0M1536 704h0M1218 1208h0M1765 631h0M1275 702h0M1427 1154h0M1592 638h0M1440 1113h0M1632 895h0M1098 1208h0M1571 1090h0M1735 732h0M1103 1592h0M1163 1301h0M1654 1124h0M1189 1660h0M1084 1201h0M1331 1012h0M1259 1059h0M1668 1039h0M1453 794h0M1167 891h0M1601 1187h0M1448 1093h0M1288 757h0M1655 966h0M1182 1255h0M1233 696h0M1302 1277h0M1413 1020h0M1469 1023h0M1134 1270h0M1145 1054h0M1600 779h0M1433 958h0M1258 1326h0M1278 1271h0M1371 1239h0M1392 1215h0M1487 741h0M1459 1006h0M1065 1425h0M1078 1327h0M1337 1263h0M1343 788h0M1329 794h0M1654 874h0M1275 983h0M1320 764h0M1668 1020h0M1329 997h0M1393 982h0M1248 1296h0M1456 1000h0M1537 669h0M1531 992h0M1621 786h0M1589 1215h0M1509 702h0M1308 1223h0M1656 911h0M1226 1659h0M1049 1482h0M1405 1036h0M1653 859h0M1598 720h0M1091 1286h0M1695 665h0M1605 631h0M1103 1405h0M1125 1178h0M1133 1090h0M1052 1386h0M1438 966h0M1225 1643h0M1110 1488h0M1117 1318h0M1217 1441h0M1222 750h0M1652 843h0M1709 719h0M1446 1109h0M1126 1238h0M1299 1224h0M1098 1395h0M1214 1262h0M1144 1164h0M1202 1403h0M1180 1146h0M1246 984h0M1629 759h0M1185 1325h0M1586 1191h0M1083 1224h0M1345 1046h0M1295 1215h0M1661 857h0M1586 1207h0M1124 1529h0M1207 1007h0M1337 966h0M1104 1468h0M1457 966h0M1544 686h0M1457 1059h0M1453 703h0M1262 1114h0M1716 841h0M1094 1199h0M1188 1646h0M1581 780h0M1055 1427h0M1082 1444h0M1128 1286h0M1472 953h0M1105 1200h0M1136 1332h0M1175 1371h0M1127 1147h0M1245 881h0M1402 827h0M1460 1114h0M1419 1030h0M1100 1365h0M1375 1216h0M1233 1116h0M1092 1365h0M1168 1386h0M1090 1177h0M1101 1538h0M1463 857h0M1465 1076h0M1067 1483h0M1154 1224h0M1233 1303h0M1647 1145h0M1162 1566h0M1241 1000h0M1114 1499h0M1160 1152h0M1361 881h0M1364 1060h0M1143 1582h0M1564 654h0M1305 1208h0M1692 677h0M1571 1185h0M1461 1069h0M1185 1092h0M1273 1249h0M1159 1402h0M1485 756h0M1125 1397h0M1644 826h0M1571 968h0M1406 1085h0M1571 953h0M1141 1403h0M1240 763h0M1208 1053h0M1349 764h0M1171 1426h0M1229 1201h0M1171 1629h0M1142 1137h0M1477 757h0M1408 1169h0M1456 778h0M1264 1311h0M1288 743h0M1365 887h0M1377 692h0M1736 704h0M1244 991h0M1148 1231h0M1724 716h0M1171 1239h0M1665 898h0M1441 991h0M1192 719h0M1238 1326h0M1680 920h0M1635 701h0M1230 1326h0M1218 1269h0M1190 1394h0M1442 1179h0M1263 1224h0M1323 755h0M1149 1326h0M1382 1202h0M1231 1014h0M1403 1137h0M1478 1023h0M1600 640h0M1158 1324h0M1197 711h0M1239 1184h0M1235 1069h0M1162 1394h0M1452 1055h0M1155 1645h0M1376 1077h0M1563 951h0M1170 818h0M1213 1015h0M1585 647h0M1460 1131h0M1386 945h0M1101 1084h0M1465 965h0M1538 685h0M1245 1334h0M1292 999h0M1179 1491h0M1424 805h0M1159 1653h0M1241 1296h0M1107 1567h0M1579 1153h0M1728 724h0M1285 1217h0M1288 1006h0M1638 899h0M1200 789h0M1388 1240h0M1623 1254h0M1081 1334h0M1568 694h0M1490 735h0M1110 1317h0M1132 1059h0M1212 1233h0M1207 1209h0M1168 1109h0M1149 1605h0M1289 1163h0M1479 1145h0M1135 1145h0M1523 709h0M1256 1201h0M1308 1054h0M1346 998h0M1378 914h0M1541 1239h0M1267 1091h0M1360 851h0M1465 716h0M1660 983h0M1181 1382h0M1168 1482h0M1269 1270h0M1063 1504h0M1579 1232h0M1105 1155h0M1673 1075h0M1622 958h0M1153 929h0M1406 1178h0M1212 1124h0M1561 669h0M1576 664h0M1675 1036h0M1200 756h0M1344 1146h0M1171 1381h0M1173 1131h0M1092 1333h0M1215 1662h0M1575 882h0M1465 1061h0M1101 1503h0M1107 1193h0M1572 1155h0M1629 836h0M1247 782h0M1187 669h0M1233 727h0M1153 912h0M1171 1038h0M1668 929h0M1463 764h0M1081 1364h0M1329 1059h0M1054 1412h0M1128 1366h0M1069 1496h0M1107 1207h0M1065 1317h0M1568 630h0M1677 927h0M1148 1512h0" stroke="#d4ff50"/>
<path d="M1254 895h0M1181 820h0M1252 1037h0M1363 859h0M1627 1092h0M1091 1521h0M1355 903h0M1630 1146h0M1438 922h0M1648 929h0M1296 975h0M1267 1123h0M1249 828h0M1215 1163h0M1465 922h0M1482 953h0M1409 827h0M1347 1121h0M1470 1115h0M1566 1022h0M1050 1606h0M1211 1108h0M1341 1193h0M1044 1631h0M1207 850h0M1661 936h0M1291 1169h0M1729 773h0M1100 1597h0M1184 969h0M1270 1116h0M1292 1183h0M1177 763h0M1078 1529h0M1395 942h0M1620 992h0M1708 873h0M1442 1022h0M1158 907h0M1726 794h0M1188 787h0M1069 1620h0M1257 828h0M1281 881h0M1140 985h0M1152 1536h0M1682 780h0M1294 967h0M1041 1606h0M1304 952h0M1098 1585h0M1059 1324h0M1299 992h0M1608 937h0M1527 875h0M1239 1140h0M1353 1208h0M1198 852h0M1572 703h0M1254 991h0M1450 1130h0M1535 920h0M1569 758h0M1301 983h0M1308 943h0M1296 1084h0M1278 1082h0M1139 953h0M1247 968h0M1287 927h0M1227 804h0M1710 802h0M1068 1607h0M1635 888h0M1397 805h0M1050 1464h0M1375 1092h0M1095 1324h0M1158 1386h0M1269 944h0M1349 1153h0M1173 773h0M1407 1052h0M1230 856h0M1267 903h0M1546 1077h0M1686 850h0M1550 1022h0M1381 950h0M1711 788h0M1551 864h0M1527 983h0M1596 821h0M1565 1046h0M1657 943h0M1388 1191h0M1575 1115h0M1298 1195h0M1690 920h0M1653 827h0M1460 833h0M1581 859h0M1495 1099h0M1067 1466h0M1323 802h0M1054 1349h0M1215 1146h0M1161 1614h0M1385 1044h0M1558 1085h0M1436 844h0M1661 968h0M1234 880h0M1317 975h0M1272 1066h0M1593 802h0M1555 999h0M1267 1046h0M1533 789h0M1576 1038h0M1327 828h0M1334 1195h0M1609 906h0M1588 1060h0M1373 1232h0M1609 1076h0M1329 1124h0M1033 1592h0M1297 911h0M1267 949h0M1495 898h0M1499 748h0M1524 803h0M1558 773h0M1725 825h0M1346 872h0M1229 826h0M1221 857h0M1358 841h0M1171 897h0M1699 921h0M1639 1100h0M1122 1514h0M1275 936h0M1688 890h0M1453 888h0M1369 945h0M1571 935h0M1554 719h0M1541 865h0M1167 936h0M1589 748h0M1688 747h0M1424 1020h0M1466 780h0M1318 922h0M1563 782h0M1153 849h0M1513 788h0M1501 1092h0M1296 787h0M1235 989h0M1503 741h0M1245 1005h0M1470 881h0M1368 896h0M1378 1194h0M1527 936h0M1469 943h0M1173 1008h0M1541 1082h0M1379 1163h0M1647 1082h0M1618 844h0M1072 1583h0M1273 1062h0M1249 811h0M1679 905h0M1255 967h0M1612 743h0M1355 1046h0M1706 765h0M1596 929h0M1126 1520h0M1128 1505h0M1573 996h0M1608 873h0M1432 820h0M1454 812h0M1401 921h0M1386 1102h0M1368 1145h0M1406 929h0M1463 874h0M1169 828h0M1411 922h0M1547 889h0M1668 833h0M1471 857h0M1557 977h0M1382 1015h0M1324 1129h0M1445 905h0M1676 741h0M1701 914h0M1517 1122h0M1672 857h0M1668 1007h0M1215 802h0M1566 1101h0M1482 981h0M1320 1124h0M1368 817h0M1528 763h0M1205 1652h0M1566 1114h0M1154 957h0M1459 1053h0M1105 1575h0M1180 774h0M1320 1093h0M1683 773h0M1248 907h0M1389 897h0M1216 1176h0M1447 935h0M1314 1101h0M1165 922h0M1479 1067h0M1398 836h0M1586 943h0M1618 734h0M1264 810h0M1493 1091h0M1566 708h0M1607 982h0M1538 794h0M1587 895h0M1598 796h0M1033 1514h0M1347 903h0M1216 1005h0M1301 875h0M1036 1582h0M1324 864h0M1553 796h0M1672 890h0M1270 836h0M1609 826h0M1456 1045h0M1040 1591h0M1549 898h0M1521 883h0M1254 821h0M1403 1030h0M1528 1109h0M1173 834h0M1295 983h0M1374 1045h0M1327 1030h0M1283 1140h0M1547 953h0M1569 929h0M1381 1155h0M1055 1584h0M1497 866h0M1541 911h0M1641 1129h0M1233 1179h0M1555 888h0M1290 914h0M1357 794h0M1325 959h0M1410 999h0M1517 732h0M1129 937h0M1542 1098h0M1532 959h0M1346 1107h0M1421 828h0M1375 1061h0M1275 1217h0M1356 811h0M1280 1037h0M1576 929h0M1535 952h0M1342 820h0M1503 1006h0M1677 957h0M1562 937h0M1644 732h0M1602 898h0M1317 930h0M1607 951h0M1506 1101h0M1540 1117h0M1401 1123h0M1648 1131h0M1365 1076h0M1252 1333h0M1299 1039h0M1330 919h0M1360 1192h0M1306 866h0" stroke="#80ffb4"/>
<path d="M1338 1108h0M1196 827h0M1549 836h0M1582 844h0M1614 1083h0M1220 812h0M1398 849h0M1189 851h0M1633 1109h0M1613 805h0M1702 805h0M1362 960h0M1664 951h0M1706 828h0M1020 1616h0M1485 1068h0M1533 851h0M1010 1615h0M1368 1162h0M1194 872h0M1355 967h0M1051 1325h0M1232 922h0M1565 891h0M1601 843h0M999 1613h0M1187 827h0M1267 797h0M1575 911h0M1392 890h0M1512 1083h0M1209 946h0M1346 1091h0M1519 827h0M1622 1098h0M1034 1559h0M1051 1560h0M1418 890h0M1213 950h0M1281 821h0M1488 804h0M1516 1107h0M1504 805h0M1169 997h0M1217 961h0M1586 833h0M1356 1107h0M1345 841h0M1281 836h0M1501 1062h0M1492 952h0M1269 852h0M1527 1093h0M1019 1553h0M1519 812h0M1499 797h0M1002 1567h0M1666 789h0M1563 856h0M1206 960h0M1462 937h0M1460 788h0M1221 981h0M1481 920h0M1352 1085h0M1402 889h0M1052 1527h0M1335 944h0M1610 1106h0M1210 967h0M1004 1622h0M1267 922h0M1374 1155h0M1299 1146h0M1614 1101h0M1206 974h0M1650 1007h0M1582 826h0M1179 787h0M1359 821h0M1274 857h0M1361 1161h0M1478 771h0M1508 827h0M1342 1114h0M1222 952h0M1621 1038h0M1591 844h0M1382 1122h0M1496 803h0M1474 778h0M1222 888h0M1058 1544h0M1553 1061h0M1530 896h0M1513 867h0M1490 1060h0M1486 913h0M1582 1029h0M1220 937h0M1504 1086h0M1017 1520h0M1153 1629h0M1479 897h0M1178 826h0M1233 944h0M1368 1131h0M1484 812h0M1544 843h0M1283 827h0M1371 1177h0M1094 1621h0M1203 906h0M1569 818h0M1064 1521h0M1342 942h0M1616 920h0M1572 812h0M1475 872h0M1508 937h0M1066 1559h0M1181 930h0M1072 1630h0M1050 1543h0M1551 850h0M1575 864h0M1656 1006h0M1546 812h0M1602 1023h0M1514 974h0M1485 943h0M1556 907h0M1560 817h0M1413 880h0M1625 937h0M1322 1168h0" stroke="#33ccff"/>
<path d="M1194 936h0M1191 930h0" stroke="#3f80ff"/></g>
<polyline points="1155,1110 1175,1125 1220,1135 1225,1150" fill="none" stroke="#111" stroke-width="1.8" stroke-linejoin="round" stroke-linecap="round" />
<polyline points="1132,1160 1125,1200 1130,1230 1110,1245 1112.5,1265 1100,1285 1080,1315 1050,1340 1035,1340 1027.5,1380 1032.5,1395 1005,1400 1000,1430 987.5,1437.5 992.5,1465 1020,1487.5 1032.5,1507.5 1032.5,1525 995,1532.5 985,1550 980,1570 962.5,1575 960,1600 950,1620 925,1640 900,1650 880,1670 850,1685 835,1705 800,1715 770,1740 745,1745 735,1775 725,1803" fill="none" stroke="#111" stroke-width="1.8" stroke-linejoin="round" stroke-linecap="round" />
<polyline points="2249.6,1637.8 2202.6,1649.6 2179,1657.4 2177.1,1677 2169.2,1704.5 2116.3,1731.9 2065.4,1755.4 2049.7,1779 1990.9,1779 1971.3,1790.7 1975.2,1801.3" fill="none" stroke="#111" stroke-width="1.8" stroke-linejoin="round" stroke-linecap="round" />
<polyline points="1867.2,851 1875.6,884.5 1881.9,917.9 1873.5,951.4 1884,972.3 1909.1,982.7 1950.9,988.2 1980.1,986.9 1986.4,959.8 1971.8,934.7 1971.8,922.1 1992.7,909.6 2034.5,903.3 2047,888.7 2042.9,855.2 2063.8,838.5 2072.1,813.4 2093,794.6 2118.1,792.5 2147.4,791.7 2172.5,794.6 2193.4,811.3 2208,826 2210.9,846.9 2226.8,851 2233.1,867.8 2235.2,892.9 2251.9,917.9 2268.6,943 2277,972.3 2297.9,989 2323,1001.6 2329.3,1030.8 2343.9,1047.6 2364.8,1064.3 2385.7,1093.5 2406.6,1114.5 2419.2,1114.5 2435.9,1089.4 2452.6,1074.7 2469.3,1074.7 2481.9,1085.2 2479.8,1127 2471.4,1168.8 2461,1193.9 2456.8,1228.2 2450,1250 2430,1290 2420,1330 2405,1365 2410,1400 2395,1430 2380,1457.5 2350,1470 2320,1490 2315,1510 2300,1550 2275,1575 2265,1610 2267.5,1637.5 2300,1650 2310,1661 2281,1630 2308.4,1649.6 2304.5,1673.1 2300.6,1708.4 2308.4,1735.8 2316.2,1751.5 2343.7,1771.1 2363.3,1786.8 2371.1,1801.3" fill="none" stroke="#000" stroke-width="3.2" stroke-linejoin="round" stroke-linecap="round" />
<polyline points="2560,205.5 2540,230 2522.5,244 2475,265 2415,279 2375,279 2330,261 2305,262.5 2290,255 2261,252 2220,262.5 2205,290 2192.5,302.5 2170,315 2142.5,317.5 2117.5,331 2098,345 2078,370 2063,395 2028,427.5 2023,450 1998,470 1988,500 1978,540 1968,585 1948,635 1938,690 1920.5,750 1918,790 1888,830 1867,851" fill="none" stroke="#000" stroke-width="3.2" stroke-linejoin="round" stroke-linecap="round" />
<polyline points="2417,205 2447,209 2465,205" fill="none" stroke="#000" stroke-width="3.2" stroke-linejoin="round" stroke-linecap="round" />
<polyline points="178.3,1604.3 185.7,1597.1 194.5,1598.5 198.8,1596.3 210.8,1596.9 220.1,1598.7 229.4,1604.6 236.3,1601.3 243.8,1594.4 248.3,1589.4 255,1576.9 266.6,1576 266.5,1565.8 277.9,1562.4 284.6,1557.1 294.7,1547.6 292.9,1547 298.9,1536.5 306.4,1525.4 314.1,1537.2 317.3,1543.5 327.3,1545.4 334.8,1550.2 340.1,1553.9 346.3,1562 350.7,1563.2 358.3,1566.4 365.3,1567.6 372,1572.5 372.3,1576.8 380.1,1583.1 382.8,1585.1 392.9,1591.5 400.5,1599.2 398.9,1608.1 407.7,1616.8 409.5,1612.9 418.1,1607 418,1591.7 419.8,1584 431.7,1580.4 433.9,1583.6 446.9,1594 447.8,1598.3 454.3,1605.2 459.4,1610.6 463.5,1615.7 472.3,1617.5 477.2,1625.1 481.9,1628.2 487.3,1620.6 492.2,1611.5 496.4,1603.3 493.1,1591.7 500.1,1587.3 496,1580.3 498.3,1574.4 500.1,1565 505.9,1563.5 512.7,1561.5 523.4,1551.6 519.6,1551.4 533.6,1537.8 528.2,1531.3 533.7,1521.4 539.2,1516.2 542.9,1508.1 547.1,1498.1 549.3,1487.9 552.5,1477.5 546.8,1476.5 545.7,1466.5 543.6,1459.1 542.6,1453.4 544.4,1442.4 546.2,1436.2 542.7,1428 541.1,1423.6 536.4,1410.4 536,1402.5 544.5,1394.5 536.1,1383 546.5,1383.1 556.8,1381.3 558.7,1379.7 561.1,1370.2 562.4,1360.4 555.7,1354.3 555,1342.4 554.5,1340.4 551.1,1330.4 549.8,1328.8 555.7,1312.5 553.9,1307.7 554.1,1300.4 565.2,1297.7 577.1,1284 571.8,1279.8 570.8,1277 566.2,1267.7 569.6,1266.9 563.9,1255.8 565.4,1247.4 564.7,1244.1 568.5,1231.8 574.9,1223.6 576.3,1216.3 579.7,1207.4 591.5,1207 592.6,1198.5 593.5,1190.8 594.3,1179.7 598.5,1172.6 602.2,1168.6 612.5,1163.4 625.8,1163.4 630.4,1163.1 638.4,1173.1 646.9,1171.7 657.2,1162.5 667.7,1159.6 669.2,1149 674,1143.7 673.3,1143 682.6,1139 689.3,1134.9 697.2,1130.9 704.8,1129 708.1,1127.7 719.3,1129.5 724.8,1133.9 731.1,1132.7 745.1,1129.5 755.1,1129.9 763.6,1130.5 767,1135.7 769.6,1144.3 781,1139.6 791.9,1144.9 791.1,1141.4 801.9,1134 804.4,1142.3 808,1148.5 817.9,1149.8 821.9,1154.5 835.6,1152.2 844.1,1159.2 850.3,1165.6 853.3,1171.5 863.9,1174.3 863.7,1179.7 871.4,1184.7 880.3,1191.9 889.8,1196.7 894,1202.9 899.3,1208.2 908.6,1203.2 919.2,1204.7 925.3,1203.3 933,1204.7 944.8,1198.6 950.5,1194.2 959.5,1187.7 968,1188.3 978.9,1189.6 992.5,1186.3 1001,1182.1 1009.7,1184.9 1017.7,1188.5 1020,1185.6 1029.9,1184.7 1036.8,1180.7 1047.4,1181.5 1055,1176 1061.5,1177.2 1070.5,1169.1 1080.3,1171.3 1087.2,1166.7 1093.9,1162.2 1100.2,1160.5 1107.3,1160.9 1112,1154.7 1121.6,1153.5 1131,1144.2 1132.4,1138.7 1138,1123.6 1138.7,1123.7 1143.4,1111.6 1154,1109.9 1160.6,1108.9 1171.4,1111 1180.3,1109.9 1180.3,1099.4 1184,1094.5 1187.5,1082.5 1189.7,1078 1193.2,1070.5 1198.2,1062.2 1204.2,1061.2 1204.5,1055.8 1206,1046.4 1210.7,1045.4 1206.2,1034.4 1209.9,1026.2 1203.9,1020.6 1189.7,1021.8 1185.6,1016.8 1179.7,1014.9 1178.3,1006.1 1172.5,1003.1 1164.3,998 1162.2,991.4 1161.4,981.5 1161,973.1 1157.4,967.5 1157.3,957.6 1155.1,951.3 1148.1,941.6 1147,935.3 1140.6,924.9 1143.8,918 1149.4,914.7 1150.9,904.6 1144.1,897.4 1143.1,895.4 1139.2,883.6 1132.4,877.3 1125.7,872 1122.9,870.6 1117.7,863.7 1113.6,857 1105.4,854.5 1093.1,849.6 1087.3,840.6 1080,833.6 1081.8,823.5 1081.3,814.3 1082.4,811.1 1082.7,802.5 1091.4,799.5 1097.5,801.1 1108,805.4 1119.3,808.9 1123.7,816.5 1127.1,815.8 1130.6,821.9 1141.6,826.1 1145.4,828.6 1152.1,830.5 1157.3,841.1 1161.6,847.3 1169.4,841.6 1177.7,847.9 1186.2,848.5 1197.8,848.6 1201.9,847.7 1216.7,847.2 1218.2,852.1 1228.8,855.6 1235.6,855.2 1243.1,861.3 1244.5,865.9 1261.4,865 1264.8,873.9 1269.7,870.6 1278.5,872.1 1288.4,873 1298.6,867.3 1307.6,874.1 1317.3,872.2 1323,872.2 1327.1,876.7 1335.3,882.5 1342.8,882.6 1348.3,892.7 1353,893 1361.3,895.2 1371.8,898.6 1378.1,893.4 1382.9,890.5 1389.7,888.6 1402,885.4 1406.8,880.2 1408.9,875.2 1410.9,858.4 1420.5,865 1430.3,861.1 1438.1,853.2 1441.5,857.3 1452.7,863.2 1462,864.3 1470.1,866.9 1474,870.6 1481,864 1488.2,871.5 1491.2,871.7 1505.6,869.4 1511.4,871.5 1521.8,875.3 1530.1,863.4 1533.6,862.8 1545.9,856.5 1548.7,854.1 1551,842.3 1550.9,834.9 1561.8,825.9 1560,818.9 1563.3,817 1560,806.6 1559.6,796 1566.8,791.7 1567.3,783.5 1571.1,781 1577.3,779.3 1587.1,766.2 1587.3,763.7 1585.1,750.3 1592.6,740.5 1598.2,738 1609.5,735.3 1616.9,735.8 1624.1,736.4 1630.4,730.3 1636.1,729.4 1646.8,734.8 1655,728.7 1659,726.3 1667.1,723.8 1672.3,720.8 1685.2,714 1690,711 1698.4,710.9 1700.9,714 1717,715.2 1720.6,721.5 1718.3,729.4 1727.1,731.8 1733.9,742.3 1735.2,750.2 1738.6,756.4 1745.9,761.2 1753.1,768.3 1763.6,773.2 1767.4,772.7 1777.3,771.5 1779.4,783.5 1789,787.2 1794.8,788.7 1801.4,787 1806.8,791.3 1816.8,793.6 1816.9,793.9 1830.2,802.3 1836.7,803.1 1837.9,816.9 1845.6,823.7 1858.1,824.8 1860.1,828.6 1865.5,833.1 1867.5,842.9 1867,851" fill="none" stroke="#000" stroke-width="3.4" stroke-linejoin="round" stroke-linecap="round" />
<polyline points="177.9,1601.3 184.1,1594.6 196.5,1600 199.3,1596.7 210.6,1595 222.2,1596.8 230.3,1603.3 238.3,1599.8 244.9,1593.7 250.3,1588 256.9,1577.9 264.5,1574.7 270.3,1571.7 282.9,1559.7 280.4,1553.4 291.9,1550.3 296.1,1544.1 298,1535.6 307.1,1530.9 311.3,1536.1 320.5,1549 325.8,1545.1 333.8,1552.1 339.5,1557.9 340.9,1562.5 352.3,1561.9 357,1570.2 363.5,1572.2 375.2,1573.1 374.4,1575.8 381.4,1582.1 384.6,1587.3 393.9,1590.2 396.6,1592.1 405.1,1607.7 408.3,1617.5 409.6,1612.3 417.3,1602.2 416.8,1598.9 420.8,1585.9 429.4,1578.5 439.5,1586 443.3,1592.2 447.2,1598.8 455.8,1602.3 460.6,1608.5 464.1,1614.4 469.5,1622.6 476.5,1623.5 483.5,1625.7 485.3,1618.2 493.4,1612 495.2,1607.9 495.7,1594 500.4,1585.2 499.6,1577.9 499.5,1568.2 502,1564.7 505.4,1566.2 516.7,1560.1 518.4,1554.9 524.6,1551.6 529.8,1538.5 529.8,1528.8 532.5,1521.2 539.8,1516.5 546.7,1505.7 548.7,1499 554.6,1489.9 553.6,1477.9 547.4,1473.8 545,1467.4 539.1,1461.5 541.1,1456.3 543.1,1447.4 541.3,1438.4 543,1428.9 542.1,1419.3 539.6,1411.6 542.2,1402.3 539.5,1393.2 537.1,1377.8 546.7,1381.1 551.9,1382.9 561.5,1380.5 559,1370.7 563.3,1358.1 561.7,1353.6 551.9,1345.3 550.3,1340 551.8,1327.6 549.9,1322.7 553.2,1318.4 557.3,1306.9 558.8,1295.5 566.9,1296.9 574.6,1288.4 572.9,1287.6 568.8,1274.2 568.2,1265.9 566.7,1261.2 568.3,1253.1 569.8,1248.2 563.7,1235.7 569.9,1235.3 574,1225.1 576.4,1219.1 580.8,1210.6 590.3,1210.1 596.3,1195.5 599.2,1190.8 593.9,1175.8 601.4,1175 603.7,1163.6 617.5,1163.7 624,1168.8 635.9,1169.6 636.5,1173.9 645,1170.2 657.1,1162.2 664,1161.2 668.9,1152.9 671.9,1143.1 673.9,1137.8 682.6,1140 689.7,1136.4 694.1,1131.5 701.6,1127.3 714.1,1129.4 716.7,1128.3 726.5,1129.3 736,1132.2 744.2,1130.2 753.9,1127.1 758.2,1130.4 766.8,1134.4 775.2,1140.9 784.3,1140.7 791.6,1143.5 798.2,1141.2 797,1136.7 806.8,1135.3 808.4,1146.5 813.3,1148.9 822.9,1156.1 838.2,1155.8 842.9,1160 850.2,1165.6 852.4,1165.8 858.3,1176.7 868.5,1181.3 873.6,1184.4 883.4,1195.5 885.5,1196.6 891.1,1204.1 900.9,1204.8 910.9,1206 919.1,1202.3 925.5,1199.5 937.7,1206.5 941.3,1200.3 953.4,1192.8 960.4,1187.6 972.6,1187.4 980.2,1189 989.1,1182.3 998.8,1186.7 1008.1,1185.5 1014.3,1185.3 1026.6,1185.1 1036.5,1182.9 1037.4,1178.2 1049.5,1180.1 1057.1,1178.8 1066.3,1178.1 1069.7,1173.5 1080.8,1167.7 1088.4,1170.1 1094.3,1164.1 1099.6,1159.2 1105.9,1157.4 1113.9,1153.7 1122.2,1153.4 1126.5,1148.9 1127,1132.3 1133,1127.3 1140.8,1117.1 1146.2,1114.5 1155.7,1107.5 1163.2,1105.5 1170.8,1106.7 1181.8,1105.5 1180.4,1101.1 1188.2,1092.8 1186.9,1083.4 1190.6,1077.5 1197.2,1071.8 1196.5,1064.6 1201.6,1057.9 1209.2,1055.9 1206.3,1051.5 1212.2,1038.9 1210.6,1033 1206.1,1021.1 1201.3,1023.4 1189.1,1021.4 1189.6,1016.5 1182.5,1012 1174.6,1006.9 1173.5,999.6 1165.1,998.3 1161.1,989.1 1157.6,980.4 1158.8,975.1 1154.8,973.3 1152.8,959 1150.8,950 1151.4,942 1148.7,937.8 1140.7,929.7 1143.6,925.6 1146.2,909.6 1144.8,901 1143.8,895.1 1138.4,889.2 1136.7,887.4 1128.6,877.1 1125.3,869.1 1119.7,864.6 1119.2,860.3 1108.5,858.1 1102.5,852.4 1094.8,847.2 1088.6,842.2 1079.5,830.6 1084.2,825.7 1088.1,816.2 1083.7,808.8 1082.9,803.7 1088.4,800.7 1098.4,800.2 1107.1,806.8 1115.5,809.7 1120.7,811.2 1125.8,816.5 1134.8,820.8 1136.4,826.9 1143.2,827.7 1150.4,836.2 1151.5,838.5 1165,841.7 1170.6,842.8 1183.4,844.5 1189.8,848.7 1195.5,849 1203.7,847.7 1210.5,851.9 1219.1,851.3 1224.5,859 1235.6,857.2 1239.5,856.6 1248.6,863.1 1253.2,869.2 1266.4,868.7 1271.8,874.1 1281.7,873 1286.1,874.9 1298.7,872.8 1309.1,869.5 1315.4,871.6 1324.7,869.6 1327.9,875.1 1333.7,878.8 1337.3,885.2 1345.7,888.8 1355.4,894.9 1367.2,898.9 1366.6,896 1375,893.7 1381.5,888.4 1390.2,885.3 1395.7,881.9 1408,882.6 1408.6,870.4 1411.8,863.7 1423.2,862.1 1428.8,862.1 1441.4,856.5 1445.8,856.3 1452.2,860.6 1460,863.9 1467.6,867.3 1476.6,869.3 1481.8,867.2 1493.2,874.4 1497,873.7 1503,869.1 1514.1,875.7 1520.7,870.7 1532.8,862.7 1536.9,862.3 1541.3,856 1553.8,847.5 1550.3,842.5 1552.5,833 1560.5,829.5 1556.1,820.5 1563.9,815.9 1557.3,804.8 1558.6,795.9 1563.9,786 1572.1,785.5 1577,786.3 1577.6,770.6 1584.9,766.3 1587,757.7 1593,750.3 1587.4,741.5 1596.7,739.1 1607.1,732.7 1617.3,733.1 1625.6,736.8 1631.2,732.1 1640.4,735 1648,732.8 1654.6,730.7 1662.7,725.9 1666.9,725.1 1674,722.2 1684.2,718.7 1689.2,713.9 1701.9,714.4 1703,711.9 1717.1,718.3 1718.3,724.2 1719.7,728.3 1729.6,730.9 1730.4,743.4 1738.8,747 1741.1,758.5 1747.2,757.1 1755.4,764.1 1765.9,770.4 1767.5,779 1774.4,778.5 1783.2,783 1788.4,786.3 1795.4,784.4 1802.5,789.6 1810.1,792.8 1816.6,797.9 1828.1,793.5 1831.4,800.1 1832.3,805.9 1841.6,811.7 1846.6,822.4 1857.4,824.8 1862.9,828.1 1868.3,830.9 1867.6,840.2 1867,851" fill="none" stroke="#000" stroke-width="3" stroke-linejoin="round" stroke-linecap="round" />
<polyline points="542.5,786 712.5,700 746.5,552.5 818.5,546.5 888.5,454 1085,420 1208,390 1253,359" fill="none" stroke="#ff0000" stroke-width="6" stroke-linejoin="round" stroke-linecap="round" />
<polyline points="1253,359 1375.5,290 1563,232.5 1668,204" fill="none" stroke="#ff0000" stroke-width="6" stroke-linejoin="round" stroke-linecap="round" />
<polyline points="1563,232.5 1590,204" fill="none" stroke="#ff0000" stroke-width="6" stroke-linejoin="round" stroke-linecap="round" />
<polyline points="1818,385 1848,370 1993,267.5 2163,204" fill="none" stroke="#ff0000" stroke-width="6" stroke-linejoin="round" stroke-linecap="round" />
<polyline points="1677,585 1590.5,800 1593,895 1573,961 1525,1070" fill="none" stroke="#ff0000" stroke-width="6" stroke-linejoin="round" stroke-linecap="round" />
<polyline points="1758,590 1759,737.5" fill="none" stroke="#ff0000" stroke-width="6" stroke-linejoin="round" stroke-linecap="round" />
<polyline points="2634,1000 2595,1210 2554,1372.5" fill="none" stroke="#ff0000" stroke-width="6" stroke-linejoin="round" stroke-linecap="round" />
<polyline points="616.5,1399 650,1377.5 690,1352.5 730,1340 770,1322.5 795,1300 810,1282.5 840,1260 870,1242.5 900,1230 925,1226 955,1227.5" fill="none" stroke="#960a0a" stroke-width="6.5" stroke-linejoin="round" stroke-linecap="round" />
<polyline points="730,1360 760,1352.5 795,1335 818.5,1317.5" fill="none" stroke="#960a0a" stroke-width="6.5" stroke-linejoin="round" stroke-linecap="round" />
<polyline points="955,1214 980,1214 1025,1205 1075,1199 1125,1187.5 1165,1172.5 1200,1162.5 1248,1161.5" fill="none" stroke="#960a0a" stroke-width="6.5" stroke-linejoin="round" stroke-linecap="round" />
<polyline points="1600,1125 1680,1105 1770,1080 1840,1035 1900,1010 1980,987.5 2000,962.5 2035,940 2100,910 2150,885 2210,852.5 2258,810" fill="none" stroke="#960a0a" stroke-width="6.5" stroke-linejoin="round" stroke-linecap="round" />
<polyline points="1680,1105 1725,1045 1785,985 1830,957.5 1870,910 1905,879" fill="none" stroke="#960a0a" stroke-width="6.5" stroke-linejoin="round" stroke-linecap="round" />
<polyline points="2032.5,928.5 2065,920 2125,895" fill="none" stroke="#960a0a" stroke-width="6.5" stroke-linejoin="round" stroke-linecap="round" />
<polyline points="1964,1050 1950,1085 1927.5,1134" fill="none" stroke="#960a0a" stroke-width="6.5" stroke-linejoin="round" stroke-linecap="round" />
<polyline points="1815,1211 1860,1175 1890,1152.5 1907.5,1149" fill="none" stroke="#960a0a" stroke-width="6.5" stroke-linejoin="round" stroke-linecap="round" />
<polyline points="2455,959 2410,980 2360,1015 2320,1050 2285,1097.5" fill="none" stroke="#960a0a" stroke-width="6.5" stroke-linejoin="round" stroke-linecap="round" />
<polyline points="2461,971.5 2425,995 2380,1040 2340,1075 2310,1100 2285,1135 2265,1175 2250,1220 2215,1260 2180,1295 2155,1335 2147.5,1377.5" fill="none" stroke="#960a0a" stroke-width="6.5" stroke-linejoin="round" stroke-linecap="round" />
<polyline points="2150,1385 2137.5,1405 2132.5,1440" fill="none" stroke="#960a0a" stroke-width="6.5" stroke-linejoin="round" stroke-linecap="round" />
<polyline points="2126.5,1444 2100,1470 2075,1515 2050,1550 2042.5,1575 2046.5,1595" fill="none" stroke="#960a0a" stroke-width="6.5" stroke-linejoin="round" stroke-linecap="round" />
<polyline points="2041.5,1612.5 2050,1640 2057.5,1661 2065,1681" fill="none" stroke="#960a0a" stroke-width="6.5" stroke-linejoin="round" stroke-linecap="round" />
<polyline points="2302.5,1139 2340,1120 2382.5,1097.5" fill="none" stroke="#960a0a" stroke-width="6.5" stroke-linejoin="round" stroke-linecap="round" />
<polyline points="2324,1150 2355,1122.5 2382.5,1100" fill="none" stroke="#960a0a" stroke-width="6.5" stroke-linejoin="round" stroke-linecap="round" />
<polyline points="2587.5,912.5 2550,937.5 2510,970 2480,1015 2450,1060 2417.5,1120" fill="none" stroke="#960a0a" stroke-width="6.5" stroke-linejoin="round" stroke-linecap="round" />
<polyline points="2515,1017.5 2495,1055 2470,1085 2440,1120 2420,1170 2405,1230 2385,1290 2360,1330 2330,1370 2302.5,1400" fill="none" stroke="#960a0a" stroke-width="6.5" stroke-linejoin="round" stroke-linecap="round" />
<polyline points="2392.5,1187.5 2375,1240 2355,1295" fill="none" stroke="#960a0a" stroke-width="6.5" stroke-linejoin="round" stroke-linecap="round" />
<polyline points="2297.5,1394 2275,1425 2250,1475 2220,1525 2175,1575 2137.5,1620" fill="none" stroke="#960a0a" stroke-width="6.5" stroke-linejoin="round" stroke-linecap="round" />
<polyline points="1562.3,1339.2 1498.8,1384.2 1459.6,1413.6 1416.5,1447 1381.2,1490.1 1349.8,1525.4 1326.3,1562.6" fill="none" stroke="#960a0a" stroke-width="6.5" stroke-linejoin="round" stroke-linecap="round" />
<polyline points="1304.8,1566.5 1295,1595.9 1283.2,1625.3" fill="none" stroke="#960a0a" stroke-width="6.5" stroke-linejoin="round" stroke-linecap="round" />
<polyline points="1326.3,1609.6 1295,1625.3 1263.6,1646.9 1232.2,1680.2 1206.8,1709.6" fill="none" stroke="#960a0a" stroke-width="6.5" stroke-linejoin="round" stroke-linecap="round" />
<polyline points="1212.6,1723.3 1200.9,1756.6 1181.3,1799.8" fill="none" stroke="#960a0a" stroke-width="6.5" stroke-linejoin="round" stroke-linecap="round" />
<polyline points="1355.7,1648.8 1359.6,1709.6 1357.7,1799.8" fill="none" stroke="#960a0a" stroke-width="6.5" stroke-linejoin="round" stroke-linecap="round" />
<polyline points="1100,1192 1165,1172 1205,1162 1300,1163 1400,1160 1480,1150 1525,1135 1600,1125" fill="none" stroke="#960a0a" stroke-width="9" stroke-linejoin="round" stroke-linecap="round" />
<polyline points="1385,1163 1470,1150 1540,1118" fill="none" stroke="#960a0a" stroke-width="9" stroke-linejoin="round" stroke-linecap="round" />
<polyline points="1440,1180 1500,1145 1610,1113" fill="none" stroke="#960a0a" stroke-width="6" stroke-linejoin="round" stroke-linecap="round" />
<path d="M1195 756L1250 1646M1417.5 825.5L1503 1365" stroke="#6a1b8a" stroke-width="3" fill="none"/>
<text x="361" y="956" font-size="69" textLength="308" lengthAdjust="spacing">ประเทศพม่า</text>
<text x="2283" y="577" font-size="69" textLength="294" lengthAdjust="spacing">ประเทศลาว</text>
<text x="399" y="1738" font-size="69" textLength="305.5" lengthAdjust="spacing">ประเทศไทย</text>
<text x="1041" y="1425" font-size="60" textLength="184" lengthAdjust="spacing">เชียงราย</text>
<text x="661" y="1522.5" font-size="60" textLength="204" lengthAdjust="spacing">เชียงใหม่</text>
<text x="897.5" y="402.5" font-size="48.5" transform="rotate(-17 897.5 402.5)" textLength="409.1" lengthAdjust="spacing"><tspan font-size="56">รอยเลื่อน</tspan> Meng xing</text>
<text x="1596.25" y="436.25" font-size="48.5" transform="rotate(-28 1596.25 436.25)" textLength="362.4" lengthAdjust="spacing"><tspan font-size="56">รอยเลื่อน</tspan> Nam ma</text>
<text x="1540" y="846.25" font-size="48.5" transform="rotate(-68.6 1540 846.25)" textLength="370.5" lengthAdjust="spacing"><tspan font-size="56">รอยเลื่อน</tspan> Tachilek</text>
<text x="598" y="1364" font-size="54" transform="rotate(-31.5 598 1364)" textLength="302.5" lengthAdjust="spacing">รอยเลื่อนแม่จัน</text>
<text x="1653.75" y="1063.75" font-size="54" transform="rotate(-45.3 1653.75 1063.75)" textLength="297" lengthAdjust="spacing">รอยเลื่อนแม่จัน</text>
<text x="1907" y="967" font-size="54" transform="rotate(-29.2 1907 967)" textLength="299.1" lengthAdjust="spacing">รอยเลื่อนแม่จัน</text>
<text x="1714" y="1225" font-size="54" transform="rotate(-33.6 1714 1225)" textLength="299.4" lengthAdjust="spacing">รอยเลื่อนแม่จัน</text>
<text x="2055" y="1401" font-size="54" transform="rotate(-54.1 2055 1401)" textLength="293.6" lengthAdjust="spacing">รอยเลื่อนแม่อิง</text>
<text x="2251.25" y="1103.75" font-size="54" transform="rotate(-41.8 2251.25 1103.75)" textLength="288.6" lengthAdjust="spacing">รอยเลื่อนแม่อิง</text>
<text x="2260" y="1384" font-size="54" transform="rotate(-61.3 2260 1384)" textLength="292.9" lengthAdjust="spacing">รอยเลื่อนแม่อิง</text>
<text x="2056.25" y="1652.5" font-size="54" transform="rotate(-48.7 2056.25 1652.5)" textLength="289.6" lengthAdjust="spacing">รอยเลื่อนแม่อิง</text>
<text x="1121.25" y="1718" font-size="54" transform="rotate(-39.8 1121.25 1718)" textLength="299.4" lengthAdjust="spacing">รอยเลื่อนพะเยา</text>
<text x="1245.5" y="976" font-size="48.5" transform="rotate(86.8 1245.5 976)" textLength="442.7" lengthAdjust="spacing"><tspan font-size="56">เส้น</tspan> Cross section <tspan font-size="56">ที่</tspan> 1</text>
<text x="1462.6" y="874.4" font-size="48.5" transform="rotate(81.5 1462.6 874.4)" textLength="436.9" lengthAdjust="spacing"><tspan font-size="56">เส้น</tspan> Cross section <tspan font-size="56">ที่</tspan> 2</text>
<text x="327.3" y="284" text-anchor="middle" font-family="'Liberation Sans','Noto Sans Thai','Loma','FreeSans',sans-serif" font-size="90">N</text>
<polygon points="326.2,301 267.1,502.3 326.8,432.7" fill="#000"/>
<polygon points="326.2,301 386.5,502.3 326.8,432.7" fill="none" stroke="#000" stroke-width="4.2" stroke-linejoin="miter"/>
<rect x="1766" y="1708" width="453.5" height="44.5" fill="#000"/>
<rect x="1797.28" y="1712.3" width="26.075" height="15.7" fill="#fff"/>
<rect x="1853.42" y="1712.3" width="26.075" height="15.7" fill="#fff"/>
<rect x="1993.8" y="1712.3" width="110.3" height="15.7" fill="#fff"/>
<rect x="1769.2" y="1732.7" width="26.075" height="15.7" fill="#fff"/>
<rect x="1825.35" y="1732.7" width="26.075" height="15.7" fill="#fff"/>
<rect x="1881.5" y="1732.7" width="110.3" height="15.7" fill="#fff"/>
<rect x="2106.1" y="1732.7" width="110.3" height="15.7" fill="#fff"/>
<g font-family="'Liberation Sans','Noto Sans Thai','Loma','FreeSans',sans-serif" font-size="35.5" text-anchor="middle">
<text x="1767.4" y="1685">0</text>
<text x="1823" y="1685">5</text>
<text x="1880" y="1685">10</text>
<text x="1992" y="1685">20</text>
<text x="2104.6" y="1685">30</text>
<text x="2217.5" y="1685">40</text>
</g>
<text x="2221.5" y="1749.6" font-size="70" textLength="239" lengthAdjust="spacing">กิโลเมตร</text>
<g font-family="'Liberation Sans','Noto Sans Thai','Loma','FreeSans',sans-serif" font-size="20.5" fill="#55585c" stroke="#fff" stroke-width="2.5" paint-order="stroke" stroke-opacity=".85">
<text x="1403.5" y="1696.5" textLength="1202">Sources: Esri, HERE, DeLorme, Intermap, increment P Corp., GEBCO, USGS, FAO, NPS, NRCAN, GeoBase, IGN, Kadaster</text>
<text x="1403.5" y="1742.5" textLength="1190">NL, Ordnance Survey, Esri Japan, METI, Esri China (Hong Kong), swisstopo, MapmyIndia, © OpenStreetMap contributors,</text>
<text x="1403.5" y="1789" textLength="284">and the GIS User Community</text>
</g>
</g>
<rect x="176" y="204" width="2458" height="1599" fill="none" stroke="#000" stroke-width="4"/>
<path d="M507.5 180.5V204M507.5 1803V1826.5M1133 180.5V204M1133 1803V1826.5M1758 180.5V204M1758 1803V1826.5M2383.5 180.5V204M2383.5 1803V1826.5M155 666.5H176M2634 666.5H2655.5M155 1292.5H176M2634 1292.5H2655.5" stroke="#000" stroke-width="6" fill="none"/>
<g font-size="48">
<text x="506" y="149.5" text-anchor="middle">99</text><text x="506" y="1898.5" text-anchor="middle">99</text>
<text x="1131.5" y="149.5" text-anchor="middle">99.5</text><text x="1131.5" y="1898.5" text-anchor="middle">99.5</text>
<text x="1757" y="149.5" text-anchor="middle">100</text><text x="1757" y="1898.5" text-anchor="middle">100</text>
<text x="2382" y="149.5" text-anchor="middle">100.5</text><text x="2382" y="1898.5" text-anchor="middle">100.5</text>
<text x="148" y="689" text-anchor="end">20.5</text><text x="2658" y="689">20.5</text>
<text x="148" y="1314.5" text-anchor="end">20</text><text x="2658" y="1314.5">20</text>
</g>
<rect x="2755.5" y="164.5" width="654.5" height="2230.5" fill="#fff" stroke="#000" stroke-width="2"/>
<text x="2796" y="270.5" font-size="90" font-weight="bold" textLength="573" lengthAdjust="spacingAndGlyphs">คำอธิบายสัญลักษณ์</text>
<path d="M2802 357.5H2935" stroke="#ff0000" stroke-width="17" stroke-linecap="round"/>
<text x="2960" y="381.5" font-size="58" textLength="209" lengthAdjust="spacing">รอยเลื่อน</text>
<text x="2774.5" y="506.5" font-size="56" textLength="615" lengthAdjust="spacing">อัตราการเคลื่อนตัวของแผ่นดิน</text>
<text x="3014.5" y="611" font-size="54" font-weight="bold" textLength="124.5" lengthAdjust="spacing">มม./ปี</text>
<circle cx="2905" cy="707.7" r="5.2" fill="#ff0000"/>
<text x="2986" y="729.9" font-size="44" textLength="359" lengthAdjust="spacing">-204.00 ถึง -60.01</text>
<circle cx="2905" cy="830.1" r="5.2" fill="#ff8c00"/>
<text x="2986" y="852.3" font-size="44" textLength="333.7" lengthAdjust="spacing">-60.00 ถึง -40.01</text>
<circle cx="2905" cy="952.5" r="5.2" fill="#ffdd00"/>
<text x="2986" y="974.7" font-size="44" textLength="333.7" lengthAdjust="spacing">-40.00 ถึง -20.01</text>
<circle cx="2905" cy="1074.9" r="5.2" fill="#d4ff50"/>
<text x="2986" y="1097.1" font-size="44" textLength="296.2" lengthAdjust="spacing">-20.00 ถึง 0.00</text>
<circle cx="2905" cy="1197.3" r="5.2" fill="#80ffb4"/>
<text x="2986" y="1219.5" font-size="44" textLength="274.9" lengthAdjust="spacing">0.01 ถึง 20.01</text>
<circle cx="2905" cy="1319.7" r="5.2" fill="#33ccff"/>
<text x="2986" y="1341.9" font-size="44" textLength="300.2" lengthAdjust="spacing">20.02 ถึง 40.01</text>
<circle cx="2905" cy="1442.1" r="5.2" fill="#3f80ff"/>
<text x="2986" y="1464.3" font-size="44" textLength="303" lengthAdjust="spacing">40.02 ถึง 60.00</text>
<circle cx="2905" cy="1564.5" r="5.2" fill="#0000ff"/>
<text x="2986" y="1586.7" font-size="44" textLength="327.6" lengthAdjust="spacing">60.01 ถึง 201.00</text>
<rect x="163.5" y="1914.5" width="1181" height="474" fill="#fff" stroke="#000" stroke-width="5"/>
<path d="M203.4 1995.3V2370.9M357.5 1995.3V2370.9M511.6 1995.3V2370.9M665.7 1995.3V2370.9M819.8 1995.3V2370.9M973.9 1995.3V2370.9M1128 1995.3V2370.9M1282.1 1995.3V2370.9M203.4 1995.3H1306.9M203.4 2042.25H1306.9M203.4 2089.2H1306.9M203.4 2136.15H1306.9M203.4 2183.1H1306.9M203.4 2230.05H1306.9M203.4 2277H1306.9M203.4 2323.95H1306.9M203.4 2370.9H1306.9" stroke="#d9d9d9" stroke-width="1.3" fill="none"/>
<path d="M723 1995.3V2370.9" stroke="#bfbfbf" stroke-width="1.6"/>
<path d="M203.4 2136.3H1306.9" stroke="#8c1515" stroke-width="1.8"/>
<path d="M203.4 2131.3v5M357.5 2131.3v5M511.6 2131.3v5M665.7 2131.3v5M819.8 2131.3v5M973.9 2131.3v5M1128 2131.3v5M1282.1 2131.3v5" stroke="#8c1515" stroke-width="1.3"/>
<g font-family="'Liberation Sans','Noto Sans Thai','Loma','FreeSans',sans-serif" fill="#595959" font-size="11.5">
<text x="203.4" y="2159" text-anchor="middle">-33,700</text>
<text x="357.5" y="2159" text-anchor="middle">-23,700</text>
<text x="511.6" y="2159" text-anchor="middle">-13,700</text>
<text x="665.7" y="2159" text-anchor="middle">-3,700</text>
<text x="819.8" y="2159" text-anchor="middle">6,300</text>
<text x="973.9" y="2159" text-anchor="middle">16,300</text>
<text x="1128" y="2159" text-anchor="middle">26,300</text>
<text x="1282.1" y="2159" text-anchor="middle">36,300</text>
<text x="709" y="1999.3" text-anchor="end">60</text>
<text x="709" y="2046.25" text-anchor="end">40</text>
<text x="709" y="2093.2" text-anchor="end">20</text>
<text x="709" y="2140.15" text-anchor="end">0</text>
<text x="709" y="2187.1" text-anchor="end">-20</text>
<text x="709" y="2234.05" text-anchor="end">-40</text>
<text x="709" y="2281" text-anchor="end">-60</text>
<text x="709" y="2327.95" text-anchor="end">-80</text>
<text x="709" y="2374.9" text-anchor="end">-100</text>
<text x="1285" y="2116" font-size="17" textLength="45">Meter</text>
<text x="762.5" y="2365" font-size="17" textLength="78">Millimeter</text>
</g>
<text x="754" y="1957" text-anchor="middle" font-family="'Liberation Sans','Noto Sans Thai','Loma','FreeSans',sans-serif" font-size="22.5" fill="#111" textLength="260" lengthAdjust="spacing">เส้น Cross Section ที่ 1</text>
<polyline points="204.5,2181.2 205.8,2169.5 210,2167.5 213.8,2164.5 220,2163 223.8,2158.8 227,2152.5 231.2,2158 236.2,2158.8 238.8,2152.5 241.2,2137.5 243.8,2121.2 247,2110.5 254.5,2109.2 258.8,2090 265,2090.5 269.5,2098.8 274.2,2131.2 278,2082.5 282.5,2083.8 285.8,2093 290,2066.2 295,2063.2 299.2,2065 301.8,2071.2 307.5,2057.5 310.5,2052.5 314.2,2050.8 318,2039.2 320,2040.5 323.8,2053.8 327,2065 330.5,2066.2 333.8,2055 338.8,2055 342.5,2058.8 346.8,2090 350,2091.8 353.8,2081.2 357.5,2079.5 361.2,2087.5 365.8,2115 368,2105 371.2,2073.8 374.2,2069.2 377.5,2110 380,2120 384.5,2120 389.2,2116.2 393.8,2097.5 397.5,2088 400,2090 403.2,2097.5 406.8,2099.5 410,2051.2 413.8,2049.5 417.5,2040 420,2038.8 423,2041.2 425,2067.5 427,2095 430,2085 432,2097.5 434.5,2115 436.2,2115 440,2105 442.5,2101.8 445,2104.2 448.8,2102.5 451.2,2098.8 453.8,2105 458,2091.2 462.5,2090 466,2084.5 469.5,2092.5 473.8,2103.8 477.5,2110.5 481.2,2106.2 485,2104.2 489.5,2106.2 492,2120 494.5,2137.5 497,2127.5 499.5,2128.8 502.5,2168.8 505,2142.5 507.5,2139.5 510.8,2137.5 514.2,2126.8 517.5,2133 522,2125.8 526.2,2135 530,2140 533.8,2147.5 536.2,2165 538.8,2178.8 542.5,2180 546.2,2171.2 550,2186.2 553.8,2188.2 558,2183.8 561.2,2160 563.8,2135 566.8,2118.2 568.8,2127.5 570.8,2145.5 575,2142.5 578.8,2142.5 582.5,2138 586.2,2146.2 590,2135 595,2132.5 598.8,2115 602,2096.2 604.5,2095 607,2105 610,2130 612.5,2137.5 617.5,2133 621.2,2132.5 624.5,2137.5 627,2145 630.5,2145.5 633.8,2165 637.5,2197.5 640,2198.8 643.8,2194.2 647,2194.5 651.2,2200 654.5,2207.5 658,2207.5 661.2,2177.5 665,2176.2 669.5,2177.5 672.5,2187.5 675,2192.5 678.8,2180 682.5,2172.5 686.2,2165 690,2180 693.8,2192.5 696.2,2170 698.8,2147.5 701.2,2137.5 705,2135 708.8,2136.2 712.5,2138.8 715,2143.8 718.8,2127.5 722,2124.5 724.5,2140 727,2168.8 730,2160 733,2158 736.2,2165 740,2187.5 743.8,2205 747.5,2210 751.2,2208.8 755,2197.5 758.8,2182.5 762.5,2171.2 767.5,2168 772.5,2160.5 776.2,2158 779.5,2158 781.2,2180 783.2,2215 785.8,2165 788,2165.5 790,2180 792.5,2196.2 796.2,2196.2 800,2193.2 803,2193.8 805.5,2212.5 808,2223.8 811.2,2210 814.5,2200 817,2202.5 820,2212.5 823,2214.2 826.2,2205 830,2190 833.8,2177.5 836.2,2176.2 838.8,2180 841.2,2200 843.2,2214.2 846.2,2197.5 848.8,2189.5 851.2,2193.8 853.8,2190 856.2,2191.2 858.8,2203.8 862,2212.5 864.5,2200 867,2172.5 870,2168.8 872.5,2170 875,2190 877.5,2200 880,2205 882.5,2215 885,2220.5 888,2220.5 891.2,2215 895,2201.2 898.8,2193.8 901.2,2177.5 903.8,2170 906.2,2177.5 910,2192.5 912,2195.5 915,2190 918.8,2180 922,2181.2 923.8,2185.5 927.5,2185.5 929.5,2175 932,2171.2 934.5,2187.5 937,2200 939.5,2204.5 942.5,2200 945,2187.5 947.5,2170 950,2163.2 952,2165 954.5,2180 957,2197.5 959.5,2205 962.5,2202.5 967.5,2201.2 969.5,2180 972,2168.8 973.8,2177.5 975.8,2186.2 978,2177.5 981.2,2169.2 983.8,2170 986.2,2178.8 988.8,2180.8 993.8,2178.8 996.2,2177.5 998.8,2167.5 1001.2,2172.5 1003.8,2180 1007.5,2183.2 1011.2,2182.5 1015,2175 1018.8,2167.5 1022.5,2166.2 1026.2,2168.8 1031.2,2173 1037.5,2173 1042.5,2172 1047.5,2172 1051.2,2178.8 1055,2180.5 1058.8,2180.5 1060.8,2205 1063,2218.8 1065.5,2205 1068,2180 1070.5,2169.2 1072.5,2170 1074.2,2195 1075.8,2210.5 1080,2208.8 1083.8,2200 1087.5,2187.5 1090.5,2181.2 1093.8,2183.8 1096.2,2192.5 1098.8,2213.8 1101.2,2212.5 1103.8,2206.2 1107,2206.2 1109,2220 1111.2,2229.5 1113.8,2220 1116.2,2211.2 1118.8,2209.5 1121.2,2216.2 1125,2235 1128,2245 1130.5,2247 1133.8,2237.5 1137.5,2223.8 1141.2,2211.2 1144.5,2205 1147.5,2207.5 1150,2217.5 1153,2226.2 1156.2,2232.5 1160,2247.5 1163.8,2260 1167.5,2260 1170,2253.8 1172.5,2252.5 1175,2265 1177.5,2287.5 1180,2305 1182.5,2317.5 1184.5,2316.2 1187,2298.8 1191.2,2296.2 1195,2285 1199.5,2270 1202.5,2250 1205.5,2226.2 1208,2220 1210,2235 1212.5,2233.8 1214.5,2228.8 1217.5,2230 1220.5,2237.5 1223.8,2244.5 1228.8,2243 1232.5,2237.5 1235.5,2235 1238.8,2237.5 1242,2233.8 1245,2233.8 1248.8,2238.8 1252.5,2242.5 1255,2243.8 1257.5,2230 1260,2223.8 1262.5,2225 1266.2,2228.8 1270,2229.2 1272.5,2235 1276.2,2247.5 1280,2260 1282.5,2266.8 1285.5,2266.2 1288,2257.5 1290.5,2235 1293,2215 1295.5,2210 1298.8,2213.8 1302,2215.5 1304.5,2212" fill="none" stroke="#a50e0e" stroke-width="2.4" stroke-linejoin="round" stroke-linecap="round"/>
<rect x="1448.5" y="1916.5" width="1180" height="474" fill="#fff" stroke="#000" stroke-width="5"/>
<path d="M1487.2 1997.5V2373.7M1611.27 1997.5V2373.7M1735.34 1997.5V2373.7M1859.41 1997.5V2373.7M1983.48 1997.5V2373.7M2107.55 1997.5V2373.7M2231.62 1997.5V2373.7M2355.69 1997.5V2373.7M2479.76 1997.5V2373.7M1487.2 1997.5H2590.7M1487.2 2035.12H2590.7M1487.2 2072.74H2590.7M1487.2 2110.36H2590.7M1487.2 2147.98H2590.7M1487.2 2185.6H2590.7M1487.2 2223.22H2590.7M1487.2 2260.84H2590.7M1487.2 2298.46H2590.7M1487.2 2336.08H2590.7M1487.2 2373.7H2590.7" stroke="#d9d9d9" stroke-width="1.3" fill="none"/>
<path d="M2169 1997.5V2373.7" stroke="#bfbfbf" stroke-width="1.6"/>
<path d="M1487.2 2148H2590.7" stroke="#8c1515" stroke-width="1.3"/>
<path d="M1487.2 2143v5M1611.27 2143v5M1735.34 2143v5M1859.41 2143v5M1983.48 2143v5M2107.55 2143v5M2231.62 2143v5M2355.69 2143v5M2479.76 2143v5" stroke="#8c1515" stroke-width="1.3"/>
<g font-family="'Liberation Sans','Noto Sans Thai','Loma','FreeSans',sans-serif" fill="#595959" font-size="11.5">
<text x="1487.2" y="2170.5" text-anchor="middle">-27,500</text>
<text x="1611.27" y="2170.5" text-anchor="middle">-22,500</text>
<text x="1735.34" y="2170.5" text-anchor="middle">-17,500</text>
<text x="1859.41" y="2170.5" text-anchor="middle">-12,500</text>
<text x="1983.48" y="2170.5" text-anchor="middle">-7,500</text>
<text x="2107.55" y="2170.5" text-anchor="middle">-2,500</text>
<text x="2231.62" y="2170.5" text-anchor="middle">2,500</text>
<text x="2355.69" y="2170.5" text-anchor="middle">7,500</text>
<text x="2479.76" y="2170.5" text-anchor="middle">12,500</text>
<text x="2156" y="2001.5" text-anchor="end">40</text>
<text x="2156" y="2039.12" text-anchor="end">30</text>
<text x="2156" y="2076.74" text-anchor="end">20</text>
<text x="2156" y="2114.36" text-anchor="end">10</text>
<text x="2156" y="2151.98" text-anchor="end">0</text>
<text x="2156" y="2189.6" text-anchor="end">-10</text>
<text x="2156" y="2227.22" text-anchor="end">-20</text>
<text x="2156" y="2264.84" text-anchor="end">-30</text>
<text x="2156" y="2302.46" text-anchor="end">-40</text>
<text x="2156" y="2340.08" text-anchor="end">-50</text>
<text x="2156" y="2377.7" text-anchor="end">-60</text>
<text x="2569" y="2118" font-size="17" textLength="45">Meter</text>
<text x="2047" y="2366.5" font-size="17" textLength="78">Millimeter</text>
</g>
<text x="2039" y="1958.5" text-anchor="middle" font-family="'Liberation Sans','Noto Sans Thai','Loma','FreeSans',sans-serif" font-size="22.5" fill="#111" textLength="260" lengthAdjust="spacing">เส้น Cross Section ที่ 2</text>
<polyline points="1497,2202.5 1500,2203.8 1503.8,2197.5 1507.5,2188.8 1511.2,2173.8 1515,2157.5 1518.8,2141.2 1522.5,2136.2 1526.2,2137 1528.8,2143.8 1532,2156.2 1535,2155 1538,2148 1540.5,2150 1543.8,2165 1546.2,2177 1549.5,2173.8 1552,2171.2 1554.5,2190 1557,2213.8 1559.5,2223.2 1561.2,2221.2 1563.8,2202.5 1567,2177.5 1570,2155 1573,2142.5 1576.2,2136.2 1579.2,2133 1582.5,2135 1586.2,2135 1590,2132.5 1592,2137.5 1593.8,2147.5 1596.2,2161.2 1599.5,2165 1603.8,2165 1608.8,2164.5 1612.5,2162.5 1616.2,2157.5 1618.8,2147.5 1621.2,2130 1623.8,2112.5 1626.2,2092.5 1628.8,2082.5 1630.8,2081.2 1633,2092.5 1635.5,2104.5 1640,2104.5 1645,2103.8 1650,2103.8 1653.8,2098.8 1656.2,2090 1658.8,2070 1661.2,2056.2 1664.5,2053 1667.5,2055 1670.5,2062.5 1673.8,2074.5 1677.5,2075.5 1680.8,2075 1683.8,2086.2 1687,2097.5 1690,2098.8 1693.8,2096.2 1697.5,2090 1701.2,2082.5 1704.5,2078 1707,2078 1708.8,2095 1710.5,2112.5 1712.5,2122.5 1715,2121.2 1717.5,2110 1720,2107.5 1722.5,2112.5 1725,2116.2 1727.5,2113.8 1730,2105 1733,2092.5 1736.2,2075 1740,2056.2 1743.8,2041.2 1746.2,2037.5 1750,2037.5 1753.8,2036.2 1756.2,2033.8 1758.8,2037.5 1761.2,2050 1763.8,2063.8 1767,2068.8 1770,2073.8 1772,2090 1773.8,2115 1775.8,2135 1777.5,2140.5 1781.2,2141.2 1784.5,2140 1787.5,2130 1790,2117.5 1792.5,2100 1795,2093.8 1798.8,2090 1803.8,2088 1810,2086.8 1817.5,2087 1822,2088.8 1825,2092.5 1827,2105 1829.5,2122.5 1832.5,2135 1835.5,2143 1838.8,2145 1842,2143.8 1845,2137.5 1848.8,2132.5 1852.5,2131.2 1856.2,2133 1860,2135.5 1863.8,2135.8 1867,2136.2 1870,2139.5 1873.8,2140.5 1877.5,2133.8 1880,2130 1884.5,2128.8 1888,2126.2 1891.2,2121.2 1893.8,2121.2 1896.2,2127.5 1899.5,2129.5 1902.5,2122.5 1905,2118 1908.8,2115 1912,2111.2 1914.5,2090 1917,2072 1919.2,2072 1921.2,2090 1923.8,2115 1925.8,2126.2 1928.8,2123.8 1932,2115 1935,2098.8 1938,2086.2 1941.2,2083.2 1944.5,2084.5 1947,2095 1950,2107.5 1953.8,2108 1957.5,2107 1962.5,2108 1967,2110 1970,2115 1972.5,2127.5 1975,2138.8 1978.8,2138 1983.8,2137 1992.5,2138 2005,2139.5 2017.5,2141.2 2028.8,2142 2033.8,2138.8 2040,2133.8 2046.2,2127.5 2051.2,2122 2058.8,2115 2062.5,2109.2 2065.5,2108.2 2068,2112.5 2071.2,2123.8 2075,2135 2078.8,2141.2 2082.5,2141.2 2086.2,2135 2088.8,2121.2 2090.8,2113.2 2092.5,2115 2094.2,2135 2096.2,2165 2098.8,2185 2102.5,2190 2105.5,2197.5 2108,2212.5 2110.8,2222.5 2115,2223.8 2117.5,2222.5 2120,2207.5 2122.5,2185 2125,2173.8 2128,2171.2 2132.5,2173.8 2137.5,2177 2142.5,2179.5 2147.5,2180 2150.8,2177.5 2153,2160 2155,2140 2157,2134.2 2160,2134.2 2163.8,2137 2167.5,2142 2169.5,2150 2171.2,2167.5 2173.2,2185 2175,2198.8 2178.8,2199.2 2182.5,2196.2 2186.2,2191.2 2189.5,2185 2192,2176.2 2194.2,2173.8 2196.2,2182.5 2198,2202.5 2200,2220 2202,2226.2 2204.5,2221.2 2207,2214.2 2209.5,2218.8 2212.5,2230 2215.5,2242.5 2218.8,2250 2221.2,2242.5 2223.8,2220 2226.2,2201.2 2228,2198.8 2230,2215 2232,2240 2233.8,2252 2237.5,2252.5 2240.8,2252.5 2243.8,2258.8 2246.2,2263.8 2250,2262.5 2253.8,2260.5 2258.8,2262 2261.2,2247.5 2263.8,2225 2265.8,2222 2268,2231.2 2270.5,2242.5 2273,2237.5 2275.5,2220 2277.5,2211.8 2279.5,2213.8 2282,2232.5 2284.5,2245 2287,2235 2289.5,2215 2292,2201.2 2295,2198.8 2297,2197 2298.8,2210 2300.5,2247.5 2302,2285 2303.8,2303.8 2305.8,2303.8 2308,2285 2310.5,2272.5 2313.8,2268.8 2317.5,2270 2321.2,2276.2 2325,2279.5 2328.8,2278 2331.2,2285 2334.5,2300 2337.5,2312.5 2340,2322.5 2342.5,2325 2345,2317.5 2348,2302.5 2351.2,2292.5 2354.5,2288.2 2356.2,2291.2 2358.8,2303.8 2362,2317.5 2365,2327.5 2368,2333 2371.2,2331.2 2374.5,2327 2377,2331.2 2379.5,2336.2 2382,2333.8 2384.5,2322.5 2387,2316.8 2390,2317.5 2393,2325 2395.5,2340 2398,2353.8 2400,2357.5 2402.5,2350 2405,2332.5 2408,2323.8 2412.5,2318.8 2416.2,2318.2 2420,2320 2423.8,2313.8 2427.5,2308.8 2431.2,2303.8 2435,2292.5 2438.8,2280 2442.5,2266.2 2445.5,2262 2447.5,2266.2 2450,2282.5 2453,2298.8 2456.2,2308.8 2458.8,2306.2 2462,2290 2465,2272.5 2468,2256.2 2470.5,2252.5 2473,2257.5 2475.5,2272.5 2478.8,2285 2482,2293.8 2485,2305 2488.8,2313.8 2492.5,2318.2 2497.5,2319.5 2502.5,2316.2 2507.5,2308.8 2511.2,2302.5 2514.5,2301.2 2516.2,2310 2518.8,2330 2521.2,2342.5 2523.8,2340 2526.2,2330 2530,2322.5 2533.8,2319.5 2537.5,2319.5 2541.2,2323.8 2544.5,2331.2 2547.5,2333.8 2550.5,2328.8 2553.8,2322.5 2557.5,2323.8 2561.2,2328.8 2565,2330.8 2568,2327.5 2570.5,2317.5 2573.8,2311.2 2577,2313.8 2580,2317" fill="none" stroke="#a50e0e" stroke-width="2.4" stroke-linejoin="round" stroke-linecap="round"/>
</svg>
</body></html>
